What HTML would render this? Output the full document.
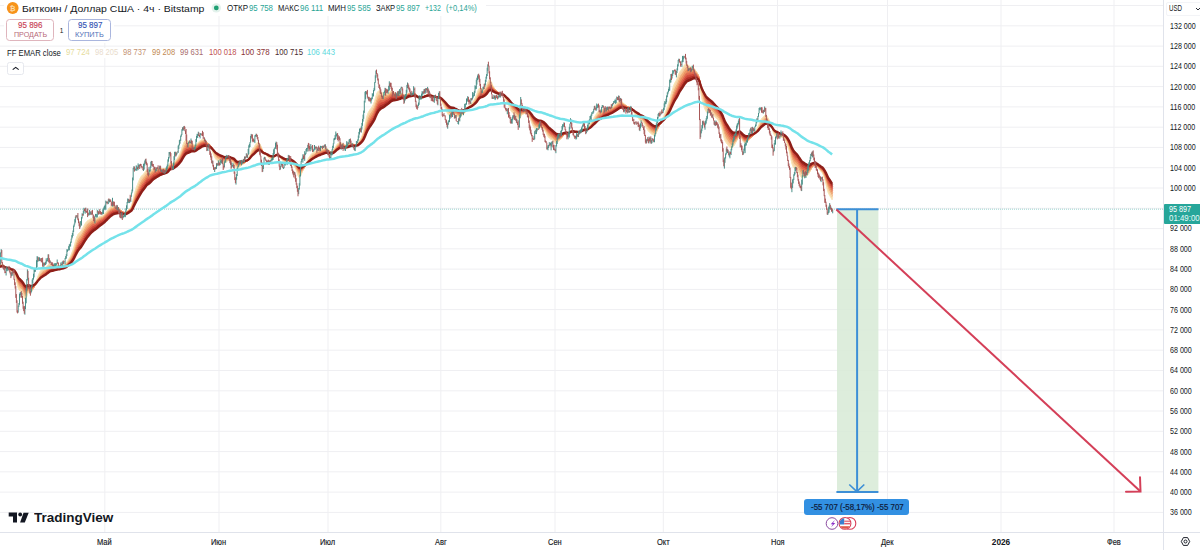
<!DOCTYPE html>
<html><head><meta charset="utf-8"><style>
*{margin:0;padding:0;box-sizing:border-box}
body{width:1200px;height:550px;overflow:hidden;background:#fff;position:relative;font-family:"Liberation Sans",sans-serif;color:#131722}
svg{position:absolute;left:0;top:0;overflow:visible}
.pl{position:absolute;left:1170px;white-space:nowrap;font-size:7.8px;line-height:7.8px;color:#131722;letter-spacing:-0.34px}
.ml{position:absolute;top:538.2px;width:40px;text-align:center;font-size:7.5px;line-height:7.5px;color:#131722}
.b{font-weight:bold}
.abs{position:absolute;white-space:nowrap;line-height:1}
</style></head><body>
<svg width="1200" height="550">
<g stroke="#efeff2" stroke-width="1"><line x1="0" x2="1163" y1="5.5" y2="5.5" />
<line x1="0" x2="1163" y1="25.8" y2="25.8" />
<line x1="0" x2="1163" y1="46.1" y2="46.1" />
<line x1="0" x2="1163" y1="66.3" y2="66.3" />
<line x1="0" x2="1163" y1="86.6" y2="86.6" />
<line x1="0" x2="1163" y1="106.9" y2="106.9" />
<line x1="0" x2="1163" y1="127.2" y2="127.2" />
<line x1="0" x2="1163" y1="147.4" y2="147.4" />
<line x1="0" x2="1163" y1="167.7" y2="167.7" />
<line x1="0" x2="1163" y1="188.0" y2="188.0" />
<line x1="0" x2="1163" y1="208.3" y2="208.3" />
<line x1="0" x2="1163" y1="228.6" y2="228.6" />
<line x1="0" x2="1163" y1="248.8" y2="248.8" />
<line x1="0" x2="1163" y1="269.1" y2="269.1" />
<line x1="0" x2="1163" y1="289.4" y2="289.4" />
<line x1="0" x2="1163" y1="309.6" y2="309.6" />
<line x1="0" x2="1163" y1="329.9" y2="329.9" />
<line x1="0" x2="1163" y1="350.2" y2="350.2" />
<line x1="0" x2="1163" y1="370.5" y2="370.5" />
<line x1="0" x2="1163" y1="390.8" y2="390.8" />
<line x1="0" x2="1163" y1="411.0" y2="411.0" />
<line x1="0" x2="1163" y1="431.3" y2="431.3" />
<line x1="0" x2="1163" y1="451.6" y2="451.6" />
<line x1="0" x2="1163" y1="471.8" y2="471.8" />
<line x1="0" x2="1163" y1="492.1" y2="492.1" />
<line x1="0" x2="1163" y1="512.4" y2="512.4" />
<line y1="0" y2="532" x1="104.8" x2="104.8" />
<line y1="0" y2="532" x1="219" x2="219" />
<line y1="0" y2="532" x1="328" x2="328" />
<line y1="0" y2="532" x1="440.8" x2="440.8" />
<line y1="0" y2="532" x1="555" x2="555" />
<line y1="0" y2="532" x1="663.3" x2="663.3" />
<line y1="0" y2="532" x1="777.5" x2="777.5" />
<line y1="0" y2="532" x1="887.5" x2="887.5" />
<line y1="0" y2="532" x1="1001" x2="1001" />
<line y1="0" y2="532" x1="1114" x2="1114" /></g>
<line x1="0" x2="1163" y1="209.2" y2="209.2" stroke="#26a69a" stroke-width="1" stroke-dasharray="1,1" opacity="0.45"/>
<path d="M0.0,266.9 L1.2,264.3 L2.4,264.5 L3.6,265.4 L4.9,266.5 L6.1,267.6 L7.3,268.2 L8.5,268.6 L9.7,269.3 L10.9,270.8 L12.2,271.5 L13.4,272.0 L14.6,274.0 L15.8,277.6 L17.0,283.1 L18.2,288.1 L19.5,290.4 L20.7,291.3 L21.9,292.4 L23.1,295.0 L24.3,298.2 L25.5,299.2 L26.8,296.6 L28.0,292.7 L29.2,291.7 L30.4,292.0 L31.6,291.2 L32.8,289.4 L34.1,286.6 L35.3,283.6 L36.5,280.6 L37.7,276.9 L38.9,274.1 L40.1,271.6 L41.4,269.9 L42.6,268.9 L43.8,268.3 L45.0,267.8 L46.2,266.9 L47.4,265.7 L48.7,264.3 L49.9,264.1 L51.1,264.0 L52.3,264.4 L53.5,265.0 L54.7,265.4 L56.0,265.5 L57.2,265.2 L58.4,265.5 L59.6,265.9 L60.8,265.9 L62.0,265.8 L63.3,265.3 L64.5,264.9 L65.7,264.0 L66.9,262.2 L68.1,260.4 L69.3,258.3 L70.6,256.1 L71.8,253.1 L73.0,250.0 L74.2,246.0 L75.4,241.6 L76.6,237.6 L77.9,234.6 L79.1,233.1 L80.3,232.2 L81.5,230.6 L82.7,228.4 L83.9,225.9 L85.2,223.6 L86.4,221.9 L87.6,220.8 L88.8,220.1 L90.0,219.3 L91.2,218.7 L92.5,218.2 L93.7,218.6 L94.9,218.9 L96.1,218.7 L97.3,218.0 L98.5,217.3 L99.8,216.6 L101.0,216.3 L102.2,216.0 L103.4,215.2 L104.6,214.0 L105.8,212.3 L107.1,210.7 L108.3,209.2 L109.5,207.8 L110.7,206.8 L111.9,206.5 L113.1,206.0 L114.4,206.1 L115.6,206.7 L116.8,207.1 L118.0,207.5 L119.2,208.6 L120.4,210.1 L121.7,211.5 L122.9,212.8 L124.1,213.6 L125.3,213.7 L126.5,212.8 L127.7,211.0 L128.9,209.5 L130.2,208.1 L131.4,205.9 L132.6,202.2 L133.8,196.4 L135.0,191.9 L136.2,188.0 L137.5,184.7 L138.7,181.5 L139.9,178.8 L141.1,176.6 L142.3,175.2 L143.5,174.3 L144.8,172.4 L146.0,170.5 L147.2,170.1 L148.4,171.0 L149.6,171.0 L150.8,170.3 L152.1,169.1 L153.3,168.5 L154.5,168.5 L155.7,168.8 L156.9,168.5 L158.1,168.4 L159.4,168.1 L160.6,168.2 L161.8,168.4 L163.0,168.7 L164.2,168.9 L165.4,169.1 L166.7,168.7 L167.9,167.4 L169.1,164.9 L170.3,162.6 L171.5,162.8 L172.7,163.6 L174.0,162.9 L175.2,161.1 L176.4,159.6 L177.6,158.1 L178.8,156.1 L180.0,153.5 L181.3,150.2 L182.5,146.4 L183.7,143.0 L184.9,140.8 L186.1,139.7 L187.3,140.8 L188.6,141.5 L189.8,141.8 L191.0,142.0 L192.2,142.9 L193.4,144.3 L194.6,145.3 L195.9,145.1 L197.1,143.7 L198.3,142.3 L199.5,141.4 L200.7,140.4 L201.9,139.7 L203.2,139.4 L204.4,139.7 L205.6,140.4 L206.8,142.1 L208.0,143.4 L209.2,144.3 L210.5,146.6 L211.7,149.6 L212.9,152.6 L214.1,155.9 L215.3,158.4 L216.5,160.0 L217.8,160.9 L219.0,161.5 L220.2,162.0 L221.4,162.0 L222.6,162.3 L223.8,163.2 L225.1,163.0 L226.3,161.9 L227.5,161.0 L228.7,160.1 L229.9,160.2 L231.1,161.0 L232.4,161.8 L233.6,162.5 L234.8,164.8 L236.0,167.7 L237.2,168.4 L238.4,167.8 L239.7,166.7 L240.9,165.7 L242.1,164.8 L243.3,163.9 L244.5,162.7 L245.7,161.6 L247.0,160.4 L248.2,159.0 L249.4,156.4 L250.6,153.2 L251.8,150.0 L253.0,148.2 L254.3,146.8 L255.5,144.7 L256.7,142.9 L257.9,142.2 L259.1,142.7 L260.3,144.7 L261.5,148.0 L262.8,151.9 L264.0,153.4 L265.2,154.3 L266.4,155.6 L267.6,156.7 L268.8,157.9 L270.1,158.7 L271.3,159.1 L272.5,159.2 L273.7,158.0 L274.9,156.4 L276.1,154.3 L277.4,153.9 L278.6,154.7 L279.8,157.2 L281.0,158.9 L282.2,160.1 L283.4,161.6 L284.7,162.4 L285.9,162.6 L287.1,162.3 L288.3,161.5 L289.5,161.1 L290.7,161.6 L292.0,163.0 L293.2,164.8 L294.4,166.6 L295.6,168.7 L296.8,171.7 L298.0,175.5 L299.3,177.4 L300.5,176.2 L301.7,173.3 L302.9,170.4 L304.1,168.0 L305.3,165.3 L306.6,162.4 L307.8,159.5 L309.0,157.3 L310.2,155.7 L311.4,154.0 L312.6,153.0 L313.9,152.3 L315.1,151.4 L316.3,150.6 L317.5,150.3 L318.7,149.8 L319.9,149.7 L321.2,149.3 L322.4,148.9 L323.6,148.5 L324.8,148.1 L326.0,148.3 L327.2,148.8 L328.5,149.7 L329.7,151.1 L330.9,152.0 L332.1,152.0 L333.3,150.8 L334.5,148.7 L335.8,146.5 L337.0,144.3 L338.2,143.2 L339.4,142.3 L340.6,142.8 L341.8,143.4 L343.1,143.9 L344.3,144.7 L345.5,145.3 L346.7,145.3 L347.9,145.0 L349.1,144.3 L350.4,143.6 L351.6,143.7 L352.8,143.9 L354.0,144.5 L355.2,144.9 L356.4,144.5 L357.7,143.8 L358.9,142.0 L360.1,139.7 L361.3,137.8 L362.5,134.8 L363.7,130.9 L365.0,124.9 L366.2,119.1 L367.4,114.8 L368.6,111.9 L369.8,109.9 L371.0,108.4 L372.3,106.5 L373.5,104.2 L374.7,101.0 L375.9,96.4 L377.1,92.8 L378.3,91.1 L379.6,90.7 L380.8,91.4 L382.0,92.6 L383.2,93.7 L384.4,93.8 L385.6,93.4 L386.8,93.4 L388.1,93.3 L389.3,92.3 L390.5,91.3 L391.7,91.1 L392.9,91.9 L394.1,92.7 L395.4,93.3 L396.6,94.0 L397.8,94.5 L399.0,94.5 L400.2,94.4 L401.4,93.4 L402.7,93.7 L403.9,95.2 L405.1,95.9 L406.3,95.6 L407.5,94.0 L408.7,93.1 L410.0,93.1 L411.2,93.4 L412.4,93.6 L413.6,93.3 L414.8,93.3 L416.0,95.2 L417.3,97.4 L418.5,98.8 L419.7,99.0 L420.9,98.8 L422.1,98.2 L423.3,97.3 L424.6,96.2 L425.8,95.0 L427.0,94.4 L428.2,94.0 L429.4,94.0 L430.6,94.7 L431.9,95.7 L433.1,96.8 L434.3,97.5 L435.5,97.6 L436.7,98.0 L437.9,98.8 L439.2,98.1 L440.4,99.1 L441.6,101.2 L442.8,103.8 L444.0,106.1 L445.2,108.4 L446.5,111.2 L447.7,113.9 L448.9,115.3 L450.1,115.7 L451.3,115.5 L452.5,115.0 L453.8,114.5 L455.0,114.9 L456.2,115.5 L457.4,116.4 L458.6,116.9 L459.8,116.9 L461.1,115.8 L462.3,114.8 L463.5,113.9 L464.7,112.5 L465.9,110.6 L467.1,108.3 L468.4,106.4 L469.6,105.3 L470.8,104.1 L472.0,102.9 L473.2,101.4 L474.4,99.6 L475.7,97.1 L476.9,94.1 L478.1,90.6 L479.3,88.3 L480.5,88.0 L481.7,88.8 L483.0,88.7 L484.2,88.4 L485.4,87.3 L486.6,85.4 L487.8,82.2 L489.0,79.9 L490.3,80.2 L491.5,82.3 L492.7,85.5 L493.9,87.9 L495.1,89.8 L496.3,91.4 L497.6,92.8 L498.8,93.8 L500.0,94.4 L501.2,94.5 L502.4,94.7 L503.6,95.9 L504.9,98.2 L506.1,100.7 L507.3,102.9 L508.5,105.0 L509.7,107.4 L510.9,110.5 L512.2,112.5 L513.4,113.5 L514.6,114.7 L515.8,115.6 L517.0,117.1 L518.2,118.9 L519.4,119.5 L520.7,116.6 L521.9,114.6 L523.1,114.0 L524.3,113.5 L525.5,113.1 L526.7,113.4 L528.0,114.1 L529.2,116.2 L530.4,119.1 L531.6,122.1 L532.8,125.3 L534.0,127.7 L535.3,128.5 L536.5,129.0 L537.7,129.1 L538.9,128.7 L540.1,127.6 L541.3,127.4 L542.6,127.8 L543.8,129.1 L545.0,130.9 L546.2,132.8 L547.4,135.5 L548.6,137.2 L549.9,138.5 L551.1,139.4 L552.3,139.9 L553.5,141.0 L554.7,142.4 L555.9,143.4 L557.2,142.7 L558.4,141.3 L559.6,140.0 L560.8,138.9 L562.0,137.1 L563.2,135.0 L564.5,133.2 L565.7,132.6 L566.9,132.9 L568.1,133.5 L569.3,132.9 L570.5,130.8 L571.8,129.8 L573.0,130.1 L574.2,130.9 L575.4,131.8 L576.6,132.2 L577.8,132.5 L579.1,132.3 L580.3,132.0 L581.5,131.1 L582.7,129.8 L583.9,128.4 L585.1,128.1 L586.4,128.4 L587.6,127.8 L588.8,126.3 L590.0,124.7 L591.2,122.7 L592.4,120.5 L593.7,118.3 L594.9,116.2 L596.1,114.5 L597.3,112.6 L598.5,111.2 L599.7,110.9 L601.0,110.8 L602.2,109.8 L603.4,109.0 L604.6,108.7 L605.8,108.7 L607.0,108.5 L608.3,108.2 L609.5,107.9 L610.7,107.6 L611.9,107.3 L613.1,106.5 L614.3,105.4 L615.6,104.4 L616.8,103.2 L618.0,102.2 L619.2,101.3 L620.4,101.0 L621.6,101.4 L622.9,102.5 L624.1,104.0 L625.3,105.0 L626.5,106.1 L627.7,107.0 L628.9,107.6 L630.2,108.1 L631.4,108.6 L632.6,110.5 L633.8,112.5 L635.0,114.4 L636.2,115.9 L637.5,117.2 L638.7,118.7 L639.9,120.4 L641.1,120.9 L642.3,121.3 L643.5,122.4 L644.7,124.2 L646.0,127.1 L647.2,129.2 L648.4,131.1 L649.6,132.3 L650.8,133.5 L652.0,134.3 L653.3,135.0 L654.5,135.1 L655.7,134.0 L656.9,131.5 L658.1,128.2 L659.3,124.9 L660.6,122.4 L661.8,120.0 L663.0,117.9 L664.2,115.3 L665.4,112.4 L666.6,109.2 L667.9,105.5 L669.1,102.0 L670.3,97.6 L671.5,92.9 L672.7,88.9 L673.9,85.0 L675.2,82.2 L676.4,80.2 L677.6,77.5 L678.8,74.0 L680.0,71.6 L681.2,70.2 L682.5,68.3 L683.7,66.3 L684.9,64.5 L686.1,63.8 L687.3,64.3 L688.5,65.4 L689.8,66.3 L691.0,67.1 L692.2,67.6 L693.4,67.9 L694.6,69.1 L695.8,70.9 L697.1,73.3 L698.3,75.9 L699.5,82.3 L700.7,91.9 L701.9,98.7 L703.1,103.3 L704.4,107.6 L705.6,110.7 L706.8,112.3 L708.0,112.3 L709.2,112.2 L710.4,112.5 L711.7,113.1 L712.9,113.9 L714.1,115.6 L715.3,117.1 L716.5,118.3 L717.7,119.6 L719.0,121.7 L720.2,124.2 L721.4,127.3 L722.6,130.9 L723.8,136.7 L725.0,140.8 L726.3,142.8 L727.5,144.4 L728.7,146.0 L729.9,147.4 L731.1,148.2 L732.3,147.7 L733.6,146.3 L734.8,144.3 L736.0,142.1 L737.2,139.3 L738.4,136.4 L739.6,134.9 L740.9,136.8 L742.1,139.2 L743.3,141.7 L744.5,142.8 L745.7,142.8 L746.9,142.2 L748.2,141.1 L749.4,139.4 L750.6,137.4 L751.8,135.9 L753.0,134.3 L754.2,133.2 L755.5,131.5 L756.7,129.3 L757.9,127.0 L759.1,124.0 L760.3,121.1 L761.5,118.8 L762.8,117.5 L764.0,116.2 L765.2,114.9 L766.4,115.5 L767.6,117.4 L768.8,119.6 L770.0,122.4 L771.3,125.3 L772.5,129.5 L773.7,133.7 L774.9,135.7 L776.1,136.4 L777.3,136.6 L778.6,137.0 L779.8,137.3 L781.0,137.3 L782.2,137.2 L783.4,137.7 L784.6,138.9 L785.9,140.7 L787.1,143.7 L788.3,147.7 L789.5,151.7 L790.7,157.7 L791.9,163.5 L793.2,167.0 L794.4,168.4 L795.6,168.6 L796.8,169.2 L798.0,170.9 L799.2,173.5 L800.5,176.0 L801.7,177.8 L802.9,177.1 L804.1,176.7 L805.3,176.4 L806.5,176.0 L807.8,175.0 L809.0,173.2 L810.2,170.8 L811.4,167.9 L812.6,165.4 L813.8,164.0 L815.1,164.2 L816.3,165.1 L817.5,166.3 L818.7,168.1 L819.9,169.9 L821.1,171.6 L822.4,172.9 L823.6,175.6 L824.8,179.6 L826.0,184.1 L827.2,189.1 L828.4,193.1 L829.7,195.4 L830.9,197.6 L832.1,199.8 L832.7,197.6 L831.5,195.6 L830.3,193.4 L829.1,191.0 L827.8,188.1 L826.6,183.8 L825.4,179.7 L824.2,176.0 L823.0,173.1 L821.8,171.4 L820.5,170.2 L819.3,168.7 L818.1,167.3 L816.9,166.1 L815.7,165.3 L814.5,164.9 L813.2,165.6 L812.0,167.5 L810.8,169.7 L809.6,171.9 L808.4,173.5 L807.2,174.5 L805.9,174.7 L804.7,174.7 L803.5,174.7 L802.3,175.1 L801.1,174.4 L799.9,171.9 L798.6,169.4 L797.4,167.2 L796.2,165.8 L795.0,165.2 L793.8,164.1 L792.6,161.7 L791.3,157.3 L790.1,151.7 L788.9,147.5 L787.7,144.0 L786.5,141.0 L785.3,138.9 L784.0,137.5 L782.8,136.6 L781.6,136.4 L780.4,136.4 L779.2,136.1 L778.0,135.5 L776.7,134.9 L775.5,134.4 L774.3,133.1 L773.1,130.3 L771.9,126.6 L770.7,123.6 L769.4,121.2 L768.2,119.4 L767.0,117.9 L765.8,116.9 L764.6,117.6 L763.4,119.0 L762.1,120.3 L760.9,122.1 L759.7,124.5 L758.5,127.3 L757.3,129.6 L756.1,131.6 L754.8,133.3 L753.6,134.6 L752.4,135.7 L751.2,137.2 L750.0,138.6 L748.8,140.2 L747.5,141.3 L746.3,142.0 L745.1,142.2 L743.9,141.6 L742.7,140.2 L741.5,138.0 L740.2,136.4 L739.0,135.7 L737.8,138.3 L736.6,140.6 L735.4,142.6 L734.2,144.0 L732.9,145.2 L731.7,145.7 L730.5,145.2 L729.3,143.8 L728.1,141.9 L726.9,140.2 L725.6,138.4 L724.4,135.4 L723.2,130.5 L722.0,126.2 L720.8,123.3 L719.6,120.9 L718.3,118.5 L717.1,116.9 L715.9,115.6 L714.7,114.2 L713.5,112.5 L712.3,111.2 L711.0,110.2 L709.8,109.5 L708.6,109.0 L707.4,108.7 L706.2,107.5 L705.0,104.9 L703.8,101.1 L702.5,96.9 L701.3,91.8 L700.1,84.9 L698.9,77.1 L697.7,73.9 L696.5,72.0 L695.2,70.2 L694.0,69.0 L692.8,68.4 L691.6,68.5 L690.4,68.0 L689.2,67.6 L687.9,67.1 L686.7,66.7 L685.5,67.1 L684.3,68.6 L683.1,70.7 L681.9,72.7 L680.6,74.5 L679.4,76.5 L678.2,79.5 L677.0,82.7 L675.8,85.1 L674.6,87.4 L673.3,90.8 L672.1,94.6 L670.9,98.5 L669.7,102.8 L668.5,106.5 L667.3,109.7 L666.0,113.0 L664.8,115.7 L663.6,118.3 L662.4,120.4 L661.2,122.3 L660.0,124.5 L658.7,126.9 L657.5,129.7 L656.3,132.1 L655.1,133.5 L653.9,133.7 L652.7,132.8 L651.4,132.1 L650.2,130.9 L649.0,129.6 L647.8,128.2 L646.6,126.3 L645.4,124.0 L644.1,121.8 L642.9,120.5 L641.7,119.7 L640.5,119.3 L639.3,118.2 L638.1,116.6 L636.8,115.3 L635.6,113.9 L634.4,112.4 L633.2,110.6 L632.0,108.8 L630.8,107.8 L629.5,107.5 L628.3,106.8 L627.1,106.4 L625.9,105.4 L624.7,104.6 L623.5,103.6 L622.2,102.5 L621.0,101.9 L619.8,102.2 L618.6,102.7 L617.4,103.7 L616.2,104.8 L614.9,105.8 L613.7,106.8 L612.5,107.6 L611.3,108.3 L610.1,108.5 L608.9,108.8 L607.6,109.2 L606.4,109.6 L605.2,109.8 L604.0,110.2 L602.8,110.7 L601.6,111.7 L600.3,112.4 L599.1,112.7 L597.9,113.7 L596.7,115.4 L595.5,117.0 L594.3,118.8 L593.0,120.9 L591.8,122.7 L590.6,124.6 L589.4,126.3 L588.2,127.6 L587.0,128.5 L585.7,128.7 L584.5,128.6 L583.3,129.4 L582.1,130.8 L580.9,131.6 L579.7,132.2 L578.4,132.4 L577.2,132.3 L576.0,132.2 L574.8,131.6 L573.6,131.0 L572.4,130.6 L571.2,130.9 L569.9,132.6 L568.7,133.9 L567.5,133.8 L566.3,133.5 L565.1,133.7 L563.9,134.7 L562.6,136.5 L561.4,138.1 L560.2,139.2 L559.0,140.1 L557.8,141.1 L556.6,141.9 L555.3,141.6 L554.1,140.2 L552.9,138.8 L551.7,138.1 L550.5,137.3 L549.3,136.1 L548.0,134.8 L546.8,132.8 L545.6,130.6 L544.4,128.9 L543.2,127.6 L542.0,126.8 L540.7,126.6 L539.5,127.2 L538.3,127.7 L537.1,127.5 L535.9,127.0 L534.7,126.3 L533.4,124.7 L532.2,122.1 L531.0,119.3 L529.8,116.8 L528.6,114.6 L527.4,113.6 L526.1,113.2 L524.9,113.2 L523.7,113.6 L522.5,113.9 L521.3,114.8 L520.1,116.9 L518.8,117.8 L517.6,116.0 L516.4,114.5 L515.2,113.1 L514.0,112.0 L512.8,110.9 L511.5,109.4 L510.3,106.9 L509.1,104.4 L507.9,102.3 L506.7,100.4 L505.5,98.3 L504.2,96.1 L503.0,94.5 L501.8,93.9 L500.6,93.7 L499.4,93.3 L498.2,92.6 L496.9,91.5 L495.7,90.1 L494.5,88.7 L493.3,86.9 L492.1,84.7 L490.9,82.5 L489.6,81.8 L488.4,82.8 L487.2,85.7 L486.0,88.0 L484.8,89.4 L483.6,90.0 L482.3,90.4 L481.1,90.4 L479.9,90.3 L478.7,91.7 L477.5,94.5 L476.3,97.6 L475.0,99.9 L473.8,101.9 L472.6,103.4 L471.4,104.7 L470.2,105.9 L469.0,106.8 L467.7,108.2 L466.5,110.1 L465.3,111.8 L464.1,113.3 L462.9,114.1 L461.7,114.9 L460.4,115.7 L459.2,116.1 L458.0,115.7 L456.8,115.0 L455.6,114.1 L454.4,113.7 L453.1,113.5 L451.9,113.9 L450.7,113.8 L449.5,113.6 L448.3,112.6 L447.1,110.7 L445.9,108.0 L444.6,105.7 L443.4,103.7 L442.2,101.6 L441.0,99.6 L439.8,98.0 L438.6,98.2 L437.3,98.3 L436.1,97.4 L434.9,97.2 L433.7,97.0 L432.5,96.0 L431.3,95.2 L430.0,94.5 L428.8,94.3 L427.6,94.4 L426.4,94.9 L425.2,95.8 L424.0,96.6 L422.7,97.4 L421.5,97.9 L420.3,98.1 L419.1,98.1 L417.9,97.4 L416.7,95.8 L415.4,94.0 L414.2,93.1 L413.0,93.6 L411.8,93.6 L410.6,93.3 L409.4,93.3 L408.1,93.6 L406.9,94.8 L405.7,95.6 L404.5,95.3 L403.3,94.3 L402.1,93.4 L400.8,94.0 L399.6,94.4 L398.4,94.5 L397.2,94.2 L396.0,93.9 L394.8,93.3 L393.5,92.7 L392.3,92.2 L391.1,92.1 L389.9,92.8 L388.7,93.9 L387.5,94.4 L386.2,94.4 L385.0,94.8 L383.8,95.2 L382.6,95.1 L381.4,94.3 L380.2,93.9 L378.9,94.2 L377.7,95.5 L376.5,98.2 L375.3,102.4 L374.1,106.1 L372.9,108.7 L371.6,110.9 L370.4,112.6 L369.2,114.6 L368.0,117.0 L366.8,120.4 L365.6,125.0 L364.3,130.5 L363.1,134.7 L361.9,137.6 L360.7,139.8 L359.5,141.4 L358.3,143.3 L357.0,144.3 L355.8,144.8 L354.6,144.7 L353.4,144.1 L352.2,143.9 L351.0,143.8 L349.7,144.1 L348.5,144.9 L347.3,145.2 L346.1,145.4 L344.9,145.2 L343.7,144.6 L342.4,144.0 L341.2,143.8 L340.0,143.4 L338.8,143.8 L337.6,144.8 L336.4,146.4 L335.1,148.3 L333.9,150.0 L332.7,151.5 L331.5,152.0 L330.3,151.5 L329.1,150.4 L327.8,149.6 L326.6,149.1 L325.4,148.8 L324.2,149.1 L323.0,149.6 L321.8,150.0 L320.5,150.5 L319.3,150.8 L318.1,151.2 L316.9,151.8 L315.7,152.5 L314.5,153.4 L313.3,154.3 L312.0,155.0 L310.8,156.5 L309.6,158.2 L308.4,159.8 L307.2,162.3 L306.0,164.8 L304.7,167.1 L303.5,169.1 L302.3,171.4 L301.1,173.5 L299.9,175.2 L298.7,174.5 L297.4,171.7 L296.2,168.6 L295.0,166.4 L293.8,164.8 L292.6,163.3 L291.4,161.8 L290.1,160.9 L288.9,160.8 L287.7,161.5 L286.5,161.9 L285.3,161.7 L284.1,161.2 L282.8,160.2 L281.6,158.9 L280.4,157.8 L279.2,155.9 L278.0,154.4 L276.8,154.2 L275.5,155.5 L274.3,157.0 L273.1,158.1 L271.9,158.3 L270.7,158.0 L269.5,157.3 L268.2,156.2 L267.0,155.2 L265.8,154.1 L264.6,153.0 L263.4,152.2 L262.2,150.0 L260.9,146.8 L259.7,144.8 L258.5,144.0 L257.3,144.4 L256.1,145.8 L254.9,147.7 L253.6,149.4 L252.4,151.0 L251.2,153.2 L250.0,156.3 L248.8,158.7 L247.6,160.4 L246.3,161.3 L245.1,162.4 L243.9,163.5 L242.7,164.3 L241.5,164.9 L240.3,165.6 L239.0,166.5 L237.8,167.0 L236.6,166.9 L235.4,165.3 L234.2,162.7 L233.0,161.6 L231.7,161.0 L230.5,160.2 L229.3,159.9 L228.1,160.2 L226.9,160.9 L225.7,161.6 L224.4,161.9 L223.2,161.5 L222.0,160.7 L220.8,160.6 L219.6,160.1 L218.4,159.3 L217.1,158.5 L215.9,157.3 L214.7,155.2 L213.5,152.6 L212.3,149.6 L211.1,147.1 L209.8,144.9 L208.6,143.5 L207.4,142.9 L206.2,141.3 L205.0,140.5 L203.8,140.2 L202.5,140.3 L201.3,140.9 L200.1,141.7 L198.9,142.5 L197.7,143.7 L196.5,144.8 L195.2,145.6 L194.0,145.3 L192.8,144.3 L191.6,143.2 L190.4,143.2 L189.2,143.1 L188.0,143.1 L186.7,142.5 L185.5,142.8 L184.3,144.6 L183.1,147.4 L181.9,150.6 L180.7,153.7 L179.4,156.4 L178.2,158.5 L177.0,159.9 L175.8,161.3 L174.6,162.8 L173.4,163.9 L172.1,164.0 L170.9,163.3 L169.7,164.4 L168.5,166.8 L167.3,168.3 L166.1,169.0 L164.8,169.0 L163.6,168.9 L162.4,168.7 L161.2,168.6 L160.0,168.5 L158.8,168.9 L157.5,169.0 L156.3,169.4 L155.1,169.7 L153.9,169.6 L152.7,170.0 L151.5,171.0 L150.2,172.2 L149.0,172.7 L147.8,172.6 L146.6,172.5 L145.4,174.0 L144.2,176.2 L142.9,177.7 L141.7,179.0 L140.5,180.9 L139.3,183.5 L138.1,186.4 L136.9,189.5 L135.6,192.9 L134.4,196.7 L133.2,201.1 L132.0,205.6 L130.8,207.9 L129.6,209.2 L128.3,210.4 L127.1,211.8 L125.9,212.9 L124.7,213.1 L123.5,212.6 L122.3,211.7 L121.0,210.6 L119.8,209.2 L118.6,208.3 L117.4,207.8 L116.2,207.4 L115.0,207.1 L113.7,207.0 L112.5,207.3 L111.3,207.9 L110.1,208.6 L108.9,209.8 L107.7,211.2 L106.4,212.5 L105.2,214.1 L104.0,215.4 L102.8,216.4 L101.6,216.9 L100.4,217.3 L99.1,217.8 L97.9,218.4 L96.7,219.4 L95.5,219.8 L94.3,220.1 L93.1,219.8 L91.8,220.2 L90.6,220.9 L89.4,221.9 L88.2,222.9 L87.0,224.0 L85.8,225.5 L84.5,227.7 L83.3,230.1 L82.1,232.3 L80.9,234.4 L79.7,235.9 L78.5,237.1 L77.2,239.4 L76.0,242.8 L74.8,246.7 L73.6,250.4 L72.4,253.7 L71.2,256.3 L69.9,258.6 L68.7,260.5 L67.5,262.1 L66.3,263.7 L65.1,264.8 L63.9,265.3 L62.7,265.7 L61.4,266.0 L60.2,266.1 L59.0,266.0 L57.8,265.6 L56.6,265.8 L55.4,266.0 L54.1,265.9 L52.9,265.6 L51.7,265.3 L50.5,265.4 L49.3,265.7 L48.1,266.5 L46.8,268.0 L45.6,269.1 L44.4,269.9 L43.2,270.7 L42.0,271.4 L40.8,273.0 L39.5,275.1 L38.3,277.5 L37.1,280.4 L35.9,283.4 L34.7,286.0 L33.5,288.4 L32.2,290.3 L31.0,291.3 L29.8,291.3 L28.6,291.4 L27.4,293.1 L26.2,296.1 L24.9,296.4 L23.7,293.8 L22.5,291.1 L21.3,289.3 L20.1,288.2 L18.9,286.8 L17.6,283.4 L16.4,278.3 L15.2,274.5 L14.0,272.2 L12.8,271.1 L11.6,270.6 L10.3,269.6 L9.1,268.6 L7.9,268.2 L6.7,267.8 L5.5,267.1 L4.3,265.9 L3.0,265.2 L1.8,264.8 L0.6,266.0 Z" fill="#f7d8b0" stroke="#f7d8b0" stroke-width="0.6"/>
<path d="M0.0,267.0 L1.2,264.9 L2.4,265.0 L3.6,265.6 L4.9,266.5 L6.1,267.5 L7.3,268.0 L8.5,268.4 L9.7,269.0 L10.9,270.2 L12.2,271.0 L13.4,271.4 L14.6,273.2 L15.8,276.2 L17.0,280.9 L18.2,285.3 L19.5,287.6 L20.7,288.7 L21.9,290.0 L23.1,292.4 L24.3,295.4 L25.5,296.6 L26.8,294.9 L28.0,291.9 L29.2,291.2 L30.4,291.5 L31.6,290.9 L32.8,289.5 L34.1,287.2 L35.3,284.7 L36.5,282.0 L37.7,278.8 L38.9,276.2 L40.1,273.9 L41.4,272.2 L42.6,271.1 L43.8,270.2 L45.0,269.6 L46.2,268.6 L47.4,267.4 L48.7,266.0 L49.9,265.5 L51.1,265.3 L52.3,265.4 L53.5,265.8 L54.7,266.0 L56.0,265.9 L57.2,265.7 L58.4,265.8 L59.6,266.1 L60.8,266.0 L62.0,266.0 L63.3,265.6 L64.5,265.2 L65.7,264.4 L66.9,262.9 L68.1,261.3 L69.3,259.6 L70.6,257.5 L71.8,254.9 L73.0,252.2 L74.2,248.6 L75.4,244.7 L76.6,241.0 L77.9,238.1 L79.1,236.4 L80.3,235.2 L81.5,233.5 L82.7,231.3 L83.9,228.8 L85.2,226.5 L86.4,224.7 L87.6,223.4 L88.8,222.4 L90.0,221.4 L91.2,220.6 L92.5,219.9 L93.7,219.9 L94.9,220.0 L96.1,219.6 L97.3,218.9 L98.5,218.2 L99.8,217.5 L101.0,217.1 L102.2,216.7 L103.4,215.9 L104.6,214.8 L105.8,213.3 L107.1,211.8 L108.3,210.4 L109.5,209.1 L110.7,208.1 L111.9,207.7 L113.1,207.0 L114.4,207.0 L115.6,207.3 L116.8,207.6 L118.0,207.8 L119.2,208.7 L120.4,209.9 L121.7,211.0 L122.9,212.2 L124.1,212.9 L125.3,213.1 L126.5,212.5 L127.7,211.1 L128.9,209.8 L130.2,208.7 L131.4,206.8 L132.6,203.7 L133.8,198.7 L135.0,194.7 L136.2,191.1 L137.5,188.0 L138.7,184.9 L139.9,182.2 L141.1,179.9 L142.3,178.2 L143.5,177.1 L144.8,175.1 L146.0,173.2 L147.2,172.4 L148.4,172.8 L149.6,172.5 L150.8,171.7 L152.1,170.4 L153.3,169.8 L154.5,169.6 L155.7,169.6 L156.9,169.2 L158.1,169.0 L159.4,168.6 L160.6,168.5 L161.8,168.6 L163.0,168.8 L164.2,168.9 L165.4,169.1 L166.7,168.7 L167.9,167.6 L169.1,165.6 L170.3,163.6 L171.5,163.6 L172.7,164.1 L174.0,163.5 L175.2,162.0 L176.4,160.6 L177.6,159.3 L178.8,157.5 L180.0,155.2 L181.3,152.3 L182.5,148.9 L183.7,145.9 L184.9,143.7 L186.1,142.3 L187.3,142.9 L188.6,143.1 L189.8,143.2 L191.0,143.2 L192.2,143.8 L193.4,144.7 L194.6,145.6 L195.9,145.3 L197.1,144.2 L198.3,143.0 L199.5,142.2 L200.7,141.3 L201.9,140.6 L203.2,140.2 L204.4,140.4 L205.6,140.8 L206.8,142.1 L208.0,143.2 L209.2,144.0 L210.5,145.9 L211.7,148.4 L212.9,151.1 L214.1,154.0 L215.3,156.3 L216.5,157.9 L217.8,159.0 L219.0,159.7 L220.2,160.4 L221.4,160.6 L222.6,161.0 L223.8,161.9 L225.1,161.9 L226.3,161.2 L227.5,160.5 L228.7,159.9 L229.9,160.0 L231.1,160.6 L232.4,161.3 L233.6,161.9 L234.8,163.9 L236.0,166.3 L237.2,167.1 L238.4,166.8 L239.7,166.0 L240.9,165.3 L242.1,164.6 L243.3,163.8 L244.5,162.9 L245.7,161.9 L247.0,160.9 L248.2,159.7 L249.4,157.5 L250.6,154.7 L251.8,151.9 L253.0,150.1 L254.3,148.7 L255.5,146.8 L256.7,144.9 L257.9,144.0 L259.1,144.2 L260.3,145.6 L261.5,148.2 L262.8,151.3 L264.0,152.7 L265.2,153.5 L266.4,154.7 L267.6,155.7 L268.8,156.9 L270.1,157.7 L271.3,158.2 L272.5,158.4 L273.7,157.6 L274.9,156.3 L276.1,154.6 L277.4,154.3 L278.6,154.9 L279.8,156.9 L281.0,158.4 L282.2,159.5 L283.4,160.8 L284.7,161.5 L285.9,161.8 L287.1,161.7 L288.3,161.2 L289.5,160.8 L290.7,161.3 L292.0,162.5 L293.2,164.0 L294.4,165.6 L295.6,167.4 L296.8,170.0 L298.0,173.3 L299.3,175.2 L300.5,174.6 L301.7,172.5 L302.9,170.2 L304.1,168.2 L305.3,166.0 L306.6,163.5 L307.8,161.0 L309.0,159.0 L310.2,157.4 L311.4,155.8 L312.6,154.7 L313.9,153.9 L315.1,152.9 L316.3,152.0 L317.5,151.6 L318.7,151.0 L319.9,150.7 L321.2,150.3 L322.4,149.8 L323.6,149.3 L324.8,148.9 L326.0,148.9 L327.2,149.3 L328.5,150.0 L329.7,151.0 L330.9,151.8 L332.1,151.8 L333.3,150.9 L334.5,149.2 L335.8,147.4 L337.0,145.4 L338.2,144.3 L339.4,143.5 L340.6,143.7 L341.8,144.0 L343.1,144.3 L344.3,144.9 L345.5,145.3 L346.7,145.3 L347.9,145.0 L349.1,144.5 L350.4,143.8 L351.6,143.9 L352.8,144.0 L354.0,144.5 L355.2,144.8 L356.4,144.5 L357.7,143.9 L358.9,142.4 L360.1,140.5 L361.3,138.9 L362.5,136.3 L363.7,132.8 L365.0,127.7 L366.2,122.6 L367.4,118.6 L368.6,115.7 L369.8,113.5 L371.0,111.8 L372.3,109.8 L373.5,107.4 L374.7,104.4 L375.9,100.1 L377.1,96.7 L378.3,94.8 L379.6,93.9 L380.8,94.0 L382.0,94.6 L383.2,95.3 L384.4,95.1 L385.6,94.6 L386.8,94.4 L388.1,94.2 L389.3,93.3 L390.5,92.3 L391.7,92.0 L392.9,92.5 L394.1,93.0 L395.4,93.6 L396.6,94.1 L397.8,94.4 L399.0,94.5 L400.2,94.4 L401.4,93.6 L402.7,93.8 L403.9,95.0 L405.1,95.6 L406.3,95.4 L407.5,94.1 L408.7,93.4 L410.0,93.3 L411.2,93.5 L412.4,93.7 L413.6,93.4 L414.8,93.4 L416.0,94.9 L417.3,96.7 L418.5,98.0 L419.7,98.2 L420.9,98.1 L422.1,97.7 L423.3,97.1 L424.6,96.2 L425.8,95.3 L427.0,94.7 L428.2,94.3 L429.4,94.3 L430.6,94.8 L431.9,95.7 L433.1,96.5 L434.3,97.2 L435.5,97.3 L436.7,97.7 L437.9,98.4 L439.2,97.9 L440.4,98.7 L441.6,100.5 L442.8,102.7 L444.0,104.7 L445.2,106.8 L446.5,109.3 L447.7,111.8 L448.9,113.2 L450.1,113.8 L451.3,113.9 L452.5,113.7 L453.8,113.5 L455.0,113.9 L456.2,114.5 L457.4,115.4 L458.6,115.9 L459.8,116.0 L461.1,115.2 L462.3,114.5 L463.5,113.7 L464.7,112.6 L465.9,111.0 L467.1,109.1 L468.4,107.4 L469.6,106.3 L470.8,105.3 L472.0,104.1 L473.2,102.7 L474.4,101.0 L475.7,98.8 L476.9,96.1 L478.1,93.0 L479.3,90.8 L480.5,90.2 L481.7,90.5 L483.0,90.3 L484.2,89.8 L485.4,88.7 L486.6,86.9 L487.8,84.1 L489.0,82.1 L490.3,82.0 L491.5,83.5 L492.7,85.9 L493.9,87.8 L495.1,89.5 L496.3,90.8 L497.6,92.1 L498.8,93.0 L500.0,93.6 L501.2,93.8 L502.4,94.1 L503.6,95.2 L504.9,97.2 L506.1,99.4 L507.3,101.4 L508.5,103.4 L509.7,105.5 L510.9,108.3 L512.2,110.3 L513.4,111.4 L514.6,112.7 L515.8,113.7 L517.0,115.2 L518.2,117.0 L519.4,117.8 L520.7,115.6 L521.9,114.2 L523.1,113.7 L524.3,113.4 L525.5,113.1 L526.7,113.3 L528.0,113.8 L529.2,115.6 L530.4,118.0 L531.6,120.6 L532.8,123.4 L534.0,125.6 L535.3,126.6 L536.5,127.3 L537.7,127.6 L538.9,127.5 L540.1,126.7 L541.3,126.7 L542.6,127.1 L543.8,128.2 L545.0,129.8 L546.2,131.5 L547.4,133.9 L548.6,135.5 L549.9,136.8 L551.1,137.8 L552.3,138.4 L553.5,139.5 L554.7,140.9 L555.9,141.9 L557.2,141.5 L558.4,140.6 L559.6,139.6 L560.8,138.8 L562.0,137.4 L563.2,135.6 L564.5,134.1 L565.7,133.5 L566.9,133.6 L568.1,134.0 L569.3,133.4 L570.5,131.6 L571.8,130.7 L573.0,130.8 L574.2,131.3 L575.4,131.9 L576.6,132.2 L577.8,132.5 L579.1,132.3 L580.3,132.0 L581.5,131.3 L582.7,130.1 L583.9,128.9 L585.1,128.6 L586.4,128.8 L587.6,128.2 L588.8,126.9 L590.0,125.5 L591.2,123.7 L592.4,121.8 L593.7,119.8 L594.9,117.9 L596.1,116.3 L597.3,114.5 L598.5,113.0 L599.7,112.6 L601.0,112.2 L602.2,111.2 L603.4,110.3 L604.6,109.9 L605.8,109.7 L607.0,109.4 L608.3,109.1 L609.5,108.7 L610.7,108.4 L611.9,108.0 L613.1,107.2 L614.3,106.3 L615.6,105.4 L616.8,104.2 L618.0,103.3 L619.2,102.4 L620.4,102.0 L621.6,102.2 L622.9,103.0 L624.1,104.1 L625.3,105.0 L626.5,105.9 L627.7,106.7 L628.9,107.2 L630.2,107.7 L631.4,108.2 L632.6,109.8 L633.8,111.5 L635.0,113.2 L636.2,114.6 L637.5,115.9 L638.7,117.3 L639.9,118.9 L641.1,119.5 L642.3,120.0 L643.5,121.1 L644.7,122.7 L646.0,125.3 L647.2,127.2 L648.4,129.1 L649.6,130.3 L650.8,131.6 L652.0,132.5 L653.3,133.3 L654.5,133.6 L655.7,132.9 L656.9,131.0 L658.1,128.3 L659.3,125.6 L660.6,123.4 L661.8,121.3 L663.0,119.4 L664.2,117.0 L665.4,114.4 L666.6,111.5 L667.9,108.1 L669.1,104.8 L670.3,100.8 L671.5,96.5 L672.7,92.7 L673.9,89.0 L675.2,86.1 L676.4,84.0 L677.6,81.2 L678.8,77.9 L680.0,75.4 L681.2,73.7 L682.5,71.7 L683.7,69.6 L684.9,67.7 L686.1,66.7 L687.3,66.8 L688.5,67.3 L689.8,67.8 L691.0,68.3 L692.2,68.5 L693.4,68.7 L694.6,69.6 L695.8,71.0 L697.1,72.9 L698.3,75.2 L699.5,80.4 L700.7,88.6 L701.9,94.7 L703.1,99.0 L704.4,103.2 L705.6,106.3 L706.8,108.3 L708.0,108.8 L709.2,109.3 L710.4,109.9 L711.7,110.8 L712.9,111.8 L714.1,113.4 L715.3,115.0 L716.5,116.3 L717.7,117.6 L719.0,119.6 L720.2,121.9 L721.4,124.8 L722.6,128.1 L723.8,133.2 L725.0,137.1 L726.3,139.3 L727.5,141.0 L728.7,142.9 L729.9,144.5 L731.1,145.6 L732.3,145.6 L733.6,144.7 L734.8,143.3 L736.0,141.7 L737.2,139.4 L738.4,137.1 L739.6,135.7 L740.9,137.2 L742.1,139.0 L743.3,141.1 L744.5,142.0 L745.7,142.1 L746.9,141.7 L748.2,140.9 L749.4,139.5 L750.6,137.8 L751.8,136.5 L753.0,135.1 L754.2,134.0 L755.5,132.6 L756.7,130.6 L757.9,128.5 L759.1,125.8 L760.3,123.2 L761.5,121.1 L762.8,119.7 L764.0,118.4 L765.2,117.0 L766.4,117.2 L767.6,118.5 L768.8,120.2 L770.0,122.4 L771.3,124.9 L772.5,128.4 L773.7,132.0 L774.9,133.9 L776.1,134.8 L777.3,135.2 L778.6,135.8 L779.8,136.3 L781.0,136.5 L782.2,136.5 L783.4,137.1 L784.6,138.2 L785.9,139.8 L787.1,142.4 L788.3,145.8 L789.5,149.3 L790.7,154.6 L791.9,159.7 L793.2,163.1 L794.4,164.8 L795.6,165.5 L796.8,166.4 L798.0,168.2 L799.2,170.6 L800.5,173.1 L801.7,175.0 L802.9,174.8 L804.1,174.7 L805.3,174.8 L806.5,174.7 L807.8,174.1 L809.0,172.8 L810.2,170.8 L811.4,168.5 L812.6,166.4 L813.8,165.1 L815.1,165.1 L816.3,165.6 L817.5,166.6 L818.7,168.0 L819.9,169.4 L821.1,170.9 L822.4,172.1 L823.6,174.4 L824.8,177.8 L826.0,181.7 L827.2,186.1 L828.4,189.8 L829.7,192.1 L830.9,194.4 L832.1,196.7 L832.7,194.9 L831.5,192.8 L830.3,190.7 L829.1,188.3 L827.8,185.6 L826.6,181.7 L825.4,178.0 L824.2,174.8 L823.0,172.2 L821.8,170.8 L820.5,169.7 L819.3,168.4 L818.1,167.2 L816.9,166.2 L815.7,165.6 L814.5,165.3 L813.2,165.9 L812.0,167.6 L810.8,169.4 L809.6,171.1 L808.4,172.3 L807.2,173.0 L805.9,173.0 L804.7,172.7 L803.5,172.5 L802.3,172.5 L801.1,171.6 L799.9,169.1 L798.6,166.7 L797.4,164.6 L796.2,163.1 L795.0,162.3 L793.8,161.0 L792.6,158.5 L791.3,154.5 L790.1,149.5 L788.9,145.8 L787.7,142.7 L786.5,140.0 L785.3,138.1 L784.0,136.9 L782.8,136.0 L781.6,135.8 L780.4,135.6 L779.2,135.2 L778.0,134.5 L776.7,133.9 L775.5,133.3 L774.3,132.0 L773.1,129.6 L771.9,126.4 L770.7,123.8 L769.4,121.9 L768.2,120.4 L767.0,119.3 L765.8,118.7 L764.6,119.5 L763.4,120.8 L762.1,122.1 L760.9,123.8 L759.7,126.0 L758.5,128.5 L757.3,130.6 L756.1,132.4 L754.8,133.9 L753.6,135.0 L752.4,136.0 L751.2,137.3 L750.0,138.6 L748.8,139.9 L747.5,140.8 L746.3,141.3 L745.1,141.4 L743.9,140.9 L742.7,139.6 L741.5,137.7 L740.2,136.4 L739.0,135.8 L737.8,138.0 L736.6,139.8 L735.4,141.3 L734.2,142.3 L732.9,143.0 L731.7,143.1 L730.5,142.3 L729.3,140.8 L728.1,138.8 L726.9,137.0 L725.6,135.0 L724.4,132.1 L723.2,127.6 L722.0,123.7 L720.8,121.0 L719.6,118.7 L718.3,116.4 L717.1,114.8 L715.9,113.5 L714.7,112.0 L713.5,110.3 L712.3,109.0 L711.0,107.9 L709.8,107.0 L708.6,106.2 L707.4,105.6 L706.2,104.1 L705.0,101.5 L703.8,97.9 L702.5,94.0 L701.3,89.4 L700.1,83.3 L698.9,76.7 L697.7,74.1 L696.5,72.5 L695.2,71.0 L694.0,70.2 L692.8,69.8 L691.6,70.1 L690.4,69.8 L689.2,69.7 L687.9,69.6 L686.7,69.5 L685.5,70.2 L684.3,71.8 L683.1,74.0 L681.9,76.0 L680.6,77.9 L679.4,80.0 L678.2,82.9 L677.0,86.0 L675.8,88.4 L674.6,90.8 L673.3,94.0 L672.1,97.6 L670.9,101.3 L669.7,105.2 L668.5,108.5 L667.3,111.5 L666.0,114.5 L664.8,117.0 L663.6,119.2 L662.4,121.2 L661.2,122.9 L660.0,124.8 L658.7,126.9 L657.5,129.2 L656.3,131.0 L655.1,132.1 L653.9,132.0 L652.7,131.2 L651.4,130.3 L650.2,129.1 L649.0,127.8 L647.8,126.4 L646.6,124.7 L645.4,122.6 L644.1,120.6 L642.9,119.4 L641.7,118.5 L640.5,118.0 L639.3,117.0 L638.1,115.5 L636.8,114.3 L635.6,113.0 L634.4,111.7 L633.2,110.1 L632.0,108.5 L630.8,107.6 L629.5,107.3 L628.3,106.8 L627.1,106.3 L625.9,105.6 L624.7,104.9 L623.5,104.1 L622.2,103.3 L621.0,102.9 L619.8,103.2 L618.6,103.8 L617.4,104.7 L616.2,105.7 L614.9,106.7 L613.7,107.6 L612.5,108.4 L611.3,109.1 L610.1,109.4 L608.9,109.8 L607.6,110.2 L606.4,110.7 L605.2,111.0 L604.0,111.5 L602.8,112.1 L601.6,113.1 L600.3,113.8 L599.1,114.3 L597.9,115.3 L596.7,116.9 L595.5,118.5 L594.3,120.1 L593.0,122.0 L591.8,123.7 L590.6,125.4 L589.4,126.8 L588.2,128.0 L587.0,128.9 L585.7,129.1 L584.5,129.1 L583.3,129.8 L582.1,131.0 L580.9,131.7 L579.7,132.2 L578.4,132.4 L577.2,132.3 L576.0,132.3 L574.8,131.9 L573.6,131.4 L572.4,131.2 L571.2,131.5 L569.9,133.0 L568.7,134.1 L567.5,134.1 L566.3,133.8 L565.1,134.1 L563.9,135.0 L562.6,136.5 L561.4,137.8 L560.2,138.7 L559.0,139.3 L557.8,140.0 L556.6,140.5 L555.3,140.1 L554.1,138.7 L552.9,137.4 L551.7,136.6 L550.5,135.8 L549.3,134.6 L548.0,133.2 L546.8,131.4 L545.6,129.5 L544.4,127.8 L543.2,126.7 L542.0,125.9 L540.7,125.7 L539.5,126.0 L538.3,126.3 L537.1,125.9 L535.9,125.4 L534.7,124.5 L533.4,123.0 L532.2,120.6 L531.0,118.2 L529.8,116.0 L528.6,114.0 L527.4,113.2 L526.1,112.8 L524.9,112.8 L523.7,113.0 L522.5,113.2 L521.3,113.8 L520.1,115.4 L518.8,116.0 L517.6,114.3 L516.4,112.8 L515.2,111.4 L514.0,110.2 L512.8,109.1 L511.5,107.6 L510.3,105.3 L509.1,103.0 L507.9,101.1 L506.7,99.4 L505.5,97.5 L504.2,95.6 L503.0,94.2 L501.8,93.6 L500.6,93.4 L499.4,92.9 L498.2,92.3 L496.9,91.3 L495.7,90.1 L494.5,88.9 L493.3,87.5 L492.1,85.8 L490.9,84.0 L489.6,83.6 L488.4,84.7 L487.2,87.3 L486.0,89.4 L484.8,90.8 L483.6,91.4 L482.3,91.9 L481.1,92.1 L479.9,92.3 L478.7,93.7 L477.5,96.3 L476.3,99.0 L475.0,101.1 L473.8,102.9 L472.6,104.3 L471.4,105.5 L470.2,106.6 L469.0,107.4 L467.7,108.6 L466.5,110.3 L465.3,111.8 L464.1,113.0 L462.9,113.6 L461.7,114.3 L460.4,114.8 L459.2,115.1 L458.0,114.7 L456.8,113.9 L455.6,113.0 L454.4,112.6 L453.1,112.3 L451.9,112.5 L450.7,112.3 L449.5,111.9 L448.3,110.8 L447.1,109.1 L445.9,106.6 L444.6,104.5 L443.4,102.8 L442.2,100.9 L441.0,99.1 L439.8,97.8 L438.6,97.9 L437.3,98.0 L436.1,97.2 L434.9,97.0 L433.7,96.8 L432.5,95.9 L431.3,95.3 L430.0,94.7 L428.8,94.5 L427.6,94.6 L426.4,95.1 L425.2,95.8 L424.0,96.5 L422.7,97.1 L421.5,97.5 L420.3,97.6 L419.1,97.6 L417.9,96.9 L416.7,95.5 L415.4,94.0 L414.2,93.3 L413.0,93.7 L411.8,93.8 L410.6,93.5 L409.4,93.5 L408.1,93.8 L406.9,94.9 L405.7,95.5 L404.5,95.3 L403.3,94.5 L402.1,93.8 L400.8,94.3 L399.6,94.6 L398.4,94.8 L397.2,94.6 L396.0,94.4 L394.8,94.0 L393.5,93.6 L392.3,93.3 L391.1,93.3 L389.9,94.1 L388.7,95.2 L387.5,95.8 L386.2,96.0 L385.0,96.4 L383.8,97.1 L382.6,97.2 L381.4,96.8 L380.2,96.9 L378.9,97.4 L377.7,99.0 L376.5,101.7 L375.3,105.6 L374.1,109.1 L372.9,111.6 L371.6,113.8 L370.4,115.7 L369.2,117.7 L368.0,120.1 L366.8,123.2 L365.6,127.5 L364.3,132.3 L363.1,136.0 L361.9,138.6 L360.7,140.5 L359.5,141.9 L358.3,143.5 L357.0,144.4 L355.8,144.8 L354.6,144.7 L353.4,144.3 L352.2,144.1 L351.0,144.1 L349.7,144.4 L348.5,145.1 L347.3,145.4 L346.1,145.6 L344.9,145.4 L343.7,145.0 L342.4,144.6 L341.2,144.6 L340.0,144.3 L338.8,144.8 L337.6,145.7 L336.4,147.2 L335.1,148.9 L333.9,150.4 L332.7,151.6 L331.5,152.0 L330.3,151.7 L329.1,150.8 L327.8,150.1 L326.6,149.8 L325.4,149.6 L324.2,149.9 L323.0,150.5 L321.8,150.9 L320.5,151.5 L319.3,151.9 L318.1,152.3 L316.9,153.0 L315.7,153.7 L314.5,154.6 L313.3,155.5 L312.0,156.3 L310.8,157.8 L309.6,159.3 L308.4,160.8 L307.2,163.0 L306.0,165.2 L304.7,167.1 L303.5,168.8 L302.3,170.6 L301.1,172.3 L299.9,173.5 L298.7,172.7 L297.4,170.1 L296.2,167.4 L295.0,165.5 L293.8,164.0 L292.6,162.7 L291.4,161.4 L290.1,160.6 L288.9,160.5 L287.7,161.1 L286.5,161.3 L285.3,161.0 L284.1,160.5 L282.8,159.6 L281.6,158.4 L280.4,157.4 L279.2,155.8 L278.0,154.6 L276.8,154.4 L275.5,155.6 L274.3,156.7 L273.1,157.6 L271.9,157.7 L270.7,157.3 L269.5,156.6 L268.2,155.6 L267.0,154.7 L265.8,153.7 L264.6,152.7 L263.4,152.0 L262.2,150.1 L260.9,147.6 L259.7,146.0 L258.5,145.6 L257.3,146.1 L256.1,147.4 L254.9,149.3 L253.6,150.9 L252.4,152.4 L251.2,154.4 L250.0,157.1 L248.8,159.2 L247.6,160.7 L246.3,161.5 L245.1,162.4 L243.9,163.3 L242.7,163.9 L241.5,164.4 L240.3,165.0 L239.0,165.6 L237.8,166.0 L236.6,165.7 L235.4,164.2 L234.2,161.9 L233.0,161.0 L231.7,160.4 L230.5,159.8 L229.3,159.4 L228.1,159.6 L226.9,160.1 L225.7,160.7 L224.4,160.8 L223.2,160.3 L222.0,159.5 L220.8,159.2 L219.6,158.7 L218.4,157.8 L217.1,156.9 L215.9,155.7 L214.7,153.7 L213.5,151.4 L212.3,148.8 L211.1,146.6 L209.8,144.7 L208.6,143.6 L207.4,143.1 L206.2,141.8 L205.0,141.2 L203.8,141.0 L202.5,141.2 L201.3,141.8 L200.1,142.6 L198.9,143.4 L197.7,144.4 L196.5,145.4 L195.2,146.2 L194.0,145.9 L192.8,145.2 L191.6,144.5 L190.4,144.6 L189.2,144.7 L188.0,144.9 L186.7,144.7 L185.5,145.2 L184.3,147.0 L183.1,149.6 L181.9,152.5 L180.7,155.3 L179.4,157.7 L178.2,159.6 L177.0,160.9 L175.8,162.1 L174.6,163.5 L173.4,164.5 L172.1,164.6 L170.9,164.1 L169.7,165.2 L168.5,167.2 L167.3,168.6 L166.1,169.2 L164.8,169.3 L163.6,169.2 L162.4,169.2 L161.2,169.2 L160.0,169.2 L158.8,169.7 L157.5,170.0 L156.3,170.4 L155.1,170.9 L153.9,171.0 L152.7,171.6 L151.5,172.6 L150.2,173.8 L149.0,174.5 L147.8,174.7 L146.6,175.0 L145.4,176.6 L144.2,178.7 L142.9,180.3 L141.7,181.8 L140.5,183.8 L139.3,186.3 L138.1,189.1 L136.9,192.0 L135.6,195.2 L134.4,198.6 L133.2,202.5 L132.0,206.4 L130.8,208.4 L129.6,209.6 L128.3,210.6 L127.1,211.8 L125.9,212.7 L124.7,212.8 L123.5,212.3 L122.3,211.5 L121.0,210.5 L119.8,209.4 L118.6,208.8 L117.4,208.3 L116.2,208.1 L115.0,208.0 L113.7,208.0 L112.5,208.5 L111.3,209.1 L110.1,209.8 L108.9,211.0 L107.7,212.4 L106.4,213.6 L105.2,215.1 L104.0,216.3 L102.8,217.3 L101.6,217.9 L100.4,218.3 L99.1,218.9 L97.9,219.6 L96.7,220.6 L95.5,221.1 L94.3,221.6 L93.1,221.6 L91.8,222.2 L90.6,223.1 L89.4,224.2 L88.2,225.4 L87.0,226.6 L85.8,228.3 L84.5,230.4 L83.3,232.8 L82.1,235.0 L80.9,237.1 L79.7,238.6 L78.5,240.0 L77.2,242.3 L76.0,245.4 L74.8,249.0 L73.6,252.4 L72.4,255.3 L71.2,257.7 L69.9,259.7 L68.7,261.5 L67.5,262.8 L66.3,264.3 L65.1,265.2 L63.9,265.7 L62.7,266.1 L61.4,266.3 L60.2,266.5 L59.0,266.4 L57.8,266.2 L56.6,266.5 L55.4,266.7 L54.1,266.7 L52.9,266.6 L51.7,266.5 L50.5,266.7 L49.3,267.2 L48.1,268.1 L46.8,269.5 L45.6,270.6 L44.4,271.5 L43.2,272.3 L42.0,273.2 L40.8,274.7 L39.5,276.6 L38.3,278.8 L37.1,281.4 L35.9,284.0 L34.7,286.2 L33.5,288.3 L32.2,289.8 L31.0,290.6 L29.8,290.5 L28.6,290.5 L27.4,291.7 L26.2,294.0 L24.9,293.9 L23.7,291.5 L22.5,288.9 L21.3,287.2 L20.1,286.0 L18.9,284.5 L17.6,281.5 L16.4,277.0 L15.2,273.7 L14.0,271.7 L12.8,270.7 L11.6,270.2 L10.3,269.3 L9.1,268.4 L7.9,268.1 L6.7,267.7 L5.5,267.1 L4.3,266.1 L3.0,265.5 L1.8,265.2 L0.6,266.2 Z" fill="#f2b47e" stroke="#f2b47e" stroke-width="0.6"/>
<path d="M0.0,267.0 L1.2,265.3 L2.4,265.3 L3.6,265.8 L4.9,266.6 L6.1,267.4 L7.3,267.9 L8.5,268.3 L9.7,268.8 L10.9,269.9 L12.2,270.5 L13.4,271.0 L14.6,272.5 L15.8,275.2 L17.0,279.3 L18.2,283.2 L19.5,285.4 L20.7,286.6 L21.9,287.9 L23.1,290.2 L24.3,293.0 L25.5,294.3 L26.8,293.1 L28.0,290.8 L29.2,290.4 L30.4,290.7 L31.6,290.3 L32.8,289.2 L34.1,287.2 L35.3,285.1 L36.5,282.8 L37.7,280.0 L38.9,277.7 L40.1,275.6 L41.4,273.9 L42.6,272.7 L43.8,271.8 L45.0,271.1 L46.2,270.1 L47.4,268.9 L48.7,267.5 L49.9,267.0 L51.1,266.6 L52.3,266.5 L53.5,266.7 L54.7,266.7 L56.0,266.6 L57.2,266.3 L58.4,266.3 L59.6,266.5 L60.8,266.4 L62.0,266.3 L63.3,265.9 L64.5,265.5 L65.7,264.9 L66.9,263.6 L68.1,262.2 L69.3,260.6 L70.6,258.8 L71.8,256.4 L73.0,253.9 L74.2,250.8 L75.4,247.2 L76.6,243.8 L77.9,241.0 L79.1,239.2 L80.3,237.9 L81.5,236.1 L82.7,233.9 L83.9,231.5 L85.2,229.3 L86.4,227.4 L87.6,225.9 L88.8,224.8 L90.0,223.7 L91.2,222.6 L92.5,221.8 L93.7,221.6 L94.9,221.4 L96.1,220.9 L97.3,220.1 L98.5,219.3 L99.8,218.6 L101.0,218.1 L102.2,217.6 L103.4,216.8 L104.6,215.7 L105.8,214.3 L107.1,213.0 L108.3,211.6 L109.5,210.4 L110.7,209.4 L111.9,208.8 L113.1,208.1 L114.4,208.0 L115.6,208.1 L116.8,208.3 L118.0,208.4 L119.2,209.0 L120.4,210.0 L121.7,210.9 L122.9,211.9 L124.1,212.6 L125.3,212.8 L126.5,212.3 L127.7,211.2 L128.9,210.1 L130.2,209.1 L131.4,207.5 L132.6,204.7 L133.8,200.4 L135.0,196.8 L136.2,193.6 L137.5,190.6 L138.7,187.7 L139.9,185.0 L141.1,182.7 L142.3,181.0 L143.5,179.6 L144.8,177.7 L146.0,175.7 L147.2,174.7 L148.4,174.7 L149.6,174.3 L150.8,173.3 L152.1,172.0 L153.3,171.2 L154.5,170.9 L155.7,170.7 L156.9,170.2 L158.1,169.8 L159.4,169.4 L160.6,169.2 L161.8,169.2 L163.0,169.2 L164.2,169.2 L165.4,169.3 L166.7,168.9 L167.9,168.0 L169.1,166.2 L170.3,164.4 L171.5,164.4 L172.7,164.7 L174.0,164.1 L175.2,162.8 L176.4,161.6 L177.6,160.3 L178.8,158.7 L180.0,156.6 L181.3,154.0 L182.5,151.0 L183.7,148.2 L184.9,146.1 L186.1,144.7 L187.3,144.9 L188.6,144.9 L189.8,144.7 L191.0,144.5 L192.2,144.9 L193.4,145.6 L194.6,146.2 L195.9,145.9 L197.1,144.9 L198.3,143.8 L199.5,143.0 L200.7,142.2 L201.9,141.5 L203.2,141.1 L204.4,141.1 L205.6,141.4 L206.8,142.5 L208.0,143.3 L209.2,144.0 L210.5,145.6 L211.7,147.8 L212.9,150.1 L214.1,152.7 L215.3,154.8 L216.5,156.3 L217.8,157.4 L219.0,158.2 L220.2,158.9 L221.4,159.3 L222.6,159.8 L223.8,160.7 L225.1,160.9 L226.3,160.4 L227.5,159.9 L228.7,159.4 L229.9,159.5 L231.1,160.1 L232.4,160.7 L233.6,161.3 L234.8,163.0 L236.0,165.2 L237.2,165.9 L238.4,165.8 L239.7,165.2 L240.9,164.7 L242.1,164.2 L243.3,163.6 L244.5,162.8 L245.7,162.0 L247.0,161.2 L248.2,160.1 L249.4,158.2 L250.6,155.8 L251.8,153.2 L253.0,151.6 L254.3,150.2 L255.5,148.4 L256.7,146.6 L257.9,145.7 L259.1,145.6 L260.3,146.6 L261.5,148.7 L262.8,151.3 L264.0,152.4 L265.2,153.2 L266.4,154.2 L267.6,155.2 L268.8,156.2 L270.1,157.0 L271.3,157.5 L272.5,157.8 L273.7,157.2 L274.9,156.2 L276.1,154.8 L277.4,154.5 L278.6,155.0 L279.8,156.7 L281.0,158.0 L282.2,158.9 L283.4,160.1 L284.7,160.8 L285.9,161.2 L287.1,161.2 L288.3,160.8 L289.5,160.5 L290.7,160.9 L292.0,162.0 L293.2,163.3 L294.4,164.7 L295.6,166.4 L296.8,168.7 L298.0,171.6 L299.3,173.4 L300.5,173.1 L301.7,171.5 L302.9,169.7 L304.1,168.1 L305.3,166.2 L306.6,164.1 L307.8,161.8 L309.0,160.0 L310.2,158.5 L311.4,157.0 L312.6,155.9 L313.9,155.1 L315.1,154.1 L316.3,153.2 L317.5,152.7 L318.7,152.1 L319.9,151.7 L321.2,151.2 L322.4,150.7 L323.6,150.2 L324.8,149.8 L326.0,149.7 L327.2,149.9 L328.5,150.4 L329.7,151.3 L330.9,151.9 L332.1,151.9 L333.3,151.1 L334.5,149.7 L335.8,148.1 L337.0,146.3 L338.2,145.3 L339.4,144.4 L340.6,144.5 L341.8,144.6 L343.1,144.8 L344.3,145.2 L345.5,145.6 L346.7,145.5 L347.9,145.2 L349.1,144.7 L350.4,144.2 L351.6,144.1 L352.8,144.2 L354.0,144.6 L355.2,144.8 L356.4,144.6 L357.7,144.1 L358.9,142.8 L360.1,141.1 L361.3,139.7 L362.5,137.4 L363.7,134.4 L365.0,129.8 L366.2,125.3 L367.4,121.6 L368.6,118.8 L369.8,116.6 L371.0,114.7 L372.3,112.7 L373.5,110.4 L374.7,107.5 L375.9,103.5 L377.1,100.2 L378.3,98.2 L379.6,97.0 L380.8,96.8 L382.0,96.9 L383.2,97.2 L384.4,96.8 L385.6,96.2 L386.8,95.9 L388.1,95.5 L389.3,94.6 L390.5,93.6 L391.7,93.2 L392.9,93.5 L394.1,93.8 L395.4,94.1 L396.6,94.5 L397.8,94.7 L399.0,94.8 L400.2,94.6 L401.4,93.9 L402.7,94.0 L403.9,95.0 L405.1,95.5 L406.3,95.3 L407.5,94.3 L408.7,93.6 L410.0,93.5 L411.2,93.7 L412.4,93.8 L413.6,93.5 L414.8,93.5 L416.0,94.7 L417.3,96.3 L418.5,97.4 L419.7,97.6 L420.9,97.7 L422.1,97.4 L423.3,96.9 L424.6,96.2 L425.8,95.4 L427.0,94.9 L428.2,94.5 L429.4,94.5 L430.6,94.9 L431.9,95.6 L433.1,96.4 L434.3,97.0 L435.5,97.1 L436.7,97.4 L437.9,98.1 L439.2,97.7 L440.4,98.4 L441.6,99.9 L442.8,101.9 L444.0,103.7 L445.2,105.6 L446.5,107.8 L447.7,110.1 L448.9,111.5 L450.1,112.2 L451.3,112.5 L452.5,112.4 L453.8,112.4 L455.0,112.9 L456.2,113.5 L457.4,114.3 L458.6,114.9 L459.8,115.1 L461.1,114.5 L462.3,113.9 L463.5,113.3 L464.7,112.4 L465.9,111.1 L467.1,109.4 L468.4,108.0 L469.6,107.0 L470.8,106.0 L472.0,104.9 L473.2,103.6 L474.4,102.1 L475.7,100.1 L476.9,97.7 L478.1,94.9 L479.3,92.8 L480.5,92.1 L481.7,92.1 L483.0,91.7 L484.2,91.1 L485.4,90.1 L486.6,88.5 L487.8,85.9 L489.0,84.0 L490.3,83.7 L491.5,84.8 L492.7,86.7 L493.9,88.2 L495.1,89.6 L496.3,90.7 L497.6,91.8 L498.8,92.7 L500.0,93.3 L501.2,93.5 L502.4,93.8 L503.6,94.8 L504.9,96.5 L506.1,98.5 L507.3,100.2 L508.5,102.1 L509.7,104.1 L510.9,106.6 L512.2,108.5 L513.4,109.6 L514.6,110.9 L515.8,112.0 L517.0,113.5 L518.2,115.2 L519.4,116.1 L520.7,114.5 L521.9,113.4 L523.1,113.1 L524.3,112.9 L525.5,112.7 L526.7,112.9 L528.0,113.4 L529.2,114.9 L530.4,117.1 L531.6,119.4 L532.8,121.9 L534.0,123.9 L535.3,125.0 L536.5,125.7 L537.7,126.1 L538.9,126.2 L540.1,125.7 L541.3,125.8 L542.6,126.2 L543.8,127.2 L545.0,128.7 L546.2,130.2 L547.4,132.4 L548.6,133.9 L549.9,135.2 L551.1,136.2 L552.3,136.9 L553.5,138.0 L554.7,139.4 L555.9,140.4 L557.2,140.3 L558.4,139.7 L559.6,139.0 L560.8,138.3 L562.0,137.2 L563.2,135.7 L564.5,134.4 L565.7,133.9 L566.9,133.9 L568.1,134.2 L569.3,133.7 L570.5,132.1 L571.8,131.3 L573.0,131.3 L574.2,131.6 L575.4,132.1 L576.6,132.3 L577.8,132.5 L579.1,132.3 L580.3,132.0 L581.5,131.4 L582.7,130.4 L583.9,129.3 L585.1,129.0 L586.4,129.1 L587.6,128.6 L588.8,127.4 L590.0,126.2 L591.2,124.6 L592.4,122.9 L593.7,121.1 L594.9,119.3 L596.1,117.7 L597.3,116.1 L598.5,114.6 L599.7,114.0 L601.0,113.6 L602.2,112.6 L603.4,111.7 L604.6,111.2 L605.8,110.9 L607.0,110.5 L608.3,110.0 L609.5,109.6 L610.7,109.2 L611.9,108.8 L613.1,108.1 L614.3,107.2 L615.6,106.3 L616.8,105.2 L618.0,104.3 L619.2,103.5 L620.4,103.0 L621.6,103.0 L622.9,103.6 L624.1,104.5 L625.3,105.2 L626.5,106.0 L627.7,106.6 L628.9,107.1 L630.2,107.5 L631.4,108.0 L632.6,109.3 L633.8,110.9 L635.0,112.4 L636.2,113.7 L637.5,114.8 L638.7,116.1 L639.9,117.6 L641.1,118.3 L642.3,118.9 L643.5,119.9 L644.7,121.4 L646.0,123.7 L647.2,125.6 L648.4,127.3 L649.6,128.5 L650.8,129.8 L652.0,130.7 L653.3,131.6 L654.5,132.1 L655.7,131.6 L656.9,130.2 L658.1,128.0 L659.3,125.8 L660.6,123.9 L661.8,122.0 L663.0,120.3 L664.2,118.1 L665.4,115.8 L666.6,113.1 L667.9,110.0 L669.1,107.0 L670.3,103.3 L671.5,99.4 L672.7,95.8 L673.9,92.3 L675.2,89.5 L676.4,87.3 L677.6,84.6 L678.8,81.4 L680.0,78.8 L681.2,77.0 L682.5,75.0 L683.7,72.8 L684.9,70.9 L686.1,69.7 L687.3,69.4 L688.5,69.6 L689.8,69.7 L691.0,70.0 L692.2,70.0 L693.4,70.0 L694.6,70.6 L695.8,71.7 L697.1,73.3 L698.3,75.1 L699.5,79.6 L700.7,86.6 L701.9,91.9 L703.1,96.0 L704.4,99.9 L705.6,103.0 L706.8,105.0 L708.0,105.9 L709.2,106.6 L710.4,107.5 L711.7,108.5 L712.9,109.6 L714.1,111.3 L715.3,112.9 L716.5,114.2 L717.7,115.6 L719.0,117.5 L720.2,119.7 L721.4,122.4 L722.6,125.4 L723.8,130.1 L725.0,133.7 L726.3,136.0 L727.5,137.9 L728.7,139.8 L729.9,141.6 L731.1,142.8 L732.3,143.2 L733.6,142.8 L734.8,141.9 L736.0,140.6 L737.2,138.9 L738.4,137.0 L739.6,135.8 L740.9,137.0 L742.1,138.6 L743.3,140.4 L744.5,141.2 L745.7,141.4 L746.9,141.1 L748.2,140.4 L749.4,139.3 L750.6,137.9 L751.8,136.7 L753.0,135.5 L754.2,134.5 L755.5,133.2 L756.7,131.5 L757.9,129.6 L759.1,127.2 L760.3,124.9 L761.5,122.9 L762.8,121.5 L764.0,120.2 L765.2,118.9 L766.4,118.8 L767.6,119.8 L768.8,121.1 L770.0,122.9 L771.3,124.9 L772.5,127.9 L773.7,131.0 L774.9,132.8 L776.1,133.7 L777.3,134.2 L778.6,134.9 L779.8,135.4 L781.0,135.7 L782.2,135.9 L783.4,136.4 L784.6,137.5 L785.9,138.9 L787.1,141.2 L788.3,144.2 L789.5,147.4 L790.7,152.1 L791.9,156.7 L793.2,159.9 L794.4,161.8 L795.6,162.6 L796.8,163.7 L798.0,165.6 L799.2,167.9 L800.5,170.3 L801.7,172.2 L802.9,172.4 L804.1,172.6 L805.3,172.9 L806.5,173.1 L807.8,172.8 L809.0,171.8 L810.2,170.3 L811.4,168.4 L812.6,166.6 L813.8,165.5 L815.1,165.4 L816.3,165.9 L817.5,166.6 L818.7,167.8 L819.9,169.0 L821.1,170.3 L822.4,171.4 L823.6,173.4 L824.8,176.4 L826.0,179.9 L827.2,183.8 L828.4,187.2 L829.7,189.4 L830.9,191.7 L832.1,193.9 L832.7,192.5 L831.5,190.4 L830.3,188.3 L829.1,186.1 L827.8,183.5 L826.6,180.0 L825.4,176.6 L824.2,173.8 L823.0,171.5 L821.8,170.1 L820.5,169.2 L819.3,168.0 L818.1,167.0 L816.9,166.1 L815.7,165.5 L814.5,165.3 L813.2,165.8 L812.0,167.2 L810.8,168.6 L809.6,170.1 L808.4,171.0 L807.2,171.4 L805.9,171.1 L804.7,170.7 L803.5,170.3 L802.3,170.0 L801.1,169.0 L799.9,166.6 L798.6,164.3 L797.4,162.2 L796.2,160.7 L795.0,159.7 L793.8,158.3 L792.6,156.0 L791.3,152.3 L790.1,147.7 L788.9,144.4 L787.7,141.6 L786.5,139.2 L785.3,137.5 L784.0,136.3 L782.8,135.5 L781.6,135.2 L780.4,135.0 L779.2,134.5 L778.0,133.9 L776.7,133.2 L775.5,132.6 L774.3,131.4 L773.1,129.2 L771.9,126.4 L770.7,124.2 L769.4,122.6 L768.2,121.4 L767.0,120.5 L765.8,120.2 L764.6,121.0 L763.4,122.3 L762.1,123.5 L760.9,125.1 L759.7,127.2 L758.5,129.4 L757.3,131.3 L756.1,132.9 L754.8,134.2 L753.6,135.2 L752.4,136.1 L751.2,137.2 L750.0,138.3 L748.8,139.4 L747.5,140.1 L746.3,140.5 L745.1,140.5 L743.9,139.9 L742.7,138.8 L741.5,137.1 L740.2,135.9 L739.0,135.4 L737.8,137.2 L736.6,138.6 L735.4,139.8 L734.2,140.4 L732.9,140.8 L731.7,140.6 L730.5,139.6 L729.3,137.9 L728.1,135.9 L726.9,134.0 L725.6,132.0 L724.4,129.2 L723.2,125.0 L722.0,121.4 L720.8,118.8 L719.6,116.6 L718.3,114.4 L717.1,112.9 L715.9,111.5 L714.7,110.1 L713.5,108.4 L712.3,107.0 L711.0,105.9 L709.8,104.8 L708.6,103.9 L707.4,103.1 L706.2,101.6 L705.0,99.0 L703.8,95.7 L702.5,92.1 L701.3,88.0 L700.1,82.6 L698.9,76.9 L697.7,74.7 L696.5,73.4 L695.2,72.3 L694.0,71.6 L692.8,71.5 L691.6,71.9 L690.4,71.9 L689.2,72.0 L687.9,72.1 L686.7,72.3 L685.5,73.1 L684.3,74.8 L683.1,77.0 L681.9,79.1 L680.6,81.0 L679.4,83.1 L678.2,85.9 L677.0,88.9 L675.8,91.2 L674.6,93.6 L673.3,96.7 L672.1,100.0 L670.9,103.4 L669.7,107.0 L668.5,110.1 L667.3,112.8 L666.0,115.5 L664.8,117.8 L663.6,119.8 L662.4,121.5 L661.2,123.0 L660.0,124.7 L658.7,126.5 L657.5,128.4 L656.3,129.9 L655.1,130.7 L653.9,130.5 L652.7,129.6 L651.4,128.8 L650.2,127.6 L649.0,126.3 L647.8,124.9 L646.6,123.3 L645.4,121.4 L644.1,119.5 L642.9,118.4 L641.7,117.6 L640.5,117.1 L639.3,116.1 L638.1,114.7 L636.8,113.6 L635.6,112.4 L634.4,111.2 L633.2,109.8 L632.0,108.4 L630.8,107.6 L629.5,107.4 L628.3,106.9 L627.1,106.5 L625.9,105.9 L624.7,105.3 L623.5,104.7 L622.2,104.1 L621.0,103.8 L619.8,104.3 L618.6,104.8 L617.4,105.7 L616.2,106.7 L614.9,107.7 L613.7,108.5 L612.5,109.3 L611.3,110.0 L610.1,110.3 L608.9,110.8 L607.6,111.2 L606.4,111.8 L605.2,112.1 L604.0,112.7 L602.8,113.3 L601.6,114.4 L600.3,115.1 L599.1,115.7 L597.9,116.6 L596.7,118.2 L595.5,119.7 L594.3,121.2 L593.0,122.9 L591.8,124.5 L590.6,126.0 L589.4,127.3 L588.2,128.4 L587.0,129.1 L585.7,129.4 L584.5,129.4 L583.3,130.0 L582.1,131.1 L580.9,131.8 L579.7,132.2 L578.4,132.4 L577.2,132.4 L576.0,132.4 L574.8,132.0 L573.6,131.7 L572.4,131.5 L571.2,131.9 L569.9,133.2 L568.7,134.2 L567.5,134.2 L566.3,133.9 L565.1,134.1 L563.9,134.9 L562.6,136.2 L561.4,137.3 L560.2,137.9 L559.0,138.4 L557.8,138.9 L556.6,139.2 L555.3,138.6 L554.1,137.3 L552.9,136.0 L551.7,135.2 L550.5,134.3 L549.3,133.1 L548.0,131.8 L546.8,130.1 L545.6,128.3 L544.4,126.8 L543.2,125.7 L542.0,125.0 L540.7,124.7 L539.5,124.9 L538.3,125.0 L537.1,124.5 L535.9,123.9 L534.7,123.0 L533.4,121.5 L532.2,119.4 L531.0,117.2 L529.8,115.2 L528.6,113.4 L527.4,112.6 L526.1,112.3 L524.9,112.2 L523.7,112.3 L522.5,112.4 L521.3,112.8 L520.1,114.1 L518.8,114.4 L517.6,112.7 L516.4,111.3 L515.2,109.9 L514.0,108.7 L512.8,107.6 L511.5,106.2 L510.3,104.1 L509.1,102.0 L507.9,100.2 L506.7,98.7 L505.5,97.0 L504.2,95.3 L503.0,94.0 L501.8,93.5 L500.6,93.3 L499.4,92.9 L498.2,92.3 L496.9,91.4 L495.7,90.4 L494.5,89.4 L493.3,88.2 L492.1,86.8 L490.9,85.5 L489.6,85.3 L488.4,86.4 L487.2,88.8 L486.0,90.7 L484.8,92.0 L483.6,92.7 L482.3,93.3 L481.1,93.6 L479.9,93.9 L478.7,95.2 L477.5,97.6 L476.3,100.1 L475.0,102.0 L473.8,103.7 L472.6,104.9 L471.4,106.0 L470.2,106.9 L469.0,107.7 L467.7,108.8 L466.5,110.2 L465.3,111.5 L464.1,112.5 L462.9,113.0 L461.7,113.5 L460.4,113.9 L459.2,114.0 L458.0,113.6 L456.8,112.8 L455.6,112.0 L454.4,111.6 L453.1,111.2 L451.9,111.3 L450.7,110.9 L449.5,110.5 L448.3,109.4 L447.1,107.7 L445.9,105.5 L444.6,103.6 L443.4,102.1 L442.2,100.4 L441.0,98.8 L439.8,97.6 L438.6,97.7 L437.3,97.7 L436.1,97.0 L434.9,96.8 L433.7,96.6 L432.5,95.9 L431.3,95.3 L430.0,94.8 L428.8,94.7 L427.6,94.8 L426.4,95.2 L425.2,95.8 L424.0,96.4 L422.7,96.9 L421.5,97.2 L420.3,97.3 L419.1,97.2 L417.9,96.6 L416.7,95.4 L415.4,94.1 L414.2,93.5 L413.0,93.9 L411.8,94.0 L410.6,93.8 L409.4,93.8 L408.1,94.2 L406.9,95.1 L405.7,95.7 L404.5,95.5 L403.3,94.8 L402.1,94.3 L400.8,94.8 L399.6,95.2 L398.4,95.3 L397.2,95.3 L396.0,95.2 L394.8,94.9 L393.5,94.7 L392.3,94.6 L391.1,94.8 L389.9,95.6 L388.7,96.7 L387.5,97.4 L386.2,97.7 L385.0,98.3 L383.8,99.1 L382.6,99.4 L381.4,99.4 L380.2,99.7 L378.9,100.5 L377.7,102.2 L376.5,104.8 L375.3,108.5 L374.1,111.8 L372.9,114.2 L371.6,116.4 L370.4,118.3 L369.2,120.3 L368.0,122.6 L366.8,125.6 L365.6,129.4 L364.3,133.7 L363.1,137.0 L361.9,139.4 L360.7,141.1 L359.5,142.4 L358.3,143.8 L357.0,144.5 L355.8,144.9 L354.6,144.9 L353.4,144.5 L352.2,144.4 L351.0,144.5 L349.7,144.7 L348.5,145.4 L347.3,145.7 L346.1,145.9 L344.9,145.8 L343.7,145.5 L342.4,145.2 L341.2,145.3 L340.0,145.2 L338.8,145.7 L337.6,146.6 L336.4,147.9 L335.1,149.4 L333.9,150.8 L332.7,151.9 L331.5,152.2 L330.3,152.0 L329.1,151.2 L327.8,150.7 L326.6,150.5 L325.4,150.4 L324.2,150.8 L323.0,151.3 L321.8,151.8 L320.5,152.4 L319.3,152.8 L318.1,153.3 L316.9,154.0 L315.7,154.7 L314.5,155.6 L313.3,156.5 L312.0,157.3 L310.8,158.6 L309.6,160.0 L308.4,161.4 L307.2,163.4 L306.0,165.2 L304.7,166.9 L303.5,168.3 L302.3,169.8 L301.1,171.2 L299.9,172.1 L298.7,171.2 L297.4,168.9 L296.2,166.5 L295.0,164.7 L293.8,163.4 L292.6,162.1 L291.4,161.0 L290.1,160.3 L288.9,160.2 L287.7,160.6 L286.5,160.7 L285.3,160.5 L284.1,160.0 L282.8,159.1 L281.6,158.1 L280.4,157.2 L279.2,155.8 L278.0,154.7 L276.8,154.6 L275.5,155.5 L274.3,156.5 L273.1,157.2 L271.9,157.2 L270.7,156.8 L269.5,156.2 L268.2,155.3 L267.0,154.4 L265.8,153.5 L264.6,152.7 L263.4,152.1 L262.2,150.5 L260.9,148.3 L259.7,147.1 L258.5,146.9 L257.3,147.4 L256.1,148.8 L254.9,150.5 L253.6,152.0 L252.4,153.4 L251.2,155.2 L250.0,157.6 L248.8,159.4 L247.6,160.8 L246.3,161.5 L245.1,162.2 L243.9,163.0 L242.7,163.5 L241.5,163.9 L240.3,164.3 L239.0,164.7 L237.8,165.0 L236.6,164.7 L235.4,163.3 L234.2,161.2 L233.0,160.4 L231.7,159.8 L230.5,159.2 L229.3,158.9 L228.1,159.0 L226.9,159.4 L225.7,159.7 L224.4,159.8 L223.2,159.2 L222.0,158.4 L220.8,158.1 L219.6,157.5 L218.4,156.6 L217.1,155.7 L215.9,154.5 L214.7,152.8 L213.5,150.7 L212.3,148.4 L211.1,146.5 L209.8,144.8 L208.6,143.8 L207.4,143.4 L206.2,142.4 L205.0,141.9 L203.8,141.9 L202.5,142.1 L201.3,142.8 L200.1,143.5 L198.9,144.3 L197.7,145.3 L196.5,146.2 L195.2,147.0 L194.0,146.8 L192.8,146.3 L191.6,145.8 L190.4,146.1 L189.2,146.3 L188.0,146.7 L186.7,146.7 L185.5,147.3 L184.3,149.1 L183.1,151.5 L181.9,154.2 L180.7,156.7 L179.4,158.9 L178.2,160.6 L177.0,161.8 L175.8,163.0 L174.6,164.2 L173.4,165.1 L172.1,165.3 L170.9,165.0 L169.7,166.0 L168.5,167.8 L167.3,169.1 L166.1,169.6 L164.8,169.8 L163.6,169.9 L162.4,169.9 L161.2,170.0 L160.0,170.2 L158.8,170.7 L157.5,171.1 L156.3,171.7 L155.1,172.2 L153.9,172.6 L152.7,173.3 L151.5,174.3 L150.2,175.6 L149.0,176.4 L147.8,176.8 L146.6,177.3 L145.4,179.0 L144.2,181.1 L142.9,182.7 L141.7,184.3 L140.5,186.2 L139.3,188.7 L138.1,191.3 L136.9,194.1 L135.6,197.0 L134.4,200.1 L133.2,203.7 L132.0,207.1 L130.8,208.8 L129.6,209.9 L128.3,210.8 L127.1,211.8 L125.9,212.6 L124.7,212.7 L123.5,212.3 L122.3,211.6 L121.0,210.8 L119.8,209.9 L118.6,209.4 L117.4,209.1 L116.2,209.0 L115.0,209.0 L113.7,209.2 L112.5,209.7 L111.3,210.3 L110.1,211.1 L108.9,212.3 L107.7,213.6 L106.4,214.8 L105.2,216.2 L104.0,217.4 L102.8,218.3 L101.6,219.0 L100.4,219.6 L99.1,220.2 L97.9,221.0 L96.7,222.0 L95.5,222.7 L94.3,223.3 L93.1,223.5 L91.8,224.2 L90.6,225.3 L89.4,226.5 L88.2,227.8 L87.0,229.2 L85.8,230.9 L84.5,233.0 L83.3,235.3 L82.1,237.5 L80.9,239.5 L79.7,241.1 L78.5,242.5 L77.2,244.7 L76.0,247.7 L74.8,251.0 L73.6,254.1 L72.4,256.7 L71.2,258.9 L69.9,260.7 L68.7,262.3 L67.5,263.6 L66.3,264.8 L65.1,265.7 L63.9,266.2 L62.7,266.5 L61.4,266.8 L60.2,267.0 L59.0,267.0 L57.8,266.9 L56.6,267.2 L55.4,267.5 L54.1,267.6 L52.9,267.6 L51.7,267.6 L50.5,268.0 L49.3,268.5 L48.1,269.4 L46.8,270.8 L45.6,271.8 L44.4,272.7 L43.2,273.6 L42.0,274.5 L40.8,275.9 L39.5,277.7 L38.3,279.7 L37.1,282.0 L35.9,284.2 L34.7,286.1 L33.5,287.9 L32.2,289.1 L31.0,289.7 L29.8,289.5 L28.6,289.4 L27.4,290.3 L26.2,292.1 L24.9,291.8 L23.7,289.5 L22.5,287.1 L21.3,285.5 L20.1,284.2 L18.9,282.8 L17.6,280.0 L16.4,276.0 L15.2,273.0 L14.0,271.3 L12.8,270.4 L11.6,269.9 L10.3,269.1 L9.1,268.3 L7.9,268.0 L6.7,267.6 L5.5,267.1 L4.3,266.3 L3.0,265.8 L1.8,265.5 L0.6,266.4 Z" fill="#eb9462" stroke="#eb9462" stroke-width="0.6"/>
<path d="M0.0,267.1 L1.2,265.6 L2.4,265.6 L3.6,266.0 L4.9,266.7 L6.1,267.4 L7.3,267.9 L8.5,268.2 L9.7,268.7 L10.9,269.6 L12.2,270.2 L13.4,270.7 L14.6,272.0 L15.8,274.4 L17.0,278.0 L18.2,281.5 L19.5,283.6 L20.7,284.8 L21.9,286.1 L23.1,288.3 L24.3,290.9 L25.5,292.3 L26.8,291.4 L28.0,289.6 L29.2,289.4 L30.4,289.7 L31.6,289.5 L32.8,288.6 L34.1,287.0 L35.3,285.2 L36.5,283.2 L37.7,280.7 L38.9,278.6 L40.1,276.7 L41.4,275.1 L42.6,274.0 L43.8,273.1 L45.0,272.3 L46.2,271.3 L47.4,270.2 L48.7,268.9 L49.9,268.2 L51.1,267.8 L52.3,267.6 L53.5,267.6 L54.7,267.6 L56.0,267.4 L57.2,267.0 L58.4,266.9 L59.6,267.0 L60.8,266.9 L62.0,266.7 L63.3,266.4 L64.5,266.0 L65.7,265.4 L66.9,264.2 L68.1,262.9 L69.3,261.5 L70.6,259.9 L71.8,257.7 L73.0,255.5 L74.2,252.6 L75.4,249.3 L76.6,246.2 L77.9,243.5 L79.1,241.7 L80.3,240.3 L81.5,238.6 L82.7,236.4 L83.9,234.1 L85.2,231.8 L86.4,230.0 L87.6,228.4 L88.8,227.2 L90.0,225.9 L91.2,224.8 L92.5,223.8 L93.7,223.4 L94.9,223.0 L96.1,222.4 L97.3,221.5 L98.5,220.7 L99.8,219.8 L101.0,219.2 L102.2,218.7 L103.4,217.9 L104.6,216.8 L105.8,215.5 L107.1,214.2 L108.3,212.9 L109.5,211.6 L110.7,210.6 L111.9,210.0 L113.1,209.3 L114.4,209.0 L115.6,209.0 L116.8,209.1 L118.0,209.1 L119.2,209.5 L120.4,210.3 L121.7,211.1 L122.9,211.9 L124.1,212.5 L125.3,212.7 L126.5,212.3 L127.7,211.3 L128.9,210.4 L130.2,209.5 L131.4,208.0 L132.6,205.6 L133.8,201.8 L135.0,198.5 L136.2,195.5 L137.5,192.7 L138.7,190.0 L139.9,187.4 L141.1,185.2 L142.3,183.4 L143.5,182.0 L144.8,180.0 L146.0,178.1 L147.2,176.9 L148.4,176.7 L149.6,176.1 L150.8,175.0 L152.1,173.7 L153.3,172.8 L154.5,172.3 L155.7,172.0 L156.9,171.4 L158.1,170.9 L159.4,170.4 L160.6,170.1 L161.8,170.0 L163.0,169.9 L164.2,169.8 L165.4,169.8 L166.7,169.4 L167.9,168.5 L169.1,166.9 L170.3,165.3 L171.5,165.1 L172.7,165.3 L174.0,164.8 L175.2,163.5 L176.4,162.4 L177.6,161.3 L178.8,159.8 L180.0,157.9 L181.3,155.6 L182.5,152.8 L183.7,150.2 L184.9,148.2 L186.1,146.8 L187.3,146.7 L188.6,146.5 L189.8,146.2 L191.0,145.9 L192.2,146.1 L193.4,146.6 L194.6,147.0 L195.9,146.7 L197.1,145.8 L198.3,144.7 L199.5,143.9 L200.7,143.1 L201.9,142.4 L203.2,142.0 L204.4,141.9 L205.6,142.1 L206.8,142.9 L208.0,143.7 L209.2,144.2 L210.5,145.6 L211.7,147.5 L212.9,149.5 L214.1,151.8 L215.3,153.7 L216.5,155.1 L217.8,156.2 L219.0,157.0 L220.2,157.8 L221.4,158.2 L222.6,158.8 L223.8,159.6 L225.1,159.9 L226.3,159.5 L227.5,159.2 L228.7,158.8 L229.9,159.0 L231.1,159.5 L232.4,160.1 L233.6,160.7 L234.8,162.2 L236.0,164.1 L237.2,164.9 L238.4,164.9 L239.7,164.5 L240.9,164.1 L242.1,163.7 L243.3,163.2 L244.5,162.6 L245.7,161.9 L247.0,161.2 L248.2,160.2 L249.4,158.6 L250.6,156.4 L251.8,154.2 L253.0,152.7 L254.3,151.3 L255.5,149.6 L256.7,148.0 L257.9,147.0 L259.1,146.8 L260.3,147.6 L261.5,149.3 L262.8,151.4 L264.0,152.4 L265.2,153.1 L266.4,154.0 L267.6,154.8 L268.8,155.8 L270.1,156.5 L271.3,157.0 L272.5,157.4 L273.7,156.9 L274.9,156.1 L276.1,154.9 L277.4,154.6 L278.6,155.1 L279.8,156.5 L281.0,157.7 L282.2,158.5 L283.4,159.6 L284.7,160.3 L285.9,160.7 L287.1,160.7 L288.3,160.4 L289.5,160.2 L290.7,160.6 L292.0,161.5 L293.2,162.7 L294.4,164.0 L295.6,165.5 L296.8,167.6 L298.0,170.2 L299.3,171.9 L300.5,171.8 L301.7,170.5 L302.9,169.0 L304.1,167.7 L305.3,166.1 L306.6,164.3 L307.8,162.3 L309.0,160.7 L310.2,159.3 L311.4,157.9 L312.6,156.9 L313.9,156.1 L315.1,155.1 L316.3,154.2 L317.5,153.7 L318.7,153.0 L319.9,152.6 L321.2,152.1 L322.4,151.6 L323.6,151.1 L324.8,150.6 L326.0,150.4 L327.2,150.6 L328.5,150.9 L329.7,151.6 L330.9,152.2 L332.1,152.1 L333.3,151.4 L334.5,150.2 L335.8,148.7 L337.0,147.1 L338.2,146.2 L339.4,145.3 L340.6,145.3 L341.8,145.3 L343.1,145.4 L344.3,145.7 L345.5,145.9 L346.7,145.8 L347.9,145.5 L349.1,145.1 L350.4,144.5 L351.6,144.4 L352.8,144.4 L354.0,144.7 L355.2,144.9 L356.4,144.7 L357.7,144.3 L358.9,143.1 L360.1,141.6 L361.3,140.3 L362.5,138.3 L363.7,135.6 L365.0,131.6 L366.2,127.4 L367.4,124.0 L368.6,121.3 L369.8,119.2 L371.0,117.3 L372.3,115.3 L373.5,113.0 L374.7,110.2 L375.9,106.6 L377.1,103.4 L378.3,101.3 L379.6,100.0 L380.8,99.4 L382.0,99.3 L383.2,99.3 L384.4,98.8 L385.6,98.0 L386.8,97.5 L388.1,97.1 L389.3,96.1 L390.5,95.1 L391.7,94.6 L392.9,94.7 L394.1,94.8 L395.4,95.0 L396.6,95.2 L397.8,95.4 L399.0,95.3 L400.2,95.1 L401.4,94.5 L402.7,94.5 L403.9,95.3 L405.1,95.7 L406.3,95.5 L407.5,94.6 L408.7,94.0 L410.0,93.8 L411.2,93.9 L412.4,94.0 L413.6,93.7 L414.8,93.7 L416.0,94.7 L417.3,96.0 L418.5,97.0 L419.7,97.3 L420.9,97.3 L422.1,97.1 L423.3,96.7 L424.6,96.1 L425.8,95.4 L427.0,95.0 L428.2,94.7 L429.4,94.6 L430.6,95.0 L431.9,95.6 L433.1,96.2 L434.3,96.8 L435.5,96.9 L436.7,97.2 L437.9,97.8 L439.2,97.5 L440.4,98.1 L441.6,99.5 L442.8,101.3 L444.0,102.9 L445.2,104.6 L446.5,106.6 L447.7,108.7 L448.9,110.0 L450.1,110.8 L451.3,111.2 L452.5,111.2 L453.8,111.3 L455.0,111.8 L456.2,112.4 L457.4,113.2 L458.6,113.8 L459.8,114.1 L461.1,113.7 L462.3,113.3 L463.5,112.8 L464.7,112.1 L465.9,110.9 L467.1,109.5 L468.4,108.2 L469.6,107.3 L470.8,106.4 L472.0,105.5 L473.2,104.3 L474.4,102.9 L475.7,101.1 L476.9,98.9 L478.1,96.3 L479.3,94.4 L480.5,93.6 L481.7,93.5 L483.0,93.0 L484.2,92.4 L485.4,91.4 L486.6,89.9 L487.8,87.5 L489.0,85.7 L490.3,85.3 L491.5,86.0 L492.7,87.6 L493.9,88.8 L495.1,90.0 L496.3,90.9 L497.6,91.9 L498.8,92.6 L500.0,93.2 L501.2,93.4 L502.4,93.7 L503.6,94.5 L504.9,96.1 L506.1,97.8 L507.3,99.4 L508.5,101.1 L509.7,102.9 L510.9,105.2 L512.2,107.0 L513.4,108.2 L514.6,109.4 L515.8,110.5 L517.0,112.0 L518.2,113.6 L519.4,114.5 L520.7,113.3 L521.9,112.5 L523.1,112.4 L524.3,112.2 L525.5,112.1 L526.7,112.4 L528.0,112.9 L529.2,114.2 L530.4,116.1 L531.6,118.2 L532.8,120.5 L534.0,122.4 L535.3,123.5 L536.5,124.3 L537.7,124.8 L538.9,125.0 L540.1,124.7 L541.3,124.8 L542.6,125.3 L543.8,126.2 L545.0,127.6 L546.2,129.0 L547.4,131.0 L548.6,132.5 L549.9,133.7 L551.1,134.8 L552.3,135.5 L553.5,136.6 L554.7,138.0 L555.9,139.0 L557.2,139.1 L558.4,138.7 L559.6,138.1 L560.8,137.7 L562.0,136.8 L563.2,135.6 L564.5,134.5 L565.7,134.0 L566.9,134.0 L568.1,134.2 L569.3,133.8 L570.5,132.4 L571.8,131.6 L573.0,131.6 L574.2,131.9 L575.4,132.2 L576.6,132.4 L577.8,132.5 L579.1,132.3 L580.3,132.1 L581.5,131.5 L582.7,130.6 L583.9,129.7 L585.1,129.3 L586.4,129.3 L587.6,128.9 L588.8,127.8 L590.0,126.7 L591.2,125.3 L592.4,123.7 L593.7,122.1 L594.9,120.4 L596.1,119.0 L597.3,117.4 L598.5,116.0 L599.7,115.4 L601.0,114.8 L602.2,113.9 L603.4,112.9 L604.6,112.4 L605.8,112.0 L607.0,111.5 L608.3,111.0 L609.5,110.6 L610.7,110.1 L611.9,109.7 L613.1,108.9 L614.3,108.1 L615.6,107.2 L616.8,106.2 L618.0,105.3 L619.2,104.5 L620.4,104.0 L621.6,103.9 L622.9,104.4 L624.1,105.0 L625.3,105.6 L626.5,106.2 L627.7,106.8 L628.9,107.2 L630.2,107.6 L631.4,107.9 L632.6,109.1 L633.8,110.5 L635.0,111.8 L636.2,113.0 L637.5,114.1 L638.7,115.3 L639.9,116.7 L641.1,117.3 L642.3,118.0 L643.5,118.9 L644.7,120.3 L646.0,122.4 L647.2,124.1 L648.4,125.7 L649.6,127.0 L650.8,128.2 L652.0,129.2 L653.3,130.1 L654.5,130.7 L655.7,130.4 L656.9,129.3 L658.1,127.5 L659.3,125.6 L660.6,123.9 L661.8,122.3 L663.0,120.7 L664.2,118.8 L665.4,116.7 L666.6,114.2 L667.9,111.5 L669.1,108.7 L670.3,105.3 L671.5,101.7 L672.7,98.4 L673.9,95.1 L675.2,92.3 L676.4,90.1 L677.6,87.5 L678.8,84.4 L680.0,82.0 L681.2,80.1 L682.5,78.0 L683.7,75.9 L684.9,73.9 L686.1,72.6 L687.3,72.1 L688.5,72.0 L689.8,71.9 L691.0,71.9 L692.2,71.7 L693.4,71.5 L694.6,71.9 L695.8,72.8 L697.1,74.0 L698.3,75.5 L699.5,79.4 L700.7,85.5 L701.9,90.2 L703.1,93.9 L704.4,97.5 L705.6,100.4 L706.8,102.5 L708.0,103.5 L709.2,104.4 L710.4,105.4 L711.7,106.5 L712.9,107.7 L714.1,109.3 L715.3,110.9 L716.5,112.2 L717.7,113.6 L719.0,115.5 L720.2,117.6 L721.4,120.1 L722.6,123.0 L723.8,127.3 L725.0,130.7 L726.3,133.0 L727.5,135.0 L728.7,136.9 L729.9,138.8 L731.1,140.2 L732.3,140.8 L733.6,140.7 L734.8,140.1 L736.0,139.3 L737.2,137.9 L738.4,136.3 L739.6,135.4 L740.9,136.5 L742.1,137.9 L743.3,139.5 L744.5,140.3 L745.7,140.5 L746.9,140.3 L748.2,139.8 L749.4,138.9 L750.6,137.6 L751.8,136.7 L753.0,135.6 L754.2,134.8 L755.5,133.6 L756.7,132.0 L757.9,130.4 L759.1,128.2 L760.3,126.1 L761.5,124.2 L762.8,123.0 L764.0,121.7 L765.2,120.4 L766.4,120.2 L767.6,120.9 L768.8,121.9 L770.0,123.4 L771.3,125.2 L772.5,127.7 L773.7,130.5 L774.9,132.1 L776.1,133.0 L777.3,133.6 L778.6,134.2 L779.8,134.8 L781.0,135.1 L782.2,135.3 L783.4,135.9 L784.6,136.9 L785.9,138.2 L787.1,140.3 L788.3,143.0 L789.5,145.9 L790.7,150.1 L791.9,154.3 L793.2,157.3 L794.4,159.2 L795.6,160.2 L796.8,161.4 L798.0,163.2 L799.2,165.5 L800.5,167.8 L801.7,169.7 L802.9,170.1 L804.1,170.5 L805.3,171.0 L806.5,171.3 L807.8,171.3 L809.0,170.6 L810.2,169.4 L811.4,167.8 L812.6,166.4 L813.8,165.4 L815.1,165.4 L816.3,165.8 L817.5,166.4 L818.7,167.5 L819.9,168.6 L821.1,169.7 L822.4,170.7 L823.6,172.5 L824.8,175.1 L826.0,178.3 L827.2,181.8 L828.4,185.0 L829.7,187.2 L830.9,189.4 L832.1,191.5 L832.7,190.3 L831.5,188.3 L830.3,186.3 L829.1,184.1 L827.8,181.7 L826.6,178.4 L825.4,175.4 L824.2,172.8 L823.0,170.7 L821.8,169.4 L820.5,168.6 L819.3,167.5 L818.1,166.5 L816.9,165.7 L815.7,165.2 L814.5,164.9 L813.2,165.3 L812.0,166.5 L810.8,167.7 L809.6,168.8 L808.4,169.5 L807.2,169.7 L805.9,169.3 L804.7,168.8 L803.5,168.1 L802.3,167.8 L801.1,166.6 L799.9,164.3 L798.6,162.1 L797.4,160.1 L796.2,158.6 L795.0,157.5 L793.8,156.1 L792.6,153.8 L791.3,150.4 L790.1,146.3 L788.9,143.3 L787.7,140.7 L786.5,138.5 L785.3,137.0 L784.0,135.9 L782.8,135.1 L781.6,134.8 L780.4,134.6 L779.2,134.0 L778.0,133.4 L776.7,132.8 L775.5,132.2 L774.3,131.0 L773.1,129.1 L771.9,126.6 L770.7,124.7 L769.4,123.3 L768.2,122.3 L767.0,121.6 L765.8,121.4 L764.6,122.2 L763.4,123.4 L762.1,124.6 L760.9,126.1 L759.7,127.9 L758.5,129.9 L757.3,131.6 L756.1,133.0 L754.8,134.2 L753.6,135.1 L752.4,135.9 L751.2,136.8 L750.0,137.7 L748.8,138.7 L747.5,139.3 L746.3,139.5 L745.1,139.4 L743.9,138.9 L742.7,137.8 L741.5,136.3 L740.2,135.1 L739.0,134.6 L737.8,136.1 L736.6,137.2 L735.4,138.1 L734.2,138.4 L732.9,138.5 L731.7,138.1 L730.5,137.0 L729.3,135.3 L728.1,133.2 L726.9,131.3 L725.6,129.3 L724.4,126.6 L723.2,122.7 L722.0,119.3 L720.8,116.8 L719.6,114.7 L718.3,112.7 L717.1,111.1 L715.9,109.8 L714.7,108.3 L713.5,106.7 L712.3,105.3 L711.0,104.2 L709.8,103.1 L708.6,102.1 L707.4,101.2 L706.2,99.7 L705.0,97.3 L703.8,94.2 L702.5,90.9 L701.3,87.2 L700.1,82.5 L698.9,77.5 L697.7,75.6 L696.5,74.5 L695.2,73.7 L694.0,73.3 L692.8,73.3 L691.6,73.8 L690.4,73.9 L689.2,74.2 L687.9,74.5 L686.7,74.9 L685.5,75.9 L684.3,77.6 L683.1,79.7 L681.9,81.8 L680.6,83.7 L679.4,85.9 L678.2,88.5 L677.0,91.3 L675.8,93.6 L674.6,95.9 L673.3,98.8 L672.1,102.0 L670.9,105.1 L669.7,108.4 L668.5,111.2 L667.3,113.8 L666.0,116.2 L664.8,118.2 L663.6,120.1 L662.4,121.6 L661.2,123.0 L660.0,124.4 L658.7,126.0 L657.5,127.6 L656.3,128.8 L655.1,129.4 L653.9,129.2 L652.7,128.2 L651.4,127.4 L650.2,126.2 L649.0,125.0 L647.8,123.7 L646.6,122.2 L645.4,120.4 L644.1,118.7 L642.9,117.6 L641.7,116.8 L640.5,116.3 L639.3,115.4 L638.1,114.1 L636.8,113.1 L635.6,112.0 L634.4,110.9 L633.2,109.7 L632.0,108.5 L630.8,107.8 L629.5,107.6 L628.3,107.2 L627.1,106.9 L625.9,106.4 L624.7,105.9 L623.5,105.4 L622.2,104.9 L621.0,104.8 L619.8,105.3 L618.6,105.8 L617.4,106.7 L616.2,107.7 L614.9,108.6 L613.7,109.4 L612.5,110.2 L611.3,110.9 L610.1,111.3 L608.9,111.7 L607.6,112.2 L606.4,112.8 L605.2,113.2 L604.0,113.8 L602.8,114.5 L601.6,115.5 L600.3,116.3 L599.1,116.8 L597.9,117.8 L596.7,119.3 L595.5,120.7 L594.3,122.1 L593.0,123.7 L591.8,125.1 L590.6,126.5 L589.4,127.7 L588.2,128.6 L587.0,129.3 L585.7,129.6 L584.5,129.6 L583.3,130.2 L582.1,131.2 L580.9,131.8 L579.7,132.2 L578.4,132.4 L577.2,132.4 L576.0,132.4 L574.8,132.1 L573.6,131.8 L572.4,131.7 L571.2,132.0 L569.9,133.2 L568.7,134.0 L567.5,134.0 L566.3,133.8 L565.1,134.0 L563.9,134.6 L562.6,135.7 L561.4,136.6 L560.2,137.1 L559.0,137.4 L557.8,137.7 L556.6,137.8 L555.3,137.2 L554.1,135.9 L552.9,134.6 L551.7,133.8 L550.5,132.9 L549.3,131.7 L548.0,130.5 L546.8,128.8 L545.6,127.2 L544.4,125.8 L543.2,124.7 L542.0,124.0 L540.7,123.7 L539.5,123.7 L538.3,123.7 L537.1,123.2 L535.9,122.5 L534.7,121.7 L533.4,120.2 L532.2,118.2 L531.0,116.2 L529.8,114.4 L528.6,112.8 L527.4,112.0 L526.1,111.7 L524.9,111.5 L523.7,111.6 L522.5,111.5 L521.3,111.9 L520.1,112.8 L518.8,113.0 L517.6,111.4 L516.4,110.0 L515.2,108.7 L514.0,107.5 L512.8,106.5 L511.5,105.1 L510.3,103.1 L509.1,101.2 L507.9,99.6 L506.7,98.2 L505.5,96.6 L504.2,95.1 L503.0,94.0 L501.8,93.6 L500.6,93.3 L499.4,93.0 L498.2,92.5 L496.9,91.7 L495.7,90.9 L494.5,90.0 L493.3,89.1 L492.1,87.9 L490.9,86.8 L489.6,86.8 L488.4,87.9 L487.2,90.1 L486.0,91.9 L484.8,93.1 L483.6,93.8 L482.3,94.4 L481.1,94.8 L479.9,95.2 L478.7,96.5 L477.5,98.7 L476.3,100.9 L475.0,102.7 L473.8,104.1 L472.6,105.3 L471.4,106.2 L470.2,107.1 L469.0,107.8 L467.7,108.8 L466.5,110.0 L465.3,111.1 L464.1,112.0 L462.9,112.4 L461.7,112.7 L460.4,113.0 L459.2,113.1 L458.0,112.6 L456.8,111.9 L455.6,111.1 L454.4,110.6 L453.1,110.2 L451.9,110.2 L450.7,109.8 L449.5,109.3 L448.3,108.2 L447.1,106.7 L445.9,104.6 L444.6,102.9 L443.4,101.5 L442.2,100.0 L441.0,98.5 L439.8,97.5 L438.6,97.6 L437.3,97.5 L436.1,96.9 L434.9,96.7 L433.7,96.5 L432.5,95.9 L431.3,95.3 L430.0,94.9 L428.8,94.8 L427.6,94.9 L426.4,95.3 L425.2,95.8 L424.0,96.3 L422.7,96.8 L421.5,97.1 L420.3,97.1 L419.1,97.0 L417.9,96.5 L416.7,95.4 L415.4,94.3 L414.2,93.8 L413.0,94.2 L411.8,94.3 L410.6,94.2 L409.4,94.3 L408.1,94.6 L406.9,95.5 L405.7,96.1 L404.5,96.0 L403.3,95.4 L402.1,95.0 L400.8,95.5 L399.6,95.9 L398.4,96.1 L397.2,96.2 L396.0,96.2 L394.8,96.1 L393.5,96.0 L392.3,96.0 L391.1,96.3 L389.9,97.2 L388.7,98.3 L387.5,99.1 L386.2,99.6 L385.0,100.3 L383.8,101.1 L382.6,101.6 L381.4,101.8 L380.2,102.3 L378.9,103.3 L377.7,105.1 L376.5,107.7 L375.3,111.1 L374.1,114.2 L372.9,116.6 L371.6,118.7 L370.4,120.5 L369.2,122.5 L368.0,124.7 L366.8,127.5 L365.6,131.1 L364.3,135.0 L363.1,138.0 L361.9,140.1 L360.7,141.6 L359.5,142.8 L358.3,144.1 L357.0,144.7 L355.8,145.1 L354.6,145.1 L353.4,144.8 L352.2,144.7 L351.0,144.8 L349.7,145.1 L348.5,145.7 L347.3,146.1 L346.1,146.3 L344.9,146.2 L343.7,146.0 L342.4,145.8 L341.2,146.0 L340.0,146.0 L338.8,146.5 L337.6,147.4 L336.4,148.6 L335.1,150.0 L333.9,151.2 L332.7,152.2 L331.5,152.5 L330.3,152.3 L329.1,151.7 L327.8,151.3 L326.6,151.2 L325.4,151.2 L324.2,151.5 L323.0,152.1 L321.8,152.6 L320.5,153.1 L319.3,153.6 L318.1,154.1 L316.9,154.8 L315.7,155.5 L314.5,156.3 L313.3,157.2 L312.0,158.0 L310.8,159.2 L309.6,160.5 L308.4,161.8 L307.2,163.5 L306.0,165.1 L304.7,166.6 L303.5,167.8 L302.3,169.0 L301.1,170.1 L299.9,170.9 L298.7,170.0 L297.4,167.8 L296.2,165.6 L295.0,164.0 L293.8,162.8 L292.6,161.7 L291.4,160.6 L290.1,160.0 L288.9,159.9 L287.7,160.2 L286.5,160.3 L285.3,160.0 L284.1,159.6 L282.8,158.7 L281.6,157.8 L280.4,157.0 L279.2,155.7 L278.0,154.8 L276.8,154.7 L275.5,155.5 L274.3,156.4 L273.1,156.9 L271.9,156.9 L270.7,156.5 L269.5,155.9 L268.2,155.1 L267.0,154.3 L265.8,153.5 L264.6,152.8 L263.4,152.3 L262.2,150.9 L260.9,149.0 L259.7,148.0 L258.5,147.9 L257.3,148.5 L256.1,149.8 L254.9,151.4 L253.6,152.8 L252.4,154.1 L251.2,155.8 L250.0,157.9 L248.8,159.5 L247.6,160.7 L246.3,161.3 L245.1,162.0 L243.9,162.6 L242.7,163.0 L241.5,163.3 L240.3,163.6 L239.0,163.9 L237.8,164.0 L236.6,163.7 L235.4,162.4 L234.2,160.6 L233.0,159.8 L231.7,159.3 L230.5,158.7 L229.3,158.3 L228.1,158.4 L226.9,158.7 L225.7,158.9 L224.4,158.9 L223.2,158.3 L222.0,157.6 L220.8,157.1 L219.6,156.6 L218.4,155.7 L217.1,154.8 L215.9,153.7 L214.7,152.1 L213.5,150.2 L212.3,148.2 L211.1,146.5 L209.8,145.1 L208.6,144.3 L207.4,144.0 L206.2,143.1 L205.0,142.8 L203.8,142.8 L202.5,143.1 L201.3,143.8 L200.1,144.5 L198.9,145.3 L197.7,146.2 L196.5,147.2 L195.2,147.9 L194.0,147.9 L192.8,147.5 L191.6,147.2 L190.4,147.5 L189.2,147.9 L188.0,148.3 L186.7,148.5 L185.5,149.2 L184.3,150.9 L183.1,153.2 L181.9,155.7 L180.7,158.0 L179.4,160.0 L178.2,161.6 L177.0,162.8 L175.8,163.8 L174.6,165.0 L173.4,165.9 L172.1,166.1 L170.9,165.9 L169.7,166.8 L168.5,168.5 L167.3,169.7 L166.1,170.3 L164.8,170.5 L163.6,170.6 L162.4,170.8 L161.2,171.0 L160.0,171.3 L158.8,171.9 L157.5,172.4 L156.3,173.1 L155.1,173.7 L153.9,174.1 L152.7,174.9 L151.5,176.1 L150.2,177.4 L149.0,178.2 L147.8,178.8 L146.6,179.5 L145.4,181.1 L144.2,183.2 L142.9,184.9 L141.7,186.4 L140.5,188.4 L139.3,190.8 L138.1,193.3 L136.9,195.9 L135.6,198.6 L134.4,201.5 L133.2,204.7 L132.0,207.8 L130.8,209.3 L129.6,210.3 L128.3,211.1 L127.1,212.1 L125.9,212.8 L124.7,212.8 L123.5,212.5 L122.3,211.9 L121.0,211.3 L119.8,210.5 L118.6,210.1 L117.4,210.0 L116.2,210.0 L115.0,210.1 L113.7,210.3 L112.5,210.9 L111.3,211.6 L110.1,212.4 L108.9,213.6 L107.7,214.9 L106.4,216.1 L105.2,217.4 L104.0,218.6 L102.8,219.6 L101.6,220.3 L100.4,220.9 L99.1,221.6 L97.9,222.5 L96.7,223.6 L95.5,224.3 L94.3,225.1 L93.1,225.5 L91.8,226.3 L90.6,227.4 L89.4,228.7 L88.2,230.1 L87.0,231.5 L85.8,233.2 L84.5,235.3 L83.3,237.6 L82.1,239.7 L80.9,241.7 L79.7,243.3 L78.5,244.8 L77.2,246.9 L76.0,249.7 L74.8,252.7 L73.6,255.5 L72.4,257.9 L71.2,259.9 L69.9,261.6 L68.7,263.1 L67.5,264.2 L66.3,265.4 L65.1,266.2 L63.9,266.7 L62.7,267.0 L61.4,267.3 L60.2,267.5 L59.0,267.6 L57.8,267.6 L56.6,267.9 L55.4,268.2 L54.1,268.4 L52.9,268.5 L51.7,268.6 L50.5,269.0 L49.3,269.6 L48.1,270.5 L46.8,271.8 L45.6,272.8 L44.4,273.7 L43.2,274.5 L42.0,275.4 L40.8,276.7 L39.5,278.3 L38.3,280.1 L37.1,282.2 L35.9,284.2 L34.7,285.8 L33.5,287.3 L32.2,288.3 L31.0,288.8 L29.8,288.5 L28.6,288.3 L27.4,289.0 L26.2,290.4 L24.9,290.0 L23.7,287.8 L22.5,285.6 L21.3,284.0 L20.1,282.8 L18.9,281.4 L17.6,278.8 L16.4,275.2 L15.2,272.5 L14.0,270.9 L12.8,270.2 L11.6,269.7 L10.3,269.0 L9.1,268.3 L7.9,267.9 L6.7,267.6 L5.5,267.1 L4.3,266.4 L3.0,265.9 L1.8,265.7 L0.6,266.5 Z" fill="#e26e52" stroke="#e26e52" stroke-width="0.6"/>
<path d="M0.0,267.1 L1.2,265.8 L2.4,265.8 L3.6,266.2 L4.9,266.8 L6.1,267.4 L7.3,267.8 L8.5,268.1 L9.7,268.6 L10.9,269.4 L12.2,270.0 L13.4,270.4 L14.6,271.6 L15.8,273.8 L17.0,277.0 L18.2,280.2 L19.5,282.1 L20.7,283.3 L21.9,284.6 L23.1,286.7 L24.3,289.1 L25.5,290.5 L26.8,289.9 L28.0,288.4 L29.2,288.3 L30.4,288.7 L31.6,288.6 L32.8,287.9 L34.1,286.5 L35.3,285.0 L36.5,283.3 L37.7,281.1 L38.9,279.2 L40.1,277.5 L41.4,276.0 L42.6,274.9 L43.8,274.1 L45.0,273.3 L46.2,272.3 L47.4,271.2 L48.7,270.0 L49.9,269.3 L51.1,268.8 L52.3,268.5 L53.5,268.5 L54.7,268.3 L56.0,268.1 L57.2,267.7 L58.4,267.6 L59.6,267.6 L60.8,267.4 L62.0,267.2 L63.3,266.9 L64.5,266.5 L65.7,265.9 L66.9,264.8 L68.1,263.7 L69.3,262.3 L70.6,260.8 L71.8,258.9 L73.0,256.8 L74.2,254.2 L75.4,251.1 L76.6,248.2 L77.9,245.7 L79.1,244.0 L80.3,242.5 L81.5,240.8 L82.7,238.7 L83.9,236.4 L85.2,234.2 L86.4,232.4 L87.6,230.7 L88.8,229.4 L90.0,228.1 L91.2,226.9 L92.5,225.8 L93.7,225.2 L94.9,224.7 L96.1,224.0 L97.3,223.0 L98.5,222.1 L99.8,221.2 L101.0,220.6 L102.2,220.0 L103.4,219.1 L104.6,218.0 L105.8,216.7 L107.1,215.5 L108.3,214.2 L109.5,213.0 L110.7,211.9 L111.9,211.3 L113.1,210.5 L114.4,210.2 L115.6,210.1 L116.8,210.0 L118.0,209.9 L119.2,210.2 L120.4,210.9 L121.7,211.5 L122.9,212.2 L124.1,212.7 L125.3,212.9 L126.5,212.5 L127.7,211.6 L128.9,210.7 L130.2,209.9 L131.4,208.6 L132.6,206.4 L133.8,203.0 L135.0,200.0 L136.2,197.2 L137.5,194.6 L138.7,192.0 L139.9,189.5 L141.1,187.4 L142.3,185.6 L143.5,184.1 L144.8,182.2 L146.0,180.2 L147.2,179.0 L148.4,178.6 L149.6,177.9 L150.8,176.8 L152.1,175.5 L153.3,174.5 L154.5,173.9 L155.7,173.4 L156.9,172.7 L158.1,172.2 L159.4,171.6 L160.6,171.2 L161.8,170.9 L163.0,170.7 L164.2,170.5 L165.4,170.4 L166.7,170.0 L167.9,169.2 L169.1,167.7 L170.3,166.2 L171.5,165.9 L172.7,166.1 L174.0,165.5 L175.2,164.4 L176.4,163.3 L177.6,162.3 L178.8,160.9 L180.0,159.1 L181.3,157.0 L182.5,154.4 L183.7,152.0 L184.9,150.1 L186.1,148.7 L187.3,148.5 L188.6,148.1 L189.8,147.7 L191.0,147.3 L192.2,147.4 L193.4,147.7 L194.6,147.9 L195.9,147.6 L197.1,146.7 L198.3,145.7 L199.5,144.9 L200.7,144.1 L201.9,143.4 L203.2,143.0 L204.4,142.8 L205.6,142.9 L206.8,143.6 L208.0,144.2 L209.2,144.6 L210.5,145.8 L211.7,147.4 L212.9,149.2 L214.1,151.2 L215.3,153.0 L216.5,154.3 L217.8,155.3 L219.0,156.1 L220.2,156.9 L221.4,157.3 L222.6,157.9 L223.8,158.7 L225.1,159.0 L226.3,158.8 L227.5,158.5 L228.7,158.3 L229.9,158.5 L231.1,159.0 L232.4,159.5 L233.6,160.1 L234.8,161.4 L236.0,163.2 L237.2,164.0 L238.4,164.0 L239.7,163.7 L240.9,163.4 L242.1,163.1 L243.3,162.8 L244.5,162.2 L245.7,161.7 L247.0,161.0 L248.2,160.2 L249.4,158.8 L250.6,156.9 L251.8,154.8 L253.0,153.4 L254.3,152.2 L255.5,150.6 L256.7,149.1 L257.9,148.1 L259.1,147.8 L260.3,148.4 L261.5,149.8 L262.8,151.7 L264.0,152.5 L265.2,153.1 L266.4,153.9 L267.6,154.7 L268.8,155.6 L270.1,156.2 L271.3,156.7 L272.5,157.0 L273.7,156.7 L274.9,156.0 L276.1,155.0 L277.4,154.7 L278.6,155.1 L279.8,156.4 L281.0,157.4 L282.2,158.2 L283.4,159.2 L284.7,159.8 L285.9,160.2 L287.1,160.3 L288.3,160.1 L289.5,159.9 L290.7,160.3 L292.0,161.1 L293.2,162.2 L294.4,163.4 L295.6,164.7 L296.8,166.6 L298.0,169.1 L299.3,170.6 L300.5,170.6 L301.7,169.6 L302.9,168.4 L304.1,167.3 L305.3,165.9 L306.6,164.3 L307.8,162.6 L309.0,161.1 L310.2,159.9 L311.4,158.6 L312.6,157.6 L313.9,156.8 L315.1,155.9 L316.3,155.0 L317.5,154.5 L318.7,153.8 L319.9,153.4 L321.2,152.9 L322.4,152.3 L323.6,151.8 L324.8,151.4 L326.0,151.2 L327.2,151.2 L328.5,151.5 L329.7,152.0 L330.9,152.5 L332.1,152.4 L333.3,151.8 L334.5,150.6 L335.8,149.3 L337.0,147.9 L338.2,146.9 L339.4,146.1 L340.6,146.0 L341.8,145.9 L343.1,146.0 L344.3,146.1 L345.5,146.3 L346.7,146.2 L347.9,145.9 L349.1,145.4 L350.4,144.9 L351.6,144.8 L352.8,144.8 L354.0,145.0 L355.2,145.1 L356.4,144.9 L357.7,144.5 L358.9,143.5 L360.1,142.1 L361.3,140.9 L362.5,139.1 L363.7,136.6 L365.0,133.0 L366.2,129.2 L367.4,126.1 L368.6,123.5 L369.8,121.4 L371.0,119.6 L372.3,117.6 L373.5,115.4 L374.7,112.7 L375.9,109.3 L377.1,106.2 L378.3,104.1 L379.6,102.7 L380.8,102.0 L382.0,101.7 L383.2,101.4 L384.4,100.8 L385.6,99.9 L386.8,99.3 L388.1,98.7 L389.3,97.7 L390.5,96.7 L391.7,96.1 L392.9,96.0 L394.1,96.0 L395.4,96.1 L396.6,96.2 L397.8,96.2 L399.0,96.1 L400.2,95.8 L401.4,95.2 L402.7,95.1 L403.9,95.8 L405.1,96.1 L406.3,95.9 L407.5,95.0 L408.7,94.4 L410.0,94.3 L411.2,94.3 L412.4,94.3 L413.6,94.0 L414.8,93.9 L416.0,94.8 L417.3,96.0 L418.5,96.8 L419.7,97.1 L420.9,97.1 L422.1,96.9 L423.3,96.6 L424.6,96.1 L425.8,95.5 L427.0,95.1 L428.2,94.8 L429.4,94.8 L430.6,95.1 L431.9,95.6 L433.1,96.2 L434.3,96.7 L435.5,96.8 L436.7,97.1 L437.9,97.6 L439.2,97.4 L440.4,98.0 L441.6,99.2 L442.8,100.7 L444.0,102.2 L445.2,103.8 L446.5,105.6 L447.7,107.5 L448.9,108.8 L450.1,109.6 L451.3,110.0 L452.5,110.2 L453.8,110.3 L455.0,110.9 L456.2,111.5 L457.4,112.2 L458.6,112.8 L459.8,113.1 L461.1,112.8 L462.3,112.5 L463.5,112.2 L464.7,111.6 L465.9,110.6 L467.1,109.4 L468.4,108.3 L469.6,107.4 L470.8,106.6 L472.0,105.8 L473.2,104.7 L474.4,103.5 L475.7,101.8 L476.9,99.9 L478.1,97.5 L479.3,95.7 L480.5,94.9 L481.7,94.7 L483.0,94.2 L484.2,93.5 L485.4,92.6 L486.6,91.1 L487.8,88.9 L489.0,87.2 L490.3,86.7 L491.5,87.3 L492.7,88.5 L493.9,89.6 L495.1,90.5 L496.3,91.3 L497.6,92.2 L498.8,92.8 L500.0,93.3 L501.2,93.5 L502.4,93.7 L503.6,94.5 L504.9,95.9 L506.1,97.4 L507.3,98.9 L508.5,100.4 L509.7,102.1 L510.9,104.2 L512.2,105.9 L513.4,107.0 L514.6,108.2 L515.8,109.3 L517.0,110.7 L518.2,112.2 L519.4,113.2 L520.7,112.2 L521.9,111.6 L523.1,111.6 L524.3,111.5 L525.5,111.5 L526.7,111.8 L528.0,112.3 L529.2,113.5 L530.4,115.3 L531.6,117.2 L532.8,119.3 L534.0,121.1 L535.3,122.1 L536.5,122.9 L537.7,123.5 L538.9,123.8 L540.1,123.6 L541.3,123.8 L542.6,124.3 L543.8,125.2 L545.0,126.5 L546.2,127.9 L547.4,129.7 L548.6,131.1 L549.9,132.3 L551.1,133.4 L552.3,134.2 L553.5,135.2 L554.7,136.6 L555.9,137.6 L557.2,137.8 L558.4,137.6 L559.6,137.2 L560.8,136.9 L562.0,136.2 L563.2,135.2 L564.5,134.2 L565.7,133.8 L566.9,133.9 L568.1,134.1 L569.3,133.7 L570.5,132.5 L571.8,131.8 L573.0,131.7 L574.2,131.9 L575.4,132.2 L576.6,132.4 L577.8,132.4 L579.1,132.3 L580.3,132.0 L581.5,131.5 L582.7,130.7 L583.9,129.9 L585.1,129.5 L586.4,129.5 L587.6,129.1 L588.8,128.2 L590.0,127.1 L591.2,125.8 L592.4,124.4 L593.7,122.9 L594.9,121.4 L596.1,120.0 L597.3,118.5 L598.5,117.2 L599.7,116.5 L601.0,116.0 L602.2,115.0 L603.4,114.1 L604.6,113.5 L605.8,113.0 L607.0,112.5 L608.3,112.0 L609.5,111.5 L610.7,111.0 L611.9,110.6 L613.1,109.8 L614.3,109.0 L615.6,108.2 L616.8,107.2 L618.0,106.3 L619.2,105.5 L620.4,105.0 L621.6,104.8 L622.9,105.1 L624.1,105.7 L625.3,106.1 L626.5,106.6 L627.7,107.1 L628.9,107.4 L630.2,107.7 L631.4,108.1 L632.6,109.1 L633.8,110.3 L635.0,111.5 L636.2,112.6 L637.5,113.6 L638.7,114.7 L639.9,115.9 L641.1,116.6 L642.3,117.2 L643.5,118.1 L644.7,119.4 L646.0,121.3 L647.2,122.9 L648.4,124.4 L649.6,125.6 L650.8,126.8 L652.0,127.8 L653.3,128.7 L654.5,129.3 L655.7,129.2 L656.9,128.3 L658.1,126.8 L659.3,125.2 L660.6,123.7 L661.8,122.3 L663.0,120.9 L664.2,119.2 L665.4,117.2 L666.6,115.0 L667.9,112.5 L669.1,109.9 L670.3,106.9 L671.5,103.5 L672.7,100.4 L673.9,97.3 L675.2,94.7 L676.4,92.5 L677.6,90.0 L678.8,87.1 L680.0,84.7 L681.2,82.8 L682.5,80.8 L683.7,78.7 L684.9,76.7 L686.1,75.3 L687.3,74.6 L688.5,74.3 L689.8,74.1 L691.0,73.9 L692.2,73.6 L693.4,73.2 L694.6,73.5 L695.8,74.1 L697.1,75.0 L698.3,76.3 L699.5,79.6 L700.7,85.0 L701.9,89.2 L703.1,92.5 L704.4,95.8 L705.6,98.6 L706.8,100.6 L708.0,101.7 L709.2,102.6 L710.4,103.7 L711.7,104.8 L712.9,106.0 L714.1,107.6 L715.3,109.1 L716.5,110.5 L717.7,111.8 L719.0,113.7 L720.2,115.7 L721.4,118.1 L722.6,120.8 L723.8,124.8 L725.0,128.0 L726.3,130.3 L727.5,132.3 L728.7,134.3 L729.9,136.1 L731.1,137.6 L732.3,138.4 L733.6,138.5 L734.8,138.3 L736.0,137.7 L737.2,136.6 L738.4,135.4 L739.6,134.6 L740.9,135.6 L742.1,137.0 L743.3,138.4 L744.5,139.2 L745.7,139.5 L746.9,139.4 L748.2,139.0 L749.4,138.3 L750.6,137.2 L751.8,136.4 L753.0,135.5 L754.2,134.7 L755.5,133.7 L756.7,132.3 L757.9,130.8 L759.1,128.9 L760.3,127.0 L761.5,125.3 L762.8,124.1 L764.0,122.8 L765.2,121.6 L766.4,121.4 L767.6,121.9 L768.8,122.7 L770.0,124.0 L771.3,125.5 L772.5,127.8 L773.7,130.2 L774.9,131.7 L776.1,132.5 L777.3,133.1 L778.6,133.7 L779.8,134.3 L781.0,134.7 L782.2,134.9 L783.4,135.5 L784.6,136.4 L785.9,137.6 L787.1,139.5 L788.3,142.0 L789.5,144.6 L790.7,148.4 L791.9,152.3 L793.2,155.1 L794.4,156.9 L795.6,158.0 L796.8,159.3 L798.0,161.0 L799.2,163.2 L800.5,165.4 L801.7,167.3 L802.9,167.9 L804.1,168.5 L805.3,169.1 L806.5,169.6 L807.8,169.7 L809.0,169.2 L810.2,168.3 L811.4,167.0 L812.6,165.8 L813.8,165.1 L815.1,165.0 L816.3,165.4 L817.5,166.0 L818.7,167.0 L819.9,168.0 L821.1,169.1 L822.4,169.9 L823.6,171.6 L824.8,174.0 L826.0,176.9 L827.2,180.1 L828.4,183.0 L829.7,185.1 L830.9,187.3 L832.1,189.4 L832.7,188.3 L831.5,186.4 L830.3,184.4 L829.1,182.3 L827.8,180.0 L826.6,177.0 L825.4,174.2 L824.2,171.8 L823.0,169.8 L821.8,168.7 L820.5,167.8 L819.3,166.8 L818.1,165.9 L816.9,165.1 L815.7,164.7 L814.5,164.4 L813.2,164.7 L812.0,165.6 L810.8,166.6 L809.6,167.5 L808.4,168.0 L807.2,168.0 L805.9,167.5 L804.7,166.9 L803.5,166.2 L802.3,165.7 L801.1,164.5 L799.9,162.3 L798.6,160.1 L797.4,158.2 L796.2,156.7 L795.0,155.6 L793.8,154.2 L792.6,152.0 L791.3,148.9 L790.1,145.1 L788.9,142.3 L787.7,139.9 L786.5,137.9 L785.3,136.5 L784.0,135.5 L782.8,134.8 L781.6,134.4 L780.4,134.2 L779.2,133.7 L778.0,133.1 L776.7,132.4 L775.5,131.8 L774.3,130.8 L773.1,129.0 L771.9,126.8 L770.7,125.1 L769.4,123.9 L768.2,123.0 L767.0,122.5 L765.8,122.3 L764.6,123.1 L763.4,124.3 L762.1,125.4 L760.9,126.7 L759.7,128.4 L758.5,130.2 L757.3,131.7 L756.1,133.0 L754.8,134.0 L753.6,134.8 L752.4,135.4 L751.2,136.3 L750.0,137.0 L748.8,137.8 L747.5,138.3 L746.3,138.4 L745.1,138.3 L743.9,137.7 L742.7,136.6 L741.5,135.2 L740.2,134.1 L739.0,133.6 L737.8,134.8 L736.6,135.7 L735.4,136.3 L734.2,136.5 L732.9,136.4 L731.7,135.8 L730.5,134.6 L729.3,132.8 L728.1,130.8 L726.9,128.9 L725.6,126.9 L724.4,124.2 L723.2,120.6 L722.0,117.4 L720.8,115.1 L719.6,113.1 L718.3,111.1 L717.1,109.6 L715.9,108.2 L714.7,106.8 L713.5,105.3 L712.3,103.9 L711.0,102.8 L709.8,101.7 L708.6,100.7 L707.4,99.8 L706.2,98.3 L705.0,96.1 L703.8,93.2 L702.5,90.2 L701.3,86.9 L700.1,82.7 L698.9,78.3 L697.7,76.7 L696.5,75.8 L695.2,75.2 L694.0,75.0 L692.8,75.1 L691.6,75.7 L690.4,76.0 L689.2,76.4 L687.9,76.8 L686.7,77.4 L685.5,78.4 L684.3,80.2 L683.1,82.2 L681.9,84.2 L680.6,86.1 L679.4,88.2 L678.2,90.8 L677.0,93.5 L675.8,95.7 L674.6,97.8 L673.3,100.6 L672.1,103.5 L670.9,106.5 L669.7,109.5 L668.5,112.1 L667.3,114.4 L666.0,116.7 L664.8,118.5 L663.6,120.2 L662.4,121.5 L661.2,122.8 L660.0,124.0 L658.7,125.4 L657.5,126.8 L656.3,127.8 L655.1,128.3 L653.9,127.9 L652.7,127.0 L651.4,126.2 L650.2,125.0 L649.0,123.9 L647.8,122.6 L646.6,121.2 L645.4,119.5 L644.1,118.0 L642.9,117.0 L641.7,116.3 L640.5,115.8 L639.3,114.9 L638.1,113.7 L636.8,112.8 L635.6,111.8 L634.4,110.9 L633.2,109.7 L632.0,108.7 L630.8,108.1 L629.5,107.9 L628.3,107.6 L627.1,107.3 L625.9,106.9 L624.7,106.5 L623.5,106.2 L622.2,105.8 L621.0,105.7 L619.8,106.2 L618.6,106.8 L617.4,107.7 L616.2,108.6 L614.9,109.5 L613.7,110.3 L612.5,111.0 L611.3,111.7 L610.1,112.2 L608.9,112.6 L607.6,113.2 L606.4,113.7 L605.2,114.2 L604.0,114.8 L602.8,115.5 L601.6,116.5 L600.3,117.3 L599.1,117.9 L597.9,118.8 L596.7,120.2 L595.5,121.5 L594.3,122.8 L593.0,124.3 L591.8,125.6 L590.6,126.9 L589.4,128.0 L588.2,128.8 L587.0,129.5 L585.7,129.7 L584.5,129.8 L583.3,130.3 L582.1,131.2 L580.9,131.7 L579.7,132.1 L578.4,132.3 L577.2,132.3 L576.0,132.3 L574.8,132.0 L573.6,131.8 L572.4,131.7 L571.2,132.0 L569.9,133.0 L568.7,133.8 L567.5,133.7 L566.3,133.5 L565.1,133.6 L563.9,134.2 L562.6,135.1 L561.4,135.8 L560.2,136.2 L559.0,136.3 L557.8,136.5 L556.6,136.5 L555.3,135.8 L554.1,134.6 L552.9,133.3 L551.7,132.5 L550.5,131.5 L549.3,130.4 L548.0,129.2 L546.8,127.6 L545.6,126.1 L544.4,124.7 L543.2,123.7 L542.0,123.0 L540.7,122.7 L539.5,122.6 L538.3,122.5 L537.1,122.0 L535.9,121.3 L534.7,120.4 L533.4,119.1 L532.2,117.2 L531.0,115.3 L529.8,113.6 L528.6,112.1 L527.4,111.4 L526.1,111.0 L524.9,110.8 L523.7,110.9 L522.5,110.7 L521.3,111.0 L520.1,111.7 L518.8,111.8 L517.6,110.3 L516.4,108.9 L515.2,107.7 L514.0,106.6 L512.8,105.5 L511.5,104.2 L510.3,102.4 L509.1,100.6 L507.9,99.1 L506.7,97.9 L505.5,96.5 L504.2,95.1 L503.0,94.1 L501.8,93.7 L500.6,93.6 L499.4,93.3 L498.2,92.8 L496.9,92.2 L495.7,91.4 L494.5,90.7 L493.3,89.9 L492.1,88.9 L490.9,88.0 L489.6,88.1 L488.4,89.2 L487.2,91.3 L486.0,92.9 L484.8,94.1 L483.6,94.8 L482.3,95.4 L481.1,95.8 L479.9,96.2 L478.7,97.4 L477.5,99.5 L476.3,101.5 L475.0,103.1 L473.8,104.5 L472.6,105.5 L471.4,106.3 L470.2,107.1 L469.0,107.8 L467.7,108.6 L466.5,109.7 L465.3,110.6 L464.1,111.4 L462.9,111.7 L461.7,112.0 L460.4,112.2 L459.2,112.1 L458.0,111.7 L456.8,110.9 L455.6,110.2 L454.4,109.7 L453.1,109.3 L451.9,109.2 L450.7,108.8 L449.5,108.2 L448.3,107.2 L447.1,105.8 L445.9,103.9 L444.6,102.3 L443.4,101.0 L442.2,99.6 L441.0,98.3 L439.8,97.4 L438.6,97.5 L437.3,97.4 L436.1,96.8 L434.9,96.7 L433.7,96.5 L432.5,95.9 L431.3,95.4 L430.0,95.1 L428.8,95.0 L427.6,95.1 L426.4,95.4 L425.2,95.9 L424.0,96.4 L422.7,96.8 L421.5,97.0 L420.3,97.1 L419.1,97.0 L417.9,96.5 L416.7,95.6 L415.4,94.6 L414.2,94.2 L413.0,94.6 L411.8,94.8 L410.6,94.7 L409.4,94.9 L408.1,95.2 L406.9,96.1 L405.7,96.6 L404.5,96.6 L403.3,96.1 L402.1,95.9 L400.8,96.4 L399.6,96.8 L398.4,97.1 L397.2,97.2 L396.0,97.3 L394.8,97.3 L393.5,97.4 L392.3,97.6 L391.1,98.0 L389.9,98.9 L388.7,100.0 L387.5,100.9 L386.2,101.5 L385.0,102.2 L383.8,103.2 L382.6,103.8 L381.4,104.1 L380.2,104.8 L378.9,105.9 L377.7,107.7 L376.5,110.2 L375.3,113.4 L374.1,116.4 L372.9,118.7 L371.6,120.7 L370.4,122.5 L369.2,124.4 L368.0,126.5 L366.8,129.2 L365.6,132.5 L364.3,136.0 L363.1,138.8 L361.9,140.7 L360.7,142.1 L359.5,143.2 L358.3,144.4 L357.0,145.0 L355.8,145.3 L354.6,145.3 L353.4,145.1 L352.2,145.1 L351.0,145.2 L349.7,145.5 L348.5,146.1 L347.3,146.4 L346.1,146.7 L344.9,146.7 L343.7,146.6 L342.4,146.5 L341.2,146.6 L340.0,146.7 L338.8,147.2 L337.6,148.1 L336.4,149.2 L335.1,150.5 L333.9,151.6 L332.7,152.5 L331.5,152.9 L330.3,152.7 L329.1,152.2 L327.8,151.9 L326.6,151.8 L325.4,151.8 L324.2,152.2 L323.0,152.8 L321.8,153.2 L320.5,153.8 L319.3,154.2 L318.1,154.8 L316.9,155.4 L315.7,156.1 L314.5,156.9 L313.3,157.7 L312.0,158.4 L310.8,159.6 L309.6,160.8 L308.4,161.9 L307.2,163.5 L306.0,164.9 L304.7,166.2 L303.5,167.2 L302.3,168.3 L301.1,169.2 L299.9,169.8 L298.7,168.9 L297.4,166.9 L296.2,164.9 L295.0,163.4 L293.8,162.3 L292.6,161.3 L291.4,160.3 L290.1,159.8 L288.9,159.6 L287.7,159.9 L286.5,159.9 L285.3,159.7 L284.1,159.2 L282.8,158.5 L281.6,157.6 L280.4,156.9 L279.2,155.7 L278.0,154.9 L276.8,154.8 L275.5,155.5 L274.3,156.2 L273.1,156.7 L271.9,156.7 L270.7,156.3 L269.5,155.7 L268.2,155.0 L267.0,154.3 L265.8,153.6 L264.6,152.9 L263.4,152.5 L262.2,151.2 L260.9,149.7 L259.7,148.8 L258.5,148.8 L257.3,149.4 L256.1,150.6 L254.9,152.1 L253.6,153.4 L252.4,154.6 L251.2,156.1 L250.0,158.1 L248.8,159.5 L247.6,160.5 L246.3,161.1 L245.1,161.6 L243.9,162.1 L242.7,162.5 L241.5,162.7 L240.3,162.9 L239.0,163.2 L237.8,163.2 L236.6,162.9 L235.4,161.7 L234.2,160.0 L233.0,159.2 L231.7,158.7 L230.5,158.2 L229.3,157.9 L228.1,157.9 L226.9,158.1 L225.7,158.3 L224.4,158.2 L223.2,157.6 L222.0,156.9 L220.8,156.5 L219.6,155.9 L218.4,155.1 L217.1,154.3 L215.9,153.2 L214.7,151.8 L213.5,150.1 L212.3,148.3 L211.1,146.8 L209.8,145.5 L208.6,144.8 L207.4,144.6 L206.2,143.9 L205.0,143.7 L203.8,143.8 L202.5,144.2 L201.3,144.8 L200.1,145.6 L198.9,146.3 L197.7,147.3 L196.5,148.2 L195.2,148.9 L194.0,149.0 L192.8,148.7 L191.6,148.6 L190.4,149.0 L189.2,149.4 L188.0,149.9 L186.7,150.2 L185.5,151.0 L184.3,152.6 L183.1,154.8 L181.9,157.1 L180.7,159.3 L179.4,161.1 L178.2,162.6 L177.0,163.7 L175.8,164.7 L174.6,165.8 L173.4,166.6 L172.1,166.9 L170.9,166.8 L169.7,167.8 L168.5,169.3 L167.3,170.4 L166.1,171.1 L164.8,171.4 L163.6,171.6 L162.4,171.8 L161.2,172.1 L160.0,172.5 L158.8,173.2 L157.5,173.8 L156.3,174.5 L155.1,175.2 L153.9,175.7 L152.7,176.6 L151.5,177.8 L150.2,179.1 L149.0,180.0 L147.8,180.7 L146.6,181.5 L145.4,183.2 L144.2,185.2 L142.9,186.9 L141.7,188.4 L140.5,190.3 L139.3,192.6 L138.1,195.0 L136.9,197.5 L135.6,200.0 L134.4,202.7 L133.2,205.6 L132.0,208.4 L130.8,209.9 L129.6,210.8 L128.3,211.6 L127.1,212.4 L125.9,213.1 L124.7,213.2 L123.5,212.9 L122.3,212.4 L121.0,211.9 L119.8,211.3 L118.6,211.0 L117.4,211.0 L116.2,211.0 L115.0,211.3 L113.7,211.6 L112.5,212.2 L111.3,212.9 L110.1,213.8 L108.9,214.9 L107.7,216.2 L106.4,217.4 L105.2,218.8 L104.0,219.9 L102.8,220.9 L101.6,221.7 L100.4,222.4 L99.1,223.2 L97.9,224.1 L96.7,225.2 L95.5,226.0 L94.3,226.8 L93.1,227.4 L91.8,228.3 L90.6,229.5 L89.4,230.9 L88.2,232.2 L87.0,233.7 L85.8,235.5 L84.5,237.5 L83.3,239.7 L82.1,241.7 L80.9,243.7 L79.7,245.2 L78.5,246.7 L77.2,248.8 L76.0,251.4 L74.8,254.2 L73.6,256.8 L72.4,259.0 L71.2,260.9 L69.9,262.5 L68.7,263.8 L67.5,264.9 L66.3,266.0 L65.1,266.7 L63.9,267.2 L62.7,267.5 L61.4,267.8 L60.2,268.1 L59.0,268.2 L57.8,268.2 L56.6,268.6 L55.4,268.9 L54.1,269.2 L52.9,269.3 L51.7,269.5 L50.5,269.9 L49.3,270.5 L48.1,271.4 L46.8,272.6 L45.6,273.6 L44.4,274.4 L43.2,275.2 L42.0,276.0 L40.8,277.2 L39.5,278.7 L38.3,280.4 L37.1,282.2 L35.9,284.0 L34.7,285.4 L33.5,286.6 L32.2,287.5 L31.0,287.8 L29.8,287.5 L28.6,287.2 L27.4,287.8 L26.2,288.9 L24.9,288.4 L23.7,286.4 L22.5,284.2 L21.3,282.7 L20.1,281.5 L18.9,280.2 L17.6,277.8 L16.4,274.5 L15.2,272.1 L14.0,270.7 L12.8,270.0 L11.6,269.5 L10.3,268.9 L9.1,268.2 L7.9,267.9 L6.7,267.6 L5.5,267.2 L4.3,266.5 L3.0,266.1 L1.8,265.9 L0.6,266.6 Z" fill="#d44c3c" stroke="#d44c3c" stroke-width="0.6"/>
<path d="M0.0,267.1 L1.2,265.9 L2.4,266.0 L3.6,266.3 L4.9,266.8 L6.1,267.4 L7.3,267.8 L8.5,268.1 L9.7,268.5 L10.9,269.3 L12.2,269.8 L13.4,270.2 L14.6,271.3 L15.8,273.2 L17.0,276.2 L18.2,279.1 L19.5,280.9 L20.7,282.1 L21.9,283.4 L23.1,285.3 L24.3,287.6 L25.5,288.9 L26.8,288.5 L28.0,287.3 L29.2,287.3 L30.4,287.7 L31.6,287.7 L32.8,287.1 L34.1,286.0 L35.3,284.6 L36.5,283.1 L37.7,281.2 L38.9,279.5 L40.1,278.0 L41.4,276.6 L42.6,275.6 L43.8,274.8 L45.0,274.0 L46.2,273.1 L47.4,272.1 L48.7,270.9 L49.9,270.2 L51.1,269.7 L52.3,269.4 L53.5,269.2 L54.7,269.1 L56.0,268.8 L57.2,268.4 L58.4,268.2 L59.6,268.2 L60.8,267.9 L62.0,267.7 L63.3,267.4 L64.5,267.0 L65.7,266.4 L66.9,265.4 L68.1,264.4 L69.3,263.1 L70.6,261.7 L71.8,259.9 L73.0,258.0 L74.2,255.6 L75.4,252.7 L76.6,250.0 L77.9,247.6 L79.1,245.9 L80.3,244.5 L81.5,242.8 L82.7,240.7 L83.9,238.6 L85.2,236.4 L86.4,234.6 L87.6,232.9 L88.8,231.6 L90.0,230.2 L91.2,228.9 L92.5,227.8 L93.7,227.1 L94.9,226.4 L96.1,225.6 L97.3,224.6 L98.5,223.7 L99.8,222.7 L101.0,222.0 L102.2,221.3 L103.4,220.4 L104.6,219.3 L105.8,218.1 L107.1,216.8 L108.3,215.5 L109.5,214.3 L110.7,213.3 L111.9,212.6 L113.1,211.8 L114.4,211.4 L115.6,211.2 L116.8,211.0 L118.0,210.9 L119.2,211.1 L120.4,211.6 L121.7,212.1 L122.9,212.7 L124.1,213.1 L125.3,213.2 L126.5,212.8 L127.7,212.0 L128.9,211.2 L130.2,210.4 L131.4,209.2 L132.6,207.2 L133.8,204.1 L135.0,201.3 L136.2,198.7 L137.5,196.2 L138.7,193.8 L139.9,191.4 L141.1,189.3 L142.3,187.6 L143.5,186.1 L144.8,184.2 L146.0,182.3 L147.2,181.0 L148.4,180.5 L149.6,179.6 L150.8,178.5 L152.1,177.1 L153.3,176.1 L154.5,175.4 L155.7,174.9 L156.9,174.1 L158.1,173.5 L159.4,172.8 L160.6,172.3 L161.8,172.0 L163.0,171.7 L164.2,171.4 L165.4,171.2 L166.7,170.8 L167.9,170.0 L169.1,168.5 L170.3,167.1 L171.5,166.8 L172.7,166.9 L174.0,166.3 L175.2,165.2 L176.4,164.2 L177.6,163.2 L178.8,161.9 L180.0,160.3 L181.3,158.3 L182.5,155.9 L183.7,153.6 L184.9,151.8 L186.1,150.4 L187.3,150.1 L188.6,149.7 L189.8,149.2 L191.0,148.7 L192.2,148.6 L193.4,148.8 L194.6,149.0 L195.9,148.6 L197.1,147.7 L198.3,146.7 L199.5,146.0 L200.7,145.2 L201.9,144.5 L203.2,144.0 L204.4,143.8 L205.6,143.8 L206.8,144.3 L208.0,144.8 L209.2,145.1 L210.5,146.1 L211.7,147.5 L212.9,149.1 L214.1,151.0 L215.3,152.5 L216.5,153.8 L217.8,154.7 L219.0,155.5 L220.2,156.2 L221.4,156.7 L222.6,157.2 L223.8,158.0 L225.1,158.3 L226.3,158.2 L227.5,158.0 L228.7,157.8 L229.9,158.0 L231.1,158.5 L232.4,159.0 L233.6,159.5 L234.8,160.8 L236.0,162.4 L237.2,163.1 L238.4,163.2 L239.7,163.0 L240.9,162.8 L242.1,162.6 L243.3,162.3 L244.5,161.9 L245.7,161.4 L247.0,160.8 L248.2,160.1 L249.4,158.8 L250.6,157.1 L251.8,155.3 L253.0,154.0 L254.3,152.8 L255.5,151.4 L256.7,149.9 L257.9,149.0 L259.1,148.7 L260.3,149.2 L261.5,150.3 L262.8,152.0 L264.0,152.7 L265.2,153.2 L266.4,153.9 L267.6,154.6 L268.8,155.4 L270.1,156.0 L271.3,156.5 L272.5,156.8 L273.7,156.5 L274.9,155.9 L276.1,155.0 L277.4,154.8 L278.6,155.2 L279.8,156.3 L281.0,157.3 L282.2,158.0 L283.4,158.9 L284.7,159.5 L285.9,159.8 L287.1,159.9 L288.3,159.8 L289.5,159.7 L290.7,160.0 L292.0,160.8 L293.2,161.8 L294.4,162.8 L295.6,164.1 L296.8,165.8 L298.0,168.1 L299.3,169.5 L300.5,169.6 L301.7,168.8 L302.9,167.8 L304.1,166.8 L305.3,165.6 L306.6,164.2 L307.8,162.6 L309.0,161.3 L310.2,160.2 L311.4,159.0 L312.6,158.1 L313.9,157.3 L315.1,156.5 L316.3,155.7 L317.5,155.1 L318.7,154.5 L319.9,154.1 L321.2,153.5 L322.4,153.0 L323.6,152.5 L324.8,152.0 L326.0,151.8 L327.2,151.8 L328.5,152.0 L329.7,152.5 L330.9,152.8 L332.1,152.8 L333.3,152.2 L334.5,151.1 L335.8,149.9 L337.0,148.6 L338.2,147.7 L339.4,146.9 L340.6,146.7 L341.8,146.6 L343.1,146.5 L344.3,146.6 L345.5,146.7 L346.7,146.6 L347.9,146.3 L349.1,145.8 L350.4,145.3 L351.6,145.2 L352.8,145.1 L354.0,145.3 L355.2,145.4 L356.4,145.1 L357.7,144.8 L358.9,143.8 L360.1,142.6 L361.3,141.5 L362.5,139.8 L363.7,137.6 L365.0,134.2 L366.2,130.8 L367.4,127.8 L368.6,125.4 L369.8,123.4 L371.0,121.6 L372.3,119.7 L373.5,117.5 L374.7,115.0 L375.9,111.7 L377.1,108.8 L378.3,106.7 L379.6,105.3 L380.8,104.4 L382.0,103.9 L383.2,103.5 L384.4,102.8 L385.6,101.8 L386.8,101.1 L388.1,100.5 L389.3,99.4 L390.5,98.4 L391.7,97.7 L392.9,97.5 L394.1,97.4 L395.4,97.3 L396.6,97.3 L397.8,97.2 L399.0,97.0 L400.2,96.7 L401.4,96.1 L402.7,95.9 L403.9,96.4 L405.1,96.6 L406.3,96.4 L407.5,95.6 L408.7,95.0 L410.0,94.8 L411.2,94.8 L412.4,94.7 L413.6,94.4 L414.8,94.3 L416.0,95.1 L417.3,96.1 L418.5,96.8 L419.7,97.0 L420.9,97.1 L422.1,96.9 L423.3,96.6 L424.6,96.2 L425.8,95.6 L427.0,95.3 L428.2,95.0 L429.4,94.9 L430.6,95.2 L431.9,95.7 L433.1,96.2 L434.3,96.6 L435.5,96.7 L436.7,97.0 L437.9,97.5 L439.2,97.3 L440.4,97.8 L441.6,98.9 L442.8,100.3 L444.0,101.7 L445.2,103.1 L446.5,104.8 L447.7,106.6 L448.9,107.8 L450.1,108.6 L451.3,109.0 L452.5,109.2 L453.8,109.4 L455.0,110.0 L456.2,110.6 L457.4,111.3 L458.6,111.9 L459.8,112.2 L461.1,112.0 L462.3,111.8 L463.5,111.6 L464.7,111.0 L465.9,110.2 L467.1,109.1 L468.4,108.1 L469.6,107.4 L470.8,106.7 L472.0,105.9 L473.2,105.0 L474.4,103.8 L475.7,102.4 L476.9,100.6 L478.1,98.4 L479.3,96.7 L480.5,95.9 L481.7,95.6 L483.0,95.1 L484.2,94.5 L485.4,93.6 L486.6,92.2 L487.8,90.2 L489.0,88.5 L490.3,88.0 L491.5,88.4 L492.7,89.4 L493.9,90.3 L495.1,91.1 L496.3,91.8 L497.6,92.5 L498.8,93.1 L500.0,93.5 L501.2,93.6 L502.4,93.9 L503.6,94.5 L504.9,95.8 L506.1,97.2 L507.3,98.5 L508.5,99.9 L509.7,101.5 L510.9,103.4 L512.2,104.9 L513.4,106.0 L514.6,107.2 L515.8,108.2 L517.0,109.6 L518.2,111.0 L519.4,112.0 L520.7,111.3 L521.9,110.8 L523.1,110.8 L524.3,110.8 L525.5,110.9 L526.7,111.2 L528.0,111.6 L529.2,112.8 L530.4,114.4 L531.6,116.2 L532.8,118.1 L534.0,119.8 L535.3,120.9 L536.5,121.7 L537.7,122.3 L538.9,122.6 L540.1,122.6 L541.3,122.8 L542.6,123.3 L543.8,124.2 L545.0,125.4 L546.2,126.7 L547.4,128.5 L548.6,129.8 L549.9,131.0 L551.1,132.0 L552.3,132.9 L553.5,133.9 L554.7,135.2 L555.9,136.3 L557.2,136.6 L558.4,136.5 L559.6,136.2 L560.8,136.1 L562.0,135.5 L563.2,134.6 L564.5,133.9 L565.7,133.5 L566.9,133.6 L568.1,133.8 L569.3,133.5 L570.5,132.4 L571.8,131.8 L573.0,131.7 L574.2,131.9 L575.4,132.1 L576.6,132.3 L577.8,132.3 L579.1,132.2 L580.3,132.0 L581.5,131.5 L582.7,130.8 L583.9,130.0 L585.1,129.7 L586.4,129.6 L587.6,129.2 L588.8,128.4 L590.0,127.4 L591.2,126.3 L592.4,124.9 L593.7,123.6 L594.9,122.1 L596.1,120.9 L597.3,119.5 L598.5,118.2 L599.7,117.5 L601.0,116.9 L602.2,116.0 L603.4,115.1 L604.6,114.5 L605.8,114.0 L607.0,113.5 L608.3,112.9 L609.5,112.4 L610.7,111.9 L611.9,111.4 L613.1,110.7 L614.3,109.9 L615.6,109.1 L616.8,108.1 L618.0,107.3 L619.2,106.5 L620.4,106.0 L621.6,105.7 L622.9,105.9 L624.1,106.4 L625.3,106.7 L626.5,107.1 L627.7,107.5 L628.9,107.7 L630.2,108.0 L631.4,108.3 L632.6,109.2 L633.8,110.3 L635.0,111.4 L636.2,112.3 L637.5,113.2 L638.7,114.3 L639.9,115.4 L641.1,116.0 L642.3,116.6 L643.5,117.4 L644.7,118.7 L646.0,120.4 L647.2,121.9 L648.4,123.4 L649.6,124.5 L650.8,125.7 L652.0,126.6 L653.3,127.5 L654.5,128.1 L655.7,128.1 L656.9,127.4 L658.1,126.1 L659.3,124.7 L660.6,123.4 L661.8,122.1 L663.0,120.9 L664.2,119.4 L665.4,117.6 L666.6,115.6 L667.9,113.3 L669.1,110.9 L670.3,108.0 L671.5,105.0 L672.7,102.1 L673.9,99.2 L675.2,96.7 L676.4,94.6 L677.6,92.2 L678.8,89.4 L680.0,87.1 L681.2,85.2 L682.5,83.2 L683.7,81.2 L684.9,79.2 L686.1,77.8 L687.3,77.0 L688.5,76.6 L689.8,76.2 L691.0,75.8 L692.2,75.4 L693.4,75.0 L694.6,75.1 L695.8,75.5 L697.1,76.2 L698.3,77.3 L699.5,80.2 L700.7,84.9 L701.9,88.7 L703.1,91.7 L704.4,94.7 L705.6,97.3 L706.8,99.2 L708.0,100.3 L709.2,101.2 L710.4,102.3 L711.7,103.4 L712.9,104.6 L714.1,106.1 L715.3,107.6 L716.5,108.9 L717.7,110.3 L719.0,112.0 L720.2,114.0 L721.4,116.2 L722.6,118.8 L723.8,122.5 L725.0,125.6 L726.3,127.9 L727.5,129.8 L728.7,131.8 L729.9,133.7 L731.1,135.2 L732.3,136.1 L733.6,136.5 L734.8,136.4 L736.0,136.0 L737.2,135.2 L738.4,134.2 L739.6,133.7 L740.9,134.6 L742.1,135.9 L743.3,137.3 L744.5,138.1 L745.7,138.4 L746.9,138.4 L748.2,138.1 L749.4,137.5 L750.6,136.6 L751.8,135.9 L753.0,135.1 L754.2,134.5 L755.5,133.5 L756.7,132.3 L757.9,131.0 L759.1,129.3 L760.3,127.5 L761.5,126.0 L762.8,124.9 L764.0,123.7 L765.2,122.6 L766.4,122.3 L767.6,122.7 L768.8,123.4 L770.0,124.5 L771.3,125.8 L772.5,127.8 L773.7,130.1 L774.9,131.4 L776.1,132.2 L777.3,132.8 L778.6,133.4 L779.8,133.9 L781.0,134.3 L782.2,134.6 L783.4,135.1 L784.6,136.0 L785.9,137.1 L787.1,138.9 L788.3,141.1 L789.5,143.5 L790.7,147.0 L791.9,150.6 L793.2,153.2 L794.4,155.0 L795.6,156.1 L796.8,157.4 L798.0,159.1 L799.2,161.2 L800.5,163.3 L801.7,165.2 L802.9,165.9 L804.1,166.6 L805.3,167.3 L806.5,167.8 L807.8,168.1 L809.0,167.8 L810.2,167.1 L811.4,166.1 L812.6,165.1 L813.8,164.5 L815.1,164.5 L816.3,164.9 L817.5,165.5 L818.7,166.4 L819.9,167.3 L821.1,168.3 L822.4,169.2 L823.6,170.7 L824.8,172.9 L826.0,175.6 L827.2,178.6 L828.4,181.3 L829.7,183.3 L830.9,185.4 L832.1,187.4 L832.7,186.5 L831.5,184.6 L830.3,182.6 L829.1,180.7 L827.8,178.5 L826.6,175.6 L825.4,173.0 L824.2,170.8 L823.0,169.0 L821.8,167.9 L820.5,167.1 L819.3,166.1 L818.1,165.2 L816.9,164.5 L815.7,164.0 L814.5,163.7 L813.2,163.9 L812.0,164.7 L810.8,165.5 L809.6,166.2 L808.4,166.5 L807.2,166.4 L805.9,165.8 L804.7,165.1 L803.5,164.3 L802.3,163.7 L801.1,162.5 L799.9,160.4 L798.6,158.4 L797.4,156.5 L796.2,155.1 L795.0,154.0 L793.8,152.6 L792.6,150.5 L791.3,147.6 L790.1,144.1 L788.9,141.5 L787.7,139.3 L786.5,137.5 L785.3,136.1 L784.0,135.2 L782.8,134.5 L781.6,134.1 L780.4,133.9 L779.2,133.4 L778.0,132.8 L776.7,132.2 L775.5,131.6 L774.3,130.6 L773.1,129.0 L771.9,127.0 L770.7,125.4 L769.4,124.4 L768.2,123.6 L767.0,123.1 L765.8,123.0 L764.6,123.8 L763.4,124.8 L762.1,125.9 L760.9,127.1 L759.7,128.6 L758.5,130.3 L757.3,131.6 L756.1,132.7 L754.8,133.7 L753.6,134.3 L752.4,134.9 L751.2,135.6 L750.0,136.2 L748.8,136.9 L747.5,137.2 L746.3,137.3 L745.1,137.1 L743.9,136.5 L742.7,135.5 L741.5,134.1 L740.2,133.0 L739.0,132.5 L737.8,133.4 L736.6,134.1 L735.4,134.6 L734.2,134.6 L732.9,134.3 L731.7,133.6 L730.5,132.3 L729.3,130.6 L728.1,128.6 L726.9,126.7 L725.6,124.7 L724.4,122.2 L723.2,118.7 L722.0,115.7 L720.8,113.5 L719.6,111.6 L718.3,109.7 L717.1,108.3 L715.9,107.0 L714.7,105.6 L713.5,104.1 L712.3,102.8 L711.0,101.7 L709.8,100.7 L708.6,99.7 L707.4,98.8 L706.2,97.4 L705.0,95.3 L703.8,92.7 L702.5,89.9 L701.3,86.9 L700.1,83.1 L698.9,79.2 L697.7,77.9 L696.5,77.2 L695.2,76.7 L694.0,76.6 L692.8,76.9 L691.6,77.6 L690.4,77.9 L689.2,78.4 L687.9,79.0 L686.7,79.6 L685.5,80.7 L684.3,82.4 L683.1,84.5 L681.9,86.4 L680.6,88.3 L679.4,90.3 L678.2,92.7 L677.0,95.3 L675.8,97.4 L674.6,99.4 L673.3,102.0 L672.1,104.8 L670.9,107.5 L669.7,110.3 L668.5,112.7 L667.3,114.9 L666.0,116.9 L664.8,118.6 L663.6,120.1 L662.4,121.4 L661.2,122.5 L660.0,123.6 L658.7,124.8 L657.5,126.0 L656.3,126.9 L655.1,127.2 L653.9,126.9 L652.7,126.0 L651.4,125.1 L650.2,124.1 L649.0,122.9 L647.8,121.8 L646.6,120.4 L645.4,118.9 L644.1,117.5 L642.9,116.6 L641.7,115.9 L640.5,115.4 L639.3,114.6 L638.1,113.5 L636.8,112.6 L635.6,111.8 L634.4,110.9 L633.2,109.9 L632.0,108.9 L630.8,108.4 L629.5,108.3 L628.3,108.0 L627.1,107.8 L625.9,107.5 L624.7,107.2 L623.5,106.9 L622.2,106.6 L621.0,106.7 L619.8,107.1 L618.6,107.8 L617.4,108.6 L616.2,109.5 L614.9,110.3 L613.7,111.1 L612.5,111.9 L611.3,112.5 L610.1,113.0 L608.9,113.5 L607.6,114.0 L606.4,114.6 L605.2,115.1 L604.0,115.7 L602.8,116.4 L601.6,117.3 L600.3,118.1 L599.1,118.7 L597.9,119.6 L596.7,120.9 L595.5,122.2 L594.3,123.4 L593.0,124.8 L591.8,126.0 L590.6,127.1 L589.4,128.1 L588.2,128.9 L587.0,129.5 L585.7,129.7 L584.5,129.8 L583.3,130.3 L582.1,131.1 L580.9,131.6 L579.7,131.9 L578.4,132.1 L577.2,132.1 L576.0,132.1 L574.8,131.8 L573.6,131.6 L572.4,131.5 L571.2,131.8 L569.9,132.7 L568.7,133.4 L567.5,133.3 L566.3,133.1 L565.1,133.2 L563.9,133.6 L562.6,134.4 L561.4,135.0 L560.2,135.2 L559.0,135.3 L557.8,135.3 L556.6,135.3 L555.3,134.5 L554.1,133.3 L552.9,132.1 L551.7,131.2 L550.5,130.3 L549.3,129.2 L548.0,128.0 L546.8,126.5 L545.6,125.0 L544.4,123.8 L543.2,122.8 L542.0,122.1 L540.7,121.7 L539.5,121.6 L538.3,121.4 L537.1,120.9 L535.9,120.2 L534.7,119.3 L533.4,118.0 L532.2,116.2 L531.0,114.5 L529.8,112.9 L528.6,111.5 L527.4,110.8 L526.1,110.4 L524.9,110.2 L523.7,110.2 L522.5,110.0 L521.3,110.2 L520.1,110.8 L518.8,110.7 L517.6,109.3 L516.4,108.0 L515.2,106.8 L514.0,105.8 L512.8,104.8 L511.5,103.5 L510.3,101.9 L509.1,100.2 L507.9,98.9 L506.7,97.7 L505.5,96.5 L504.2,95.2 L503.0,94.3 L501.8,94.0 L500.6,93.8 L499.4,93.6 L498.2,93.2 L496.9,92.6 L495.7,92.0 L494.5,91.4 L493.3,90.7 L492.1,89.9 L490.9,89.1 L489.6,89.3 L488.4,90.3 L487.2,92.3 L486.0,93.8 L484.8,94.9 L483.6,95.6 L482.3,96.2 L481.1,96.6 L479.9,97.0 L478.7,98.2 L477.5,100.1 L476.3,101.9 L475.0,103.4 L473.8,104.6 L472.6,105.5 L471.4,106.3 L470.2,107.1 L469.0,107.6 L467.7,108.3 L466.5,109.3 L465.3,110.2 L464.1,110.8 L462.9,111.0 L461.7,111.2 L460.4,111.4 L459.2,111.3 L458.0,110.8 L456.8,110.1 L455.6,109.4 L454.4,108.9 L453.1,108.5 L451.9,108.4 L450.7,107.9 L449.5,107.4 L448.3,106.4 L447.1,105.1 L445.9,103.3 L444.6,101.9 L443.4,100.7 L442.2,99.4 L441.0,98.2 L439.8,97.4 L438.6,97.4 L437.3,97.4 L436.1,96.8 L434.9,96.7 L433.7,96.5 L432.5,96.0 L431.3,95.6 L430.0,95.3 L428.8,95.2 L427.6,95.3 L426.4,95.6 L425.2,96.1 L424.0,96.5 L422.7,96.9 L421.5,97.1 L420.3,97.2 L419.1,97.1 L417.9,96.7 L416.7,95.9 L415.4,95.1 L414.2,94.8 L413.0,95.2 L411.8,95.4 L410.6,95.4 L409.4,95.5 L408.1,95.9 L406.9,96.7 L405.7,97.3 L404.5,97.3 L403.3,97.0 L402.1,96.8 L400.8,97.4 L399.6,97.9 L398.4,98.2 L397.2,98.4 L396.0,98.6 L394.8,98.7 L393.5,98.9 L392.3,99.1 L391.1,99.6 L389.9,100.6 L388.7,101.7 L387.5,102.6 L386.2,103.3 L385.0,104.2 L383.8,105.1 L382.6,105.8 L381.4,106.3 L380.2,107.1 L378.9,108.2 L377.7,110.0 L376.5,112.5 L375.3,115.6 L374.1,118.4 L372.9,120.6 L371.6,122.5 L370.4,124.3 L369.2,126.1 L368.0,128.1 L366.8,130.6 L365.6,133.7 L364.3,137.0 L363.1,139.5 L361.9,141.3 L360.7,142.6 L359.5,143.6 L358.3,144.7 L357.0,145.3 L355.8,145.6 L354.6,145.6 L353.4,145.5 L352.2,145.5 L351.0,145.6 L349.7,145.9 L348.5,146.5 L347.3,146.8 L346.1,147.1 L344.9,147.1 L343.7,147.1 L342.4,147.0 L341.2,147.2 L340.0,147.3 L338.8,147.9 L337.6,148.7 L336.4,149.8 L335.1,151.0 L333.9,152.0 L332.7,152.9 L331.5,153.2 L330.3,153.1 L329.1,152.6 L327.8,152.4 L326.6,152.4 L325.4,152.4 L324.2,152.8 L323.0,153.3 L321.8,153.8 L320.5,154.3 L319.3,154.8 L318.1,155.3 L316.9,155.9 L315.7,156.6 L314.5,157.3 L313.3,158.1 L312.0,158.8 L310.8,159.8 L309.6,160.9 L308.4,162.0 L307.2,163.4 L306.0,164.7 L304.7,165.8 L303.5,166.7 L302.3,167.6 L301.1,168.4 L299.9,168.8 L298.7,168.0 L297.4,166.1 L296.2,164.3 L295.0,162.9 L293.8,161.9 L292.6,160.9 L291.4,160.0 L290.1,159.5 L288.9,159.4 L287.7,159.6 L286.5,159.6 L285.3,159.4 L284.1,158.9 L282.8,158.2 L281.6,157.4 L280.4,156.8 L279.2,155.7 L278.0,155.0 L276.8,154.9 L275.5,155.5 L274.3,156.2 L273.1,156.5 L271.9,156.5 L270.7,156.1 L269.5,155.6 L268.2,154.9 L267.0,154.3 L265.8,153.6 L264.6,153.1 L263.4,152.7 L262.2,151.6 L260.9,150.2 L259.7,149.5 L258.5,149.5 L257.3,150.1 L256.1,151.3 L254.9,152.6 L253.6,153.9 L252.4,155.0 L251.2,156.4 L250.0,158.1 L248.8,159.4 L247.6,160.3 L246.3,160.8 L245.1,161.3 L243.9,161.7 L242.7,162.0 L241.5,162.1 L240.3,162.3 L239.0,162.5 L237.8,162.5 L236.6,162.1 L235.4,161.0 L234.2,159.5 L233.0,158.7 L231.7,158.3 L230.5,157.8 L229.3,157.4 L228.1,157.4 L226.9,157.6 L225.7,157.7 L224.4,157.6 L223.2,157.1 L222.0,156.4 L220.8,156.0 L219.6,155.4 L218.4,154.7 L217.1,153.9 L215.9,153.0 L214.7,151.6 L213.5,150.1 L212.3,148.5 L211.1,147.2 L209.8,146.1 L208.6,145.5 L207.4,145.4 L206.2,144.8 L205.0,144.7 L203.8,144.8 L202.5,145.2 L201.3,145.9 L200.1,146.7 L198.9,147.4 L197.7,148.3 L196.5,149.2 L195.2,149.9 L194.0,150.1 L192.8,150.0 L191.6,149.9 L190.4,150.4 L189.2,150.9 L188.0,151.4 L186.7,151.8 L185.5,152.6 L184.3,154.2 L183.1,156.3 L181.9,158.4 L180.7,160.5 L179.4,162.2 L178.2,163.6 L177.0,164.7 L175.8,165.6 L174.6,166.7 L173.4,167.5 L172.1,167.8 L170.9,167.8 L169.7,168.7 L168.5,170.2 L167.3,171.3 L166.1,171.9 L164.8,172.3 L163.6,172.6 L162.4,172.9 L161.2,173.3 L160.0,173.7 L158.8,174.5 L157.5,175.1 L156.3,175.9 L155.1,176.7 L153.9,177.3 L152.7,178.2 L151.5,179.4 L150.2,180.8 L149.0,181.8 L147.8,182.5 L146.6,183.4 L145.4,185.1 L144.2,187.0 L142.9,188.7 L141.7,190.2 L140.5,192.1 L139.3,194.3 L138.1,196.6 L136.9,198.9 L135.6,201.3 L134.4,203.8 L133.2,206.5 L132.0,209.1 L130.8,210.5 L129.6,211.3 L128.3,212.1 L127.1,212.9 L125.9,213.5 L124.7,213.6 L123.5,213.4 L122.3,213.0 L121.0,212.6 L119.8,212.1 L118.6,212.0 L117.4,212.0 L116.2,212.2 L115.0,212.5 L113.7,212.8 L112.5,213.5 L111.3,214.3 L110.1,215.2 L108.9,216.3 L107.7,217.6 L106.4,218.8 L105.2,220.1 L104.0,221.3 L102.8,222.3 L101.6,223.1 L100.4,223.9 L99.1,224.7 L97.9,225.7 L96.7,226.8 L95.5,227.7 L94.3,228.6 L93.1,229.2 L91.8,230.2 L90.6,231.5 L89.4,232.9 L88.2,234.3 L87.0,235.8 L85.8,237.5 L84.5,239.5 L83.3,241.6 L82.1,243.6 L80.9,245.5 L79.7,247.0 L78.5,248.5 L77.2,250.4 L76.0,252.9 L74.8,255.5 L73.6,258.0 L72.4,260.0 L71.2,261.8 L69.9,263.2 L68.7,264.5 L67.5,265.5 L66.3,266.5 L65.1,267.2 L63.9,267.7 L62.7,268.0 L61.4,268.3 L60.2,268.6 L59.0,268.7 L57.8,268.8 L56.6,269.2 L55.4,269.6 L54.1,269.8 L52.9,270.0 L51.7,270.2 L50.5,270.7 L49.3,271.2 L48.1,272.1 L46.8,273.2 L45.6,274.2 L44.4,274.9 L43.2,275.7 L42.0,276.5 L40.8,277.6 L39.5,278.9 L38.3,280.4 L37.1,282.0 L35.9,283.6 L34.7,284.8 L33.5,286.0 L32.2,286.7 L31.0,286.9 L29.8,286.5 L28.6,286.2 L27.4,286.6 L26.2,287.6 L24.9,287.0 L23.7,285.1 L22.5,283.1 L21.3,281.6 L20.1,280.5 L18.9,279.2 L17.6,277.0 L16.4,274.0 L15.2,271.8 L14.0,270.5 L12.8,269.8 L11.6,269.4 L10.3,268.8 L9.1,268.2 L7.9,267.9 L6.7,267.6 L5.5,267.2 L4.3,266.6 L3.0,266.2 L1.8,266.0 L0.6,266.6 Z" fill="#b8322a" stroke="#b8322a" stroke-width="0.6"/>
<path d="M0.0,267.1 L1.2,266.1 L2.4,266.1 L3.6,266.4 L4.9,266.9 L6.1,267.4 L7.3,267.8 L8.5,268.1 L9.7,268.5 L10.9,269.2 L12.2,269.7 L13.4,270.0 L14.6,271.1 L15.8,272.8 L17.0,275.5 L18.2,278.2 L19.5,279.9 L20.7,281.0 L21.9,282.3 L23.1,284.1 L24.3,286.2 L25.5,287.5 L26.8,287.3 L28.0,286.3 L29.2,286.3 L30.4,286.8 L31.6,286.8 L32.8,286.4 L34.1,285.4 L35.3,284.2 L36.5,282.9 L37.7,281.2 L38.9,279.7 L40.1,278.2 L41.4,277.0 L42.6,276.1 L43.8,275.3 L45.0,274.6 L46.2,273.7 L47.4,272.7 L48.7,271.6 L49.9,270.9 L51.1,270.4 L52.3,270.1 L53.5,269.9 L54.7,269.7 L56.0,269.4 L57.2,269.0 L58.4,268.8 L59.6,268.7 L60.8,268.4 L62.0,268.2 L63.3,267.9 L64.5,267.5 L65.7,266.9 L66.9,266.0 L68.1,265.0 L69.3,263.9 L70.6,262.5 L71.8,260.9 L73.0,259.1 L74.2,256.8 L75.4,254.2 L76.6,251.6 L77.9,249.4 L79.1,247.7 L80.3,246.3 L81.5,244.6 L82.7,242.6 L83.9,240.5 L85.2,238.4 L86.4,236.6 L87.6,235.0 L88.8,233.6 L90.0,232.2 L91.2,230.9 L92.5,229.7 L93.7,228.9 L94.9,228.1 L96.1,227.3 L97.3,226.2 L98.5,225.2 L99.8,224.2 L101.0,223.4 L102.2,222.7 L103.4,221.8 L104.6,220.7 L105.8,219.4 L107.1,218.2 L108.3,216.9 L109.5,215.7 L110.7,214.7 L111.9,213.9 L113.1,213.1 L114.4,212.6 L115.6,212.3 L116.8,212.1 L118.0,211.9 L119.2,212.0 L120.4,212.4 L121.7,212.8 L122.9,213.2 L124.1,213.6 L125.3,213.6 L126.5,213.3 L127.7,212.5 L128.9,211.7 L130.2,211.0 L131.4,209.9 L132.6,208.0 L133.8,205.1 L135.0,202.5 L136.2,200.1 L137.5,197.8 L138.7,195.4 L139.9,193.2 L141.1,191.1 L142.3,189.4 L143.5,187.9 L144.8,186.1 L146.0,184.2 L147.2,182.9 L148.4,182.2 L149.6,181.3 L150.8,180.2 L152.1,178.8 L153.3,177.7 L154.5,177.0 L155.7,176.3 L156.9,175.5 L158.1,174.8 L159.4,174.1 L160.6,173.5 L161.8,173.1 L163.0,172.7 L164.2,172.4 L165.4,172.2 L166.7,171.7 L167.9,170.8 L169.1,169.5 L170.3,168.1 L171.5,167.8 L172.7,167.7 L174.0,167.2 L175.2,166.1 L176.4,165.2 L177.6,164.2 L178.8,163.0 L180.0,161.4 L181.3,159.5 L182.5,157.3 L183.7,155.2 L184.9,153.4 L186.1,152.1 L187.3,151.7 L188.6,151.2 L189.8,150.6 L191.0,150.1 L192.2,149.9 L193.4,150.0 L194.6,150.1 L195.9,149.6 L197.1,148.8 L198.3,147.8 L199.5,147.1 L200.7,146.2 L201.9,145.5 L203.2,145.0 L204.4,144.7 L205.6,144.7 L206.8,145.1 L208.0,145.5 L209.2,145.7 L210.5,146.6 L211.7,147.9 L212.9,149.3 L214.1,150.9 L215.3,152.3 L216.5,153.4 L217.8,154.3 L219.0,155.0 L220.2,155.7 L221.4,156.2 L222.6,156.7 L223.8,157.4 L225.1,157.7 L226.3,157.7 L227.5,157.5 L228.7,157.4 L229.9,157.6 L231.1,158.0 L232.4,158.5 L233.6,159.0 L234.8,160.2 L236.0,161.7 L237.2,162.4 L238.4,162.5 L239.7,162.4 L240.9,162.2 L242.1,162.1 L243.3,161.8 L244.5,161.5 L245.7,161.1 L247.0,160.6 L248.2,160.0 L249.4,158.8 L250.6,157.3 L251.8,155.6 L253.0,154.4 L254.3,153.3 L255.5,152.0 L256.7,150.6 L257.9,149.8 L259.1,149.4 L260.3,149.8 L261.5,150.8 L262.8,152.2 L264.0,152.9 L265.2,153.3 L266.4,154.0 L267.6,154.6 L268.8,155.3 L270.1,155.9 L271.3,156.3 L272.5,156.6 L273.7,156.4 L274.9,155.9 L276.1,155.1 L277.4,154.9 L278.6,155.2 L279.8,156.3 L281.0,157.1 L282.2,157.8 L283.4,158.6 L284.7,159.2 L285.9,159.5 L287.1,159.7 L288.3,159.5 L289.5,159.4 L290.7,159.8 L292.0,160.5 L293.2,161.4 L294.4,162.4 L295.6,163.5 L296.8,165.1 L298.0,167.2 L299.3,168.6 L300.5,168.7 L301.7,168.0 L302.9,167.2 L304.1,166.3 L305.3,165.3 L306.6,164.0 L307.8,162.6 L309.0,161.4 L310.2,160.4 L311.4,159.3 L312.6,158.4 L313.9,157.7 L315.1,156.9 L316.3,156.2 L317.5,155.6 L318.7,155.0 L319.9,154.6 L321.2,154.1 L322.4,153.6 L323.6,153.1 L324.8,152.6 L326.0,152.4 L327.2,152.3 L328.5,152.5 L329.7,152.9 L330.9,153.2 L332.1,153.1 L333.3,152.5 L334.5,151.5 L335.8,150.4 L337.0,149.2 L338.2,148.3 L339.4,147.5 L340.6,147.3 L341.8,147.2 L343.1,147.1 L344.3,147.1 L345.5,147.1 L346.7,147.0 L347.9,146.7 L349.1,146.2 L350.4,145.7 L351.6,145.6 L352.8,145.5 L354.0,145.6 L355.2,145.6 L356.4,145.4 L357.7,145.0 L358.9,144.2 L360.1,143.0 L361.3,142.0 L362.5,140.4 L363.7,138.4 L365.0,135.3 L366.2,132.1 L367.4,129.4 L368.6,127.1 L369.8,125.1 L371.0,123.4 L372.3,121.5 L373.5,119.5 L374.7,117.0 L375.9,113.9 L377.1,111.1 L378.3,109.1 L379.6,107.6 L380.8,106.6 L382.0,106.0 L383.2,105.5 L384.4,104.7 L385.6,103.7 L386.8,103.0 L388.1,102.2 L389.3,101.1 L390.5,100.1 L391.7,99.3 L392.9,99.0 L394.1,98.8 L395.4,98.6 L396.6,98.5 L397.8,98.3 L399.0,98.1 L400.2,97.7 L401.4,97.0 L402.7,96.9 L403.9,97.2 L405.1,97.4 L406.3,97.1 L407.5,96.3 L408.7,95.7 L410.0,95.5 L411.2,95.4 L412.4,95.3 L413.6,95.0 L414.8,94.8 L416.0,95.5 L417.3,96.3 L418.5,97.0 L419.7,97.2 L420.9,97.2 L422.1,97.0 L423.3,96.7 L424.6,96.3 L425.8,95.8 L427.0,95.5 L428.2,95.2 L429.4,95.2 L430.6,95.4 L431.9,95.8 L433.1,96.3 L434.3,96.6 L435.5,96.8 L436.7,97.0 L437.9,97.5 L439.2,97.3 L440.4,97.8 L441.6,98.7 L442.8,100.0 L444.0,101.3 L445.2,102.6 L446.5,104.2 L447.7,105.8 L448.9,107.0 L450.1,107.7 L451.3,108.2 L452.5,108.4 L453.8,108.6 L455.0,109.2 L456.2,109.7 L457.4,110.5 L458.6,111.1 L459.8,111.4 L461.1,111.3 L462.3,111.1 L463.5,110.9 L464.7,110.5 L465.9,109.8 L467.1,108.8 L468.4,108.0 L469.6,107.3 L470.8,106.7 L472.0,106.0 L473.2,105.1 L474.4,104.1 L475.7,102.7 L476.9,101.1 L478.1,99.1 L479.3,97.5 L480.5,96.8 L481.7,96.4 L483.0,95.9 L484.2,95.3 L485.4,94.4 L486.6,93.1 L487.8,91.3 L489.0,89.7 L490.3,89.1 L491.5,89.4 L492.7,90.3 L493.9,91.0 L495.1,91.7 L496.3,92.3 L497.6,92.9 L498.8,93.4 L500.0,93.8 L501.2,93.9 L502.4,94.1 L503.6,94.7 L504.9,95.8 L506.1,97.1 L507.3,98.3 L508.5,99.6 L509.7,101.0 L510.9,102.8 L512.2,104.2 L513.4,105.3 L514.6,106.4 L515.8,107.4 L517.0,108.6 L518.2,110.0 L519.4,111.0 L520.7,110.4 L521.9,110.0 L523.1,110.1 L524.3,110.2 L525.5,110.3 L526.7,110.6 L528.0,111.0 L529.2,112.1 L530.4,113.6 L531.6,115.3 L532.8,117.1 L534.0,118.7 L535.3,119.7 L536.5,120.5 L537.7,121.1 L538.9,121.5 L540.1,121.6 L541.3,121.9 L542.6,122.4 L543.8,123.3 L545.0,124.4 L546.2,125.6 L547.4,127.3 L548.6,128.6 L549.9,129.7 L551.1,130.8 L552.3,131.6 L553.5,132.7 L554.7,133.9 L555.9,135.0 L557.2,135.3 L558.4,135.3 L559.6,135.2 L560.8,135.1 L562.0,134.7 L563.2,134.0 L564.5,133.3 L565.7,133.1 L566.9,133.2 L568.1,133.4 L569.3,133.1 L570.5,132.2 L571.8,131.6 L573.0,131.6 L574.2,131.7 L575.4,132.0 L576.6,132.1 L577.8,132.1 L579.1,132.0 L580.3,131.8 L581.5,131.4 L582.7,130.7 L583.9,130.0 L585.1,129.7 L586.4,129.7 L587.6,129.3 L588.8,128.5 L590.0,127.7 L591.2,126.6 L592.4,125.4 L593.7,124.1 L594.9,122.8 L596.1,121.6 L597.3,120.3 L598.5,119.1 L599.7,118.4 L601.0,117.8 L602.2,116.9 L603.4,116.0 L604.6,115.4 L605.8,114.9 L607.0,114.3 L608.3,113.8 L609.5,113.3 L610.7,112.8 L611.9,112.2 L613.1,111.5 L614.3,110.7 L615.6,110.0 L616.8,109.0 L618.0,108.2 L619.2,107.4 L620.4,106.9 L621.6,106.6 L622.9,106.7 L624.1,107.1 L625.3,107.3 L626.5,107.7 L627.7,108.0 L628.9,108.2 L630.2,108.4 L631.4,108.6 L632.6,109.4 L633.8,110.4 L635.0,111.3 L636.2,112.2 L637.5,113.1 L638.7,114.0 L639.9,115.0 L641.1,115.6 L642.3,116.2 L643.5,117.0 L644.7,118.1 L646.0,119.7 L647.2,121.1 L648.4,122.4 L649.6,123.5 L650.8,124.6 L652.0,125.6 L653.3,126.5 L654.5,127.1 L655.7,127.1 L656.9,126.5 L658.1,125.4 L659.3,124.2 L660.6,123.1 L661.8,121.9 L663.0,120.8 L664.2,119.4 L665.4,117.8 L666.6,115.9 L667.9,113.8 L669.1,111.6 L670.3,109.0 L671.5,106.1 L672.7,103.4 L673.9,100.7 L675.2,98.3 L676.4,96.3 L677.6,94.1 L678.8,91.4 L680.0,89.2 L681.2,87.4 L682.5,85.4 L683.7,83.4 L684.9,81.5 L686.1,80.1 L687.3,79.2 L688.5,78.7 L689.8,78.2 L691.0,77.7 L692.2,77.3 L693.4,76.7 L694.6,76.7 L695.8,76.9 L697.1,77.5 L698.3,78.4 L699.5,80.9 L700.7,85.1 L701.9,88.6 L703.1,91.3 L704.4,94.1 L705.6,96.4 L706.8,98.2 L708.0,99.3 L709.2,100.2 L710.4,101.2 L711.7,102.3 L712.9,103.5 L714.1,104.9 L715.3,106.4 L716.5,107.7 L717.7,109.0 L719.0,110.6 L720.2,112.5 L721.4,114.6 L722.6,117.1 L723.8,120.6 L725.0,123.5 L726.3,125.7 L727.5,127.6 L728.7,129.6 L729.9,131.5 L731.1,133.0 L732.3,134.0 L733.6,134.5 L734.8,134.6 L736.0,134.4 L737.2,133.8 L738.4,133.0 L739.6,132.6 L740.9,133.5 L742.1,134.7 L743.3,136.1 L744.5,136.9 L745.7,137.3 L746.9,137.3 L748.2,137.1 L749.4,136.6 L750.6,135.9 L751.8,135.3 L753.0,134.6 L754.2,134.0 L755.5,133.2 L756.7,132.1 L757.9,131.0 L759.1,129.4 L760.3,127.9 L761.5,126.4 L762.8,125.4 L764.0,124.3 L765.2,123.3 L766.4,123.0 L767.6,123.3 L768.8,123.9 L770.0,124.9 L771.3,126.1 L772.5,127.9 L773.7,129.9 L774.9,131.2 L776.1,131.9 L777.3,132.5 L778.6,133.1 L779.8,133.6 L781.0,134.0 L782.2,134.3 L783.4,134.8 L784.6,135.6 L785.9,136.7 L787.1,138.3 L788.3,140.4 L789.5,142.6 L790.7,145.8 L791.9,149.1 L793.2,151.6 L794.4,153.3 L795.6,154.5 L796.8,155.7 L798.0,157.4 L799.2,159.4 L800.5,161.4 L801.7,163.3 L802.9,164.0 L804.1,164.8 L805.3,165.5 L806.5,166.2 L807.8,166.5 L809.0,166.4 L810.2,165.9 L811.4,165.0 L812.6,164.2 L813.8,163.7 L815.1,163.8 L816.3,164.2 L817.5,164.8 L818.7,165.7 L819.9,166.6 L821.1,167.5 L822.4,168.3 L823.6,169.8 L824.8,171.9 L826.0,174.3 L827.2,177.1 L828.4,179.7 L829.7,181.6 L830.9,183.6 L832.1,185.5 L832.7,184.7 L831.5,182.9 L830.3,181.0 L829.1,179.1 L827.8,177.0 L826.6,174.4 L825.4,171.9 L824.2,169.8 L823.0,168.1 L821.8,167.0 L820.5,166.2 L819.3,165.3 L818.1,164.5 L816.9,163.7 L815.7,163.2 L814.5,162.9 L813.2,163.0 L812.0,163.7 L810.8,164.3 L809.6,164.9 L808.4,165.0 L807.2,164.8 L805.9,164.2 L804.7,163.5 L803.5,162.6 L802.3,162.0 L801.1,160.8 L799.9,158.7 L798.6,156.8 L797.4,155.0 L796.2,153.6 L795.0,152.5 L793.8,151.1 L792.6,149.2 L791.3,146.4 L790.1,143.2 L788.9,140.8 L787.7,138.7 L786.5,137.0 L785.3,135.8 L784.0,134.9 L782.8,134.2 L781.6,133.9 L780.4,133.6 L779.2,133.1 L778.0,132.5 L776.7,131.9 L775.5,131.4 L774.3,130.4 L773.1,128.9 L771.9,127.1 L770.7,125.7 L769.4,124.7 L768.2,124.1 L767.0,123.6 L765.8,123.5 L764.6,124.3 L763.4,125.2 L762.1,126.2 L760.9,127.3 L759.7,128.7 L758.5,130.1 L757.3,131.4 L756.1,132.4 L754.8,133.2 L753.6,133.7 L752.4,134.2 L751.2,134.8 L750.0,135.4 L748.8,135.9 L747.5,136.2 L746.3,136.2 L745.1,135.9 L743.9,135.3 L742.7,134.2 L741.5,132.9 L740.2,131.9 L739.0,131.3 L737.8,132.1 L736.6,132.6 L735.4,132.9 L734.2,132.8 L732.9,132.4 L731.7,131.6 L730.5,130.3 L729.3,128.6 L728.1,126.6 L726.9,124.7 L725.6,122.8 L724.4,120.4 L723.2,117.1 L722.0,114.3 L720.8,112.2 L719.6,110.4 L718.3,108.6 L717.1,107.2 L715.9,105.9 L714.7,104.6 L713.5,103.2 L712.3,102.0 L711.0,100.9 L709.8,99.9 L708.6,99.0 L707.4,98.1 L706.2,96.8 L705.0,94.8 L703.8,92.4 L702.5,89.9 L701.3,87.2 L700.1,83.8 L698.9,80.3 L697.7,79.1 L696.5,78.6 L695.2,78.3 L694.0,78.3 L692.8,78.6 L691.6,79.3 L690.4,79.8 L689.2,80.4 L687.9,81.0 L686.7,81.7 L685.5,82.8 L684.3,84.5 L683.1,86.4 L681.9,88.3 L680.6,90.1 L679.4,92.1 L678.2,94.4 L677.0,96.8 L675.8,98.8 L674.6,100.8 L673.3,103.2 L672.1,105.8 L670.9,108.4 L669.7,111.0 L668.5,113.2 L667.3,115.2 L666.0,117.1 L664.8,118.6 L663.6,120.0 L662.4,121.2 L661.2,122.2 L660.0,123.2 L658.7,124.2 L657.5,125.3 L656.3,126.1 L655.1,126.3 L653.9,125.9 L652.7,125.1 L651.4,124.3 L650.2,123.2 L649.0,122.2 L647.8,121.1 L646.6,119.8 L645.4,118.4 L644.1,117.1 L642.9,116.2 L641.7,115.6 L640.5,115.1 L639.3,114.4 L638.1,113.4 L636.8,112.6 L635.6,111.8 L634.4,111.0 L633.2,110.1 L632.0,109.3 L630.8,108.8 L629.5,108.7 L628.3,108.5 L627.1,108.4 L625.9,108.1 L624.7,107.9 L623.5,107.7 L622.2,107.4 L621.0,107.5 L619.8,108.0 L618.6,108.6 L617.4,109.5 L616.2,110.3 L614.9,111.2 L613.7,111.9 L612.5,112.6 L611.3,113.3 L610.1,113.8 L608.9,114.3 L607.6,114.8 L606.4,115.4 L605.2,115.9 L604.0,116.5 L602.8,117.2 L601.6,118.1 L600.3,118.8 L599.1,119.4 L597.9,120.3 L596.7,121.5 L595.5,122.7 L594.3,123.8 L593.0,125.1 L591.8,126.2 L590.6,127.3 L589.4,128.2 L588.2,129.0 L587.0,129.5 L585.7,129.7 L584.5,129.8 L583.3,130.2 L582.1,130.9 L580.9,131.4 L579.7,131.7 L578.4,131.8 L577.2,131.8 L576.0,131.8 L574.8,131.6 L573.6,131.4 L572.4,131.3 L571.2,131.5 L569.9,132.3 L568.7,132.9 L567.5,132.8 L566.3,132.6 L565.1,132.6 L563.9,133.0 L562.6,133.6 L561.4,134.1 L560.2,134.2 L559.0,134.2 L557.8,134.2 L556.6,134.0 L555.3,133.3 L554.1,132.1 L552.9,130.9 L551.7,130.0 L550.5,129.1 L549.3,128.0 L548.0,126.8 L546.8,125.4 L545.6,124.0 L544.4,122.8 L543.2,121.9 L542.0,121.2 L540.7,120.7 L539.5,120.6 L538.3,120.4 L537.1,119.8 L535.9,119.1 L534.7,118.2 L533.4,117.0 L532.2,115.3 L531.0,113.7 L529.8,112.2 L528.6,110.9 L527.4,110.2 L526.1,109.9 L524.9,109.6 L523.7,109.5 L522.5,109.4 L521.3,109.4 L520.1,110.0 L518.8,109.8 L517.6,108.5 L516.4,107.3 L515.2,106.2 L514.0,105.1 L512.8,104.2 L511.5,103.0 L510.3,101.5 L509.1,100.0 L507.9,98.7 L506.7,97.6 L505.5,96.5 L504.2,95.4 L503.0,94.6 L501.8,94.3 L500.6,94.1 L499.4,93.9 L498.2,93.6 L496.9,93.1 L495.7,92.6 L494.5,92.0 L493.3,91.4 L492.1,90.7 L490.9,90.1 L489.6,90.3 L488.4,91.3 L487.2,93.1 L486.0,94.6 L484.8,95.6 L483.6,96.3 L482.3,96.9 L481.1,97.3 L479.9,97.7 L478.7,98.8 L477.5,100.5 L476.3,102.3 L475.0,103.6 L473.8,104.7 L472.6,105.5 L471.4,106.3 L470.2,106.9 L469.0,107.4 L467.7,108.1 L466.5,108.9 L465.3,109.7 L464.1,110.2 L462.9,110.4 L461.7,110.5 L460.4,110.6 L459.2,110.5 L458.0,110.0 L456.8,109.4 L455.6,108.7 L454.4,108.2 L453.1,107.8 L451.9,107.6 L450.7,107.2 L449.5,106.7 L448.3,105.8 L447.1,104.5 L445.9,102.9 L444.6,101.5 L443.4,100.4 L442.2,99.2 L441.0,98.2 L439.8,97.4 L438.6,97.4 L437.3,97.4 L436.1,96.9 L434.9,96.8 L433.7,96.6 L432.5,96.2 L431.3,95.8 L430.0,95.5 L428.8,95.5 L427.6,95.6 L426.4,95.9 L425.2,96.3 L424.0,96.8 L422.7,97.1 L421.5,97.3 L420.3,97.4 L419.1,97.4 L417.9,97.0 L416.7,96.3 L415.4,95.6 L414.2,95.4 L413.0,95.8 L411.8,96.0 L410.6,96.1 L409.4,96.3 L408.1,96.7 L406.9,97.5 L405.7,98.1 L404.5,98.2 L403.3,98.0 L402.1,97.9 L400.8,98.5 L399.6,99.0 L398.4,99.4 L397.2,99.6 L396.0,99.9 L394.8,100.1 L393.5,100.4 L392.3,100.7 L391.1,101.3 L389.9,102.3 L388.7,103.4 L387.5,104.4 L386.2,105.1 L385.0,106.0 L383.8,107.0 L382.6,107.8 L381.4,108.4 L380.2,109.2 L378.9,110.4 L377.7,112.2 L376.5,114.5 L375.3,117.5 L374.1,120.1 L372.9,122.3 L371.6,124.2 L370.4,125.8 L369.2,127.6 L368.0,129.6 L366.8,131.9 L365.6,134.8 L364.3,137.8 L363.1,140.2 L361.9,141.8 L360.7,143.0 L359.5,144.0 L358.3,145.0 L357.0,145.6 L355.8,145.9 L354.6,145.9 L353.4,145.8 L352.2,145.9 L351.0,146.0 L349.7,146.3 L348.5,146.9 L347.3,147.2 L346.1,147.5 L344.9,147.6 L343.7,147.6 L342.4,147.6 L341.2,147.8 L340.0,148.0 L338.8,148.5 L337.6,149.3 L336.4,150.3 L335.1,151.4 L333.9,152.4 L332.7,153.2 L331.5,153.5 L330.3,153.4 L329.1,153.0 L327.8,152.8 L326.6,152.8 L325.4,152.9 L324.2,153.3 L323.0,153.8 L321.8,154.3 L320.5,154.8 L319.3,155.2 L318.1,155.7 L316.9,156.3 L315.7,156.9 L314.5,157.6 L313.3,158.4 L312.0,159.0 L310.8,160.0 L309.6,161.0 L308.4,162.0 L307.2,163.2 L306.0,164.4 L304.7,165.4 L303.5,166.2 L302.3,167.0 L301.1,167.7 L299.9,168.0 L298.7,167.2 L297.4,165.5 L296.2,163.7 L295.0,162.4 L293.8,161.5 L292.6,160.6 L291.4,159.8 L290.1,159.3 L288.9,159.2 L287.7,159.4 L286.5,159.4 L285.3,159.1 L284.1,158.7 L282.8,158.0 L281.6,157.3 L280.4,156.7 L279.2,155.7 L278.0,155.0 L276.8,154.9 L275.5,155.5 L274.3,156.1 L273.1,156.4 L271.9,156.4 L270.7,156.0 L269.5,155.5 L268.2,154.9 L267.0,154.3 L265.8,153.7 L264.6,153.2 L263.4,152.9 L262.2,151.9 L260.9,150.7 L259.7,150.1 L258.5,150.1 L257.3,150.7 L256.1,151.8 L254.9,153.1 L253.6,154.2 L252.4,155.2 L251.2,156.5 L250.0,158.1 L248.8,159.3 L247.6,160.1 L246.3,160.5 L245.1,160.9 L243.9,161.3 L242.7,161.5 L241.5,161.6 L240.3,161.8 L239.0,161.9 L237.8,161.9 L236.6,161.5 L235.4,160.5 L234.2,159.0 L233.0,158.3 L231.7,157.9 L230.5,157.4 L229.3,157.1 L228.1,157.1 L226.9,157.2 L225.7,157.3 L224.4,157.2 L223.2,156.7 L222.0,156.1 L220.8,155.7 L219.6,155.1 L218.4,154.4 L217.1,153.7 L215.9,152.9 L214.7,151.7 L213.5,150.3 L212.3,148.8 L211.1,147.7 L209.8,146.7 L208.6,146.3 L207.4,146.2 L206.2,145.7 L205.0,145.7 L203.8,145.9 L202.5,146.3 L201.3,147.0 L200.1,147.8 L198.9,148.5 L197.7,149.4 L196.5,150.3 L195.2,151.0 L194.0,151.2 L192.8,151.2 L191.6,151.2 L190.4,151.8 L189.2,152.3 L188.0,152.9 L186.7,153.3 L185.5,154.2 L184.3,155.7 L183.1,157.7 L181.9,159.8 L180.7,161.7 L179.4,163.3 L178.2,164.7 L177.0,165.7 L175.8,166.6 L174.6,167.6 L173.4,168.4 L172.1,168.7 L170.9,168.8 L169.7,169.7 L168.5,171.2 L167.3,172.3 L166.1,172.9 L164.8,173.3 L163.6,173.7 L162.4,174.1 L161.2,174.5 L160.0,175.0 L158.8,175.8 L157.5,176.5 L156.3,177.3 L155.1,178.2 L153.9,178.9 L152.7,179.9 L151.5,181.1 L150.2,182.4 L149.0,183.5 L147.8,184.3 L146.6,185.2 L145.4,186.8 L144.2,188.8 L142.9,190.4 L141.7,191.9 L140.5,193.8 L139.3,195.9 L138.1,198.1 L136.9,200.3 L135.6,202.6 L134.4,204.9 L133.2,207.5 L132.0,209.9 L130.8,211.2 L129.6,212.0 L128.3,212.7 L127.1,213.5 L125.9,214.1 L124.7,214.2 L123.5,214.1 L122.3,213.8 L121.0,213.5 L119.8,213.1 L118.6,213.0 L117.4,213.1 L116.2,213.4 L115.0,213.7 L113.7,214.2 L112.5,214.9 L111.3,215.7 L110.1,216.6 L108.9,217.7 L107.7,219.0 L106.4,220.1 L105.2,221.5 L104.0,222.6 L102.8,223.7 L101.6,224.5 L100.4,225.3 L99.1,226.2 L97.9,227.2 L96.7,228.4 L95.5,229.3 L94.3,230.3 L93.1,231.0 L91.8,232.1 L90.6,233.3 L89.4,234.7 L88.2,236.2 L87.0,237.7 L85.8,239.4 L84.5,241.3 L83.3,243.4 L82.1,245.3 L80.9,247.1 L79.7,248.6 L78.5,250.0 L77.2,251.9 L76.0,254.2 L74.8,256.7 L73.6,259.0 L72.4,260.9 L71.2,262.6 L69.9,263.9 L68.7,265.1 L67.5,266.1 L66.3,267.0 L65.1,267.7 L63.9,268.1 L62.7,268.5 L61.4,268.8 L60.2,269.1 L59.0,269.2 L57.8,269.3 L56.6,269.7 L55.4,270.1 L54.1,270.4 L52.9,270.6 L51.7,270.8 L50.5,271.3 L49.3,271.8 L48.1,272.6 L46.8,273.7 L45.6,274.6 L44.4,275.3 L43.2,276.0 L42.0,276.7 L40.8,277.8 L39.5,279.0 L38.3,280.3 L37.1,281.8 L35.9,283.2 L34.7,284.3 L33.5,285.3 L32.2,285.9 L31.0,286.0 L29.8,285.6 L28.6,285.3 L27.4,285.6 L26.2,286.4 L24.9,285.8 L23.7,284.0 L22.5,282.1 L21.3,280.7 L20.1,279.6 L18.9,278.4 L17.6,276.3 L16.4,273.5 L15.2,271.5 L14.0,270.3 L12.8,269.7 L11.6,269.3 L10.3,268.7 L9.1,268.2 L7.9,267.9 L6.7,267.6 L5.5,267.2 L4.3,266.7 L3.0,266.3 L1.8,266.1 L0.6,266.7 Z" fill="#8e1e18" stroke="#8e1e18" stroke-width="0.6"/>
<path d="M0.0,266.9 L1.2,264.3 L2.4,264.5 L3.6,265.4 L4.9,266.5 L6.1,267.6 L7.3,268.2 L8.5,268.6 L9.7,269.3 L10.9,270.8 L12.2,271.5 L13.4,272.0 L14.6,274.0 L15.8,277.6 L17.0,283.1 L18.2,288.1 L19.5,290.4 L20.7,291.3 L21.9,292.4 L23.1,295.0 L24.3,298.2 L25.5,299.2 L26.8,296.6 L28.0,292.7 L29.2,291.7 L30.4,292.0 L31.6,291.2 L32.8,289.4 L34.1,286.6 L35.3,283.6 L36.5,280.6 L37.7,276.9 L38.9,274.1 L40.1,271.6 L41.4,269.9 L42.6,268.9 L43.8,268.3 L45.0,267.8 L46.2,266.9 L47.4,265.7 L48.7,264.3 L49.9,264.1 L51.1,264.0 L52.3,264.4 L53.5,265.0 L54.7,265.4 L56.0,265.5 L57.2,265.2 L58.4,265.5 L59.6,265.9 L60.8,265.9 L62.0,265.8 L63.3,265.3 L64.5,264.9 L65.7,264.0 L66.9,262.2 L68.1,260.4 L69.3,258.3 L70.6,256.1 L71.8,253.1 L73.0,250.0 L74.2,246.0 L75.4,241.6 L76.6,237.6 L77.9,234.6 L79.1,233.1 L80.3,232.2 L81.5,230.6 L82.7,228.4 L83.9,225.9 L85.2,223.6 L86.4,221.9 L87.6,220.8 L88.8,220.1 L90.0,219.3 L91.2,218.7 L92.5,218.2 L93.7,218.6 L94.9,218.9 L96.1,218.7 L97.3,218.0 L98.5,217.3 L99.8,216.6 L101.0,216.3 L102.2,216.0 L103.4,215.2 L104.6,214.0 L105.8,212.3 L107.1,210.7 L108.3,209.2 L109.5,207.8 L110.7,206.8 L111.9,206.5 L113.1,206.0 L114.4,206.1 L115.6,206.7 L116.8,207.1 L118.0,207.5 L119.2,208.6 L120.4,210.1 L121.7,211.5 L122.9,212.8 L124.1,213.6 L125.3,213.7 L126.5,212.8 L127.7,211.0 L128.9,209.5 L130.2,208.1 L131.4,205.9 L132.6,202.2 L133.8,196.4 L135.0,191.9 L136.2,188.0 L137.5,184.7 L138.7,181.5 L139.9,178.8 L141.1,176.6 L142.3,175.2 L143.5,174.3 L144.8,172.4 L146.0,170.5 L147.2,170.1 L148.4,171.0 L149.6,171.0 L150.8,170.3 L152.1,169.1 L153.3,168.5 L154.5,168.5 L155.7,168.8 L156.9,168.5 L158.1,168.4 L159.4,168.1 L160.6,168.2 L161.8,168.4 L163.0,168.7 L164.2,168.9 L165.4,169.1 L166.7,168.7 L167.9,167.4 L169.1,164.9 L170.3,162.6 L171.5,162.8 L172.7,163.6 L174.0,162.9 L175.2,161.1 L176.4,159.6 L177.6,158.1 L178.8,156.1 L180.0,153.5 L181.3,150.2 L182.5,146.4 L183.7,143.0 L184.9,140.8 L186.1,139.7 L187.3,140.8 L188.6,141.5 L189.8,141.8 L191.0,142.0 L192.2,142.9 L193.4,144.3 L194.6,145.3 L195.9,145.1 L197.1,143.7 L198.3,142.3 L199.5,141.4 L200.7,140.4 L201.9,139.7 L203.2,139.4 L204.4,139.7 L205.6,140.4 L206.8,142.1 L208.0,143.4 L209.2,144.3 L210.5,146.6 L211.7,149.6 L212.9,152.6 L214.1,155.9 L215.3,158.4 L216.5,160.0 L217.8,160.9 L219.0,161.5 L220.2,162.0 L221.4,162.0 L222.6,162.3 L223.8,163.2 L225.1,163.0 L226.3,161.9 L227.5,161.0 L228.7,160.1 L229.9,160.2 L231.1,161.0 L232.4,161.8 L233.6,162.5 L234.8,164.8 L236.0,167.7 L237.2,168.4 L238.4,167.8 L239.7,166.7 L240.9,165.7 L242.1,164.8 L243.3,163.9 L244.5,162.7 L245.7,161.6 L247.0,160.4 L248.2,159.0 L249.4,156.4 L250.6,153.2 L251.8,150.0 L253.0,148.2 L254.3,146.8 L255.5,144.7 L256.7,142.9 L257.9,142.2 L259.1,142.7 L260.3,144.7 L261.5,148.0 L262.8,151.9 L264.0,153.4 L265.2,154.3 L266.4,155.6 L267.6,156.7 L268.8,157.9 L270.1,158.7 L271.3,159.1 L272.5,159.2 L273.7,158.0 L274.9,156.4 L276.1,154.3 L277.4,153.9 L278.6,154.7 L279.8,157.2 L281.0,158.9 L282.2,160.1 L283.4,161.6 L284.7,162.4 L285.9,162.6 L287.1,162.3 L288.3,161.5 L289.5,161.1 L290.7,161.6 L292.0,163.0 L293.2,164.8 L294.4,166.6 L295.6,168.7 L296.8,171.7 L298.0,175.5 L299.3,177.4 L300.5,176.2 L301.7,173.3 L302.9,170.4 L304.1,168.0 L305.3,165.3 L306.6,162.4 L307.8,159.5 L309.0,157.3 L310.2,155.7 L311.4,154.0 L312.6,153.0 L313.9,152.3 L315.1,151.4 L316.3,150.6 L317.5,150.3 L318.7,149.8 L319.9,149.7 L321.2,149.3 L322.4,148.9 L323.6,148.5 L324.8,148.1 L326.0,148.3 L327.2,148.8 L328.5,149.7 L329.7,151.1 L330.9,152.0 L332.1,152.0 L333.3,150.8 L334.5,148.7 L335.8,146.5 L337.0,144.3 L338.2,143.2 L339.4,142.3 L340.6,142.8 L341.8,143.4 L343.1,143.9 L344.3,144.7 L345.5,145.3 L346.7,145.3 L347.9,145.0 L349.1,144.3 L350.4,143.6 L351.6,143.7 L352.8,143.9 L354.0,144.5 L355.2,144.9 L356.4,144.5 L357.7,143.8 L358.9,142.0 L360.1,139.7 L361.3,137.8 L362.5,134.8 L363.7,130.9 L365.0,124.9 L366.2,119.1 L367.4,114.8 L368.6,111.9 L369.8,109.9 L371.0,108.4 L372.3,106.5 L373.5,104.2 L374.7,101.0 L375.9,96.4 L377.1,92.8 L378.3,91.1 L379.6,90.7 L380.8,91.4 L382.0,92.6 L383.2,93.7 L384.4,93.8 L385.6,93.4 L386.8,93.4 L388.1,93.3 L389.3,92.3 L390.5,91.3 L391.7,91.1 L392.9,91.9 L394.1,92.7 L395.4,93.3 L396.6,94.0 L397.8,94.5 L399.0,94.5 L400.2,94.4 L401.4,93.4 L402.7,93.7 L403.9,95.2 L405.1,95.9 L406.3,95.6 L407.5,94.0 L408.7,93.1 L410.0,93.1 L411.2,93.4 L412.4,93.6 L413.6,93.3 L414.8,93.3 L416.0,95.2 L417.3,97.4 L418.5,98.8 L419.7,99.0 L420.9,98.8 L422.1,98.2 L423.3,97.3 L424.6,96.2 L425.8,95.0 L427.0,94.4 L428.2,94.0 L429.4,94.0 L430.6,94.7 L431.9,95.7 L433.1,96.8 L434.3,97.5 L435.5,97.6 L436.7,98.0 L437.9,98.8 L439.2,98.1 L440.4,99.1 L441.6,101.2 L442.8,103.8 L444.0,106.1 L445.2,108.4 L446.5,111.2 L447.7,113.9 L448.9,115.3 L450.1,115.7 L451.3,115.5 L452.5,115.0 L453.8,114.5 L455.0,114.9 L456.2,115.5 L457.4,116.4 L458.6,116.9 L459.8,116.9 L461.1,115.8 L462.3,114.8 L463.5,113.9 L464.7,112.5 L465.9,110.6 L467.1,108.3 L468.4,106.4 L469.6,105.3 L470.8,104.1 L472.0,102.9 L473.2,101.4 L474.4,99.6 L475.7,97.1 L476.9,94.1 L478.1,90.6 L479.3,88.3 L480.5,88.0 L481.7,88.8 L483.0,88.7 L484.2,88.4 L485.4,87.3 L486.6,85.4 L487.8,82.2 L489.0,79.9 L490.3,80.2 L491.5,82.3 L492.7,85.5 L493.9,87.9 L495.1,89.8 L496.3,91.4 L497.6,92.8 L498.8,93.8 L500.0,94.4 L501.2,94.5 L502.4,94.7 L503.6,95.9 L504.9,98.2 L506.1,100.7 L507.3,102.9 L508.5,105.0 L509.7,107.4 L510.9,110.5 L512.2,112.5 L513.4,113.5 L514.6,114.7 L515.8,115.6 L517.0,117.1 L518.2,118.9 L519.4,119.5 L520.7,116.6 L521.9,114.6 L523.1,114.0 L524.3,113.5 L525.5,113.1 L526.7,113.4 L528.0,114.1 L529.2,116.2 L530.4,119.1 L531.6,122.1 L532.8,125.3 L534.0,127.7 L535.3,128.5 L536.5,129.0 L537.7,129.1 L538.9,128.7 L540.1,127.6 L541.3,127.4 L542.6,127.8 L543.8,129.1 L545.0,130.9 L546.2,132.8 L547.4,135.5 L548.6,137.2 L549.9,138.5 L551.1,139.4 L552.3,139.9 L553.5,141.0 L554.7,142.4 L555.9,143.4 L557.2,142.7 L558.4,141.3 L559.6,140.0 L560.8,138.9 L562.0,137.1 L563.2,135.0 L564.5,133.2 L565.7,132.6 L566.9,132.9 L568.1,133.5 L569.3,132.9 L570.5,130.8 L571.8,129.8 L573.0,130.1 L574.2,130.9 L575.4,131.8 L576.6,132.2 L577.8,132.5 L579.1,132.3 L580.3,132.0 L581.5,131.1 L582.7,129.8 L583.9,128.4 L585.1,128.1 L586.4,128.4 L587.6,127.8 L588.8,126.3 L590.0,124.7 L591.2,122.7 L592.4,120.5 L593.7,118.3 L594.9,116.2 L596.1,114.5 L597.3,112.6 L598.5,111.2 L599.7,110.9 L601.0,110.8 L602.2,109.8 L603.4,109.0 L604.6,108.7 L605.8,108.7 L607.0,108.5 L608.3,108.2 L609.5,107.9 L610.7,107.6 L611.9,107.3 L613.1,106.5 L614.3,105.4 L615.6,104.4 L616.8,103.2 L618.0,102.2 L619.2,101.3 L620.4,101.0 L621.6,101.4 L622.9,102.5 L624.1,104.0 L625.3,105.0 L626.5,106.1 L627.7,107.0 L628.9,107.6 L630.2,108.1 L631.4,108.6 L632.6,110.5 L633.8,112.5 L635.0,114.4 L636.2,115.9 L637.5,117.2 L638.7,118.7 L639.9,120.4 L641.1,120.9 L642.3,121.3 L643.5,122.4 L644.7,124.2 L646.0,127.1 L647.2,129.2 L648.4,131.1 L649.6,132.3 L650.8,133.5 L652.0,134.3 L653.3,135.0 L654.5,135.1 L655.7,134.0 L656.9,131.5 L658.1,128.2 L659.3,124.9 L660.6,122.4 L661.8,120.0 L663.0,117.9 L664.2,115.3 L665.4,112.4 L666.6,109.2 L667.9,105.5 L669.1,102.0 L670.3,97.6 L671.5,92.9 L672.7,88.9 L673.9,85.0 L675.2,82.2 L676.4,80.2 L677.6,77.5 L678.8,74.0 L680.0,71.6 L681.2,70.2 L682.5,68.3 L683.7,66.3 L684.9,64.5 L686.1,63.8 L687.3,64.3 L688.5,65.4 L689.8,66.3 L691.0,67.1 L692.2,67.6 L693.4,67.9 L694.6,69.1 L695.8,70.9 L697.1,73.3 L698.3,75.9 L699.5,82.3 L700.7,91.9 L701.9,98.7 L703.1,103.3 L704.4,107.6 L705.6,110.7 L706.8,112.3 L708.0,112.3 L709.2,112.2 L710.4,112.5 L711.7,113.1 L712.9,113.9 L714.1,115.6 L715.3,117.1 L716.5,118.3 L717.7,119.6 L719.0,121.7 L720.2,124.2 L721.4,127.3 L722.6,130.9 L723.8,136.7 L725.0,140.8 L726.3,142.8 L727.5,144.4 L728.7,146.0 L729.9,147.4 L731.1,148.2 L732.3,147.7 L733.6,146.3 L734.8,144.3 L736.0,142.1 L737.2,139.3 L738.4,136.4 L739.6,134.9 L740.9,136.8 L742.1,139.2 L743.3,141.7 L744.5,142.8 L745.7,142.8 L746.9,142.2 L748.2,141.1 L749.4,139.4 L750.6,137.4 L751.8,135.9 L753.0,134.3 L754.2,133.2 L755.5,131.5 L756.7,129.3 L757.9,127.0 L759.1,124.0 L760.3,121.1 L761.5,118.8 L762.8,117.5 L764.0,116.2 L765.2,114.9 L766.4,115.5 L767.6,117.4 L768.8,119.6 L770.0,122.4 L771.3,125.3 L772.5,129.5 L773.7,133.7 L774.9,135.7 L776.1,136.4 L777.3,136.6 L778.6,137.0 L779.8,137.3 L781.0,137.3 L782.2,137.2 L783.4,137.7 L784.6,138.9 L785.9,140.7 L787.1,143.7 L788.3,147.7 L789.5,151.7 L790.7,157.7 L791.9,163.5 L793.2,167.0 L794.4,168.4 L795.6,168.6 L796.8,169.2 L798.0,170.9 L799.2,173.5 L800.5,176.0 L801.7,177.8 L802.9,177.1 L804.1,176.7 L805.3,176.4 L806.5,176.0 L807.8,175.0 L809.0,173.2 L810.2,170.8 L811.4,167.9 L812.6,165.4 L813.8,164.0 L815.1,164.2 L816.3,165.1 L817.5,166.3 L818.7,168.1 L819.9,169.9 L821.1,171.6 L822.4,172.9 L823.6,175.6 L824.8,179.6 L826.0,184.1 L827.2,189.1 L828.4,193.1 L829.7,195.4 L830.9,197.6 L832.1,199.8" stroke="#f7eab0" stroke-width="0.8" fill="none"/>
<path d="M0.0,267.0 L1.2,264.9 L2.4,265.0 L3.6,265.6 L4.9,266.5 L6.1,267.5 L7.3,268.0 L8.5,268.4 L9.7,269.0 L10.9,270.2 L12.2,271.0 L13.4,271.4 L14.6,273.2 L15.8,276.2 L17.0,280.9 L18.2,285.3 L19.5,287.6 L20.7,288.7 L21.9,290.0 L23.1,292.4 L24.3,295.4 L25.5,296.6 L26.8,294.9 L28.0,291.9 L29.2,291.2 L30.4,291.5 L31.6,290.9 L32.8,289.5 L34.1,287.2 L35.3,284.7 L36.5,282.0 L37.7,278.8 L38.9,276.2 L40.1,273.9 L41.4,272.2 L42.6,271.1 L43.8,270.2 L45.0,269.6 L46.2,268.6 L47.4,267.4 L48.7,266.0 L49.9,265.5 L51.1,265.3 L52.3,265.4 L53.5,265.8 L54.7,266.0 L56.0,265.9 L57.2,265.7 L58.4,265.8 L59.6,266.1 L60.8,266.0 L62.0,266.0 L63.3,265.6 L64.5,265.2 L65.7,264.4 L66.9,262.9 L68.1,261.3 L69.3,259.6 L70.6,257.5 L71.8,254.9 L73.0,252.2 L74.2,248.6 L75.4,244.7 L76.6,241.0 L77.9,238.1 L79.1,236.4 L80.3,235.2 L81.5,233.5 L82.7,231.3 L83.9,228.8 L85.2,226.5 L86.4,224.7 L87.6,223.4 L88.8,222.4 L90.0,221.4 L91.2,220.6 L92.5,219.9 L93.7,219.9 L94.9,220.0 L96.1,219.6 L97.3,218.9 L98.5,218.2 L99.8,217.5 L101.0,217.1 L102.2,216.7 L103.4,215.9 L104.6,214.8 L105.8,213.3 L107.1,211.8 L108.3,210.4 L109.5,209.1 L110.7,208.1 L111.9,207.7 L113.1,207.0 L114.4,207.0 L115.6,207.3 L116.8,207.6 L118.0,207.8 L119.2,208.7 L120.4,209.9 L121.7,211.0 L122.9,212.2 L124.1,212.9 L125.3,213.1 L126.5,212.5 L127.7,211.1 L128.9,209.8 L130.2,208.7 L131.4,206.8 L132.6,203.7 L133.8,198.7 L135.0,194.7 L136.2,191.1 L137.5,188.0 L138.7,184.9 L139.9,182.2 L141.1,179.9 L142.3,178.2 L143.5,177.1 L144.8,175.1 L146.0,173.2 L147.2,172.4 L148.4,172.8 L149.6,172.5 L150.8,171.7 L152.1,170.4 L153.3,169.8 L154.5,169.6 L155.7,169.6 L156.9,169.2 L158.1,169.0 L159.4,168.6 L160.6,168.5 L161.8,168.6 L163.0,168.8 L164.2,168.9 L165.4,169.1 L166.7,168.7 L167.9,167.6 L169.1,165.6 L170.3,163.6 L171.5,163.6 L172.7,164.1 L174.0,163.5 L175.2,162.0 L176.4,160.6 L177.6,159.3 L178.8,157.5 L180.0,155.2 L181.3,152.3 L182.5,148.9 L183.7,145.9 L184.9,143.7 L186.1,142.3 L187.3,142.9 L188.6,143.1 L189.8,143.2 L191.0,143.2 L192.2,143.8 L193.4,144.7 L194.6,145.6 L195.9,145.3 L197.1,144.2 L198.3,143.0 L199.5,142.2 L200.7,141.3 L201.9,140.6 L203.2,140.2 L204.4,140.4 L205.6,140.8 L206.8,142.1 L208.0,143.2 L209.2,144.0 L210.5,145.9 L211.7,148.4 L212.9,151.1 L214.1,154.0 L215.3,156.3 L216.5,157.9 L217.8,159.0 L219.0,159.7 L220.2,160.4 L221.4,160.6 L222.6,161.0 L223.8,161.9 L225.1,161.9 L226.3,161.2 L227.5,160.5 L228.7,159.9 L229.9,160.0 L231.1,160.6 L232.4,161.3 L233.6,161.9 L234.8,163.9 L236.0,166.3 L237.2,167.1 L238.4,166.8 L239.7,166.0 L240.9,165.3 L242.1,164.6 L243.3,163.8 L244.5,162.9 L245.7,161.9 L247.0,160.9 L248.2,159.7 L249.4,157.5 L250.6,154.7 L251.8,151.9 L253.0,150.1 L254.3,148.7 L255.5,146.8 L256.7,144.9 L257.9,144.0 L259.1,144.2 L260.3,145.6 L261.5,148.2 L262.8,151.3 L264.0,152.7 L265.2,153.5 L266.4,154.7 L267.6,155.7 L268.8,156.9 L270.1,157.7 L271.3,158.2 L272.5,158.4 L273.7,157.6 L274.9,156.3 L276.1,154.6 L277.4,154.3 L278.6,154.9 L279.8,156.9 L281.0,158.4 L282.2,159.5 L283.4,160.8 L284.7,161.5 L285.9,161.8 L287.1,161.7 L288.3,161.2 L289.5,160.8 L290.7,161.3 L292.0,162.5 L293.2,164.0 L294.4,165.6 L295.6,167.4 L296.8,170.0 L298.0,173.3 L299.3,175.2 L300.5,174.6 L301.7,172.5 L302.9,170.2 L304.1,168.2 L305.3,166.0 L306.6,163.5 L307.8,161.0 L309.0,159.0 L310.2,157.4 L311.4,155.8 L312.6,154.7 L313.9,153.9 L315.1,152.9 L316.3,152.0 L317.5,151.6 L318.7,151.0 L319.9,150.7 L321.2,150.3 L322.4,149.8 L323.6,149.3 L324.8,148.9 L326.0,148.9 L327.2,149.3 L328.5,150.0 L329.7,151.0 L330.9,151.8 L332.1,151.8 L333.3,150.9 L334.5,149.2 L335.8,147.4 L337.0,145.4 L338.2,144.3 L339.4,143.5 L340.6,143.7 L341.8,144.0 L343.1,144.3 L344.3,144.9 L345.5,145.3 L346.7,145.3 L347.9,145.0 L349.1,144.5 L350.4,143.8 L351.6,143.9 L352.8,144.0 L354.0,144.5 L355.2,144.8 L356.4,144.5 L357.7,143.9 L358.9,142.4 L360.1,140.5 L361.3,138.9 L362.5,136.3 L363.7,132.8 L365.0,127.7 L366.2,122.6 L367.4,118.6 L368.6,115.7 L369.8,113.5 L371.0,111.8 L372.3,109.8 L373.5,107.4 L374.7,104.4 L375.9,100.1 L377.1,96.7 L378.3,94.8 L379.6,93.9 L380.8,94.0 L382.0,94.6 L383.2,95.3 L384.4,95.1 L385.6,94.6 L386.8,94.4 L388.1,94.2 L389.3,93.3 L390.5,92.3 L391.7,92.0 L392.9,92.5 L394.1,93.0 L395.4,93.6 L396.6,94.1 L397.8,94.4 L399.0,94.5 L400.2,94.4 L401.4,93.6 L402.7,93.8 L403.9,95.0 L405.1,95.6 L406.3,95.4 L407.5,94.1 L408.7,93.4 L410.0,93.3 L411.2,93.5 L412.4,93.7 L413.6,93.4 L414.8,93.4 L416.0,94.9 L417.3,96.7 L418.5,98.0 L419.7,98.2 L420.9,98.1 L422.1,97.7 L423.3,97.1 L424.6,96.2 L425.8,95.3 L427.0,94.7 L428.2,94.3 L429.4,94.3 L430.6,94.8 L431.9,95.7 L433.1,96.5 L434.3,97.2 L435.5,97.3 L436.7,97.7 L437.9,98.4 L439.2,97.9 L440.4,98.7 L441.6,100.5 L442.8,102.7 L444.0,104.7 L445.2,106.8 L446.5,109.3 L447.7,111.8 L448.9,113.2 L450.1,113.8 L451.3,113.9 L452.5,113.7 L453.8,113.5 L455.0,113.9 L456.2,114.5 L457.4,115.4 L458.6,115.9 L459.8,116.0 L461.1,115.2 L462.3,114.5 L463.5,113.7 L464.7,112.6 L465.9,111.0 L467.1,109.1 L468.4,107.4 L469.6,106.3 L470.8,105.3 L472.0,104.1 L473.2,102.7 L474.4,101.0 L475.7,98.8 L476.9,96.1 L478.1,93.0 L479.3,90.8 L480.5,90.2 L481.7,90.5 L483.0,90.3 L484.2,89.8 L485.4,88.7 L486.6,86.9 L487.8,84.1 L489.0,82.1 L490.3,82.0 L491.5,83.5 L492.7,85.9 L493.9,87.8 L495.1,89.5 L496.3,90.8 L497.6,92.1 L498.8,93.0 L500.0,93.6 L501.2,93.8 L502.4,94.1 L503.6,95.2 L504.9,97.2 L506.1,99.4 L507.3,101.4 L508.5,103.4 L509.7,105.5 L510.9,108.3 L512.2,110.3 L513.4,111.4 L514.6,112.7 L515.8,113.7 L517.0,115.2 L518.2,117.0 L519.4,117.8 L520.7,115.6 L521.9,114.2 L523.1,113.7 L524.3,113.4 L525.5,113.1 L526.7,113.3 L528.0,113.8 L529.2,115.6 L530.4,118.0 L531.6,120.6 L532.8,123.4 L534.0,125.6 L535.3,126.6 L536.5,127.3 L537.7,127.6 L538.9,127.5 L540.1,126.7 L541.3,126.7 L542.6,127.1 L543.8,128.2 L545.0,129.8 L546.2,131.5 L547.4,133.9 L548.6,135.5 L549.9,136.8 L551.1,137.8 L552.3,138.4 L553.5,139.5 L554.7,140.9 L555.9,141.9 L557.2,141.5 L558.4,140.6 L559.6,139.6 L560.8,138.8 L562.0,137.4 L563.2,135.6 L564.5,134.1 L565.7,133.5 L566.9,133.6 L568.1,134.0 L569.3,133.4 L570.5,131.6 L571.8,130.7 L573.0,130.8 L574.2,131.3 L575.4,131.9 L576.6,132.2 L577.8,132.5 L579.1,132.3 L580.3,132.0 L581.5,131.3 L582.7,130.1 L583.9,128.9 L585.1,128.6 L586.4,128.8 L587.6,128.2 L588.8,126.9 L590.0,125.5 L591.2,123.7 L592.4,121.8 L593.7,119.8 L594.9,117.9 L596.1,116.3 L597.3,114.5 L598.5,113.0 L599.7,112.6 L601.0,112.2 L602.2,111.2 L603.4,110.3 L604.6,109.9 L605.8,109.7 L607.0,109.4 L608.3,109.1 L609.5,108.7 L610.7,108.4 L611.9,108.0 L613.1,107.2 L614.3,106.3 L615.6,105.4 L616.8,104.2 L618.0,103.3 L619.2,102.4 L620.4,102.0 L621.6,102.2 L622.9,103.0 L624.1,104.1 L625.3,105.0 L626.5,105.9 L627.7,106.7 L628.9,107.2 L630.2,107.7 L631.4,108.2 L632.6,109.8 L633.8,111.5 L635.0,113.2 L636.2,114.6 L637.5,115.9 L638.7,117.3 L639.9,118.9 L641.1,119.5 L642.3,120.0 L643.5,121.1 L644.7,122.7 L646.0,125.3 L647.2,127.2 L648.4,129.1 L649.6,130.3 L650.8,131.6 L652.0,132.5 L653.3,133.3 L654.5,133.6 L655.7,132.9 L656.9,131.0 L658.1,128.3 L659.3,125.6 L660.6,123.4 L661.8,121.3 L663.0,119.4 L664.2,117.0 L665.4,114.4 L666.6,111.5 L667.9,108.1 L669.1,104.8 L670.3,100.8 L671.5,96.5 L672.7,92.7 L673.9,89.0 L675.2,86.1 L676.4,84.0 L677.6,81.2 L678.8,77.9 L680.0,75.4 L681.2,73.7 L682.5,71.7 L683.7,69.6 L684.9,67.7 L686.1,66.7 L687.3,66.8 L688.5,67.3 L689.8,67.8 L691.0,68.3 L692.2,68.5 L693.4,68.7 L694.6,69.6 L695.8,71.0 L697.1,72.9 L698.3,75.2 L699.5,80.4 L700.7,88.6 L701.9,94.7 L703.1,99.0 L704.4,103.2 L705.6,106.3 L706.8,108.3 L708.0,108.8 L709.2,109.3 L710.4,109.9 L711.7,110.8 L712.9,111.8 L714.1,113.4 L715.3,115.0 L716.5,116.3 L717.7,117.6 L719.0,119.6 L720.2,121.9 L721.4,124.8 L722.6,128.1 L723.8,133.2 L725.0,137.1 L726.3,139.3 L727.5,141.0 L728.7,142.9 L729.9,144.5 L731.1,145.6 L732.3,145.6 L733.6,144.7 L734.8,143.3 L736.0,141.7 L737.2,139.4 L738.4,137.1 L739.6,135.7 L740.9,137.2 L742.1,139.0 L743.3,141.1 L744.5,142.0 L745.7,142.1 L746.9,141.7 L748.2,140.9 L749.4,139.5 L750.6,137.8 L751.8,136.5 L753.0,135.1 L754.2,134.0 L755.5,132.6 L756.7,130.6 L757.9,128.5 L759.1,125.8 L760.3,123.2 L761.5,121.1 L762.8,119.7 L764.0,118.4 L765.2,117.0 L766.4,117.2 L767.6,118.5 L768.8,120.2 L770.0,122.4 L771.3,124.9 L772.5,128.4 L773.7,132.0 L774.9,133.9 L776.1,134.8 L777.3,135.2 L778.6,135.8 L779.8,136.3 L781.0,136.5 L782.2,136.5 L783.4,137.1 L784.6,138.2 L785.9,139.8 L787.1,142.4 L788.3,145.8 L789.5,149.3 L790.7,154.6 L791.9,159.7 L793.2,163.1 L794.4,164.8 L795.6,165.5 L796.8,166.4 L798.0,168.2 L799.2,170.6 L800.5,173.1 L801.7,175.0 L802.9,174.8 L804.1,174.7 L805.3,174.8 L806.5,174.7 L807.8,174.1 L809.0,172.8 L810.2,170.8 L811.4,168.5 L812.6,166.4 L813.8,165.1 L815.1,165.1 L816.3,165.6 L817.5,166.6 L818.7,168.0 L819.9,169.4 L821.1,170.9 L822.4,172.1 L823.6,174.4 L824.8,177.8 L826.0,181.7 L827.2,186.1 L828.4,189.8 L829.7,192.1 L830.9,194.4 L832.1,196.7" stroke="#f7d8b0" stroke-width="0.8" fill="none"/>
<path d="M0.0,267.0 L1.2,265.3 L2.4,265.3 L3.6,265.8 L4.9,266.6 L6.1,267.4 L7.3,267.9 L8.5,268.3 L9.7,268.8 L10.9,269.9 L12.2,270.5 L13.4,271.0 L14.6,272.5 L15.8,275.2 L17.0,279.3 L18.2,283.2 L19.5,285.4 L20.7,286.6 L21.9,287.9 L23.1,290.2 L24.3,293.0 L25.5,294.3 L26.8,293.1 L28.0,290.8 L29.2,290.4 L30.4,290.7 L31.6,290.3 L32.8,289.2 L34.1,287.2 L35.3,285.1 L36.5,282.8 L37.7,280.0 L38.9,277.7 L40.1,275.6 L41.4,273.9 L42.6,272.7 L43.8,271.8 L45.0,271.1 L46.2,270.1 L47.4,268.9 L48.7,267.5 L49.9,267.0 L51.1,266.6 L52.3,266.5 L53.5,266.7 L54.7,266.7 L56.0,266.6 L57.2,266.3 L58.4,266.3 L59.6,266.5 L60.8,266.4 L62.0,266.3 L63.3,265.9 L64.5,265.5 L65.7,264.9 L66.9,263.6 L68.1,262.2 L69.3,260.6 L70.6,258.8 L71.8,256.4 L73.0,253.9 L74.2,250.8 L75.4,247.2 L76.6,243.8 L77.9,241.0 L79.1,239.2 L80.3,237.9 L81.5,236.1 L82.7,233.9 L83.9,231.5 L85.2,229.3 L86.4,227.4 L87.6,225.9 L88.8,224.8 L90.0,223.7 L91.2,222.6 L92.5,221.8 L93.7,221.6 L94.9,221.4 L96.1,220.9 L97.3,220.1 L98.5,219.3 L99.8,218.6 L101.0,218.1 L102.2,217.6 L103.4,216.8 L104.6,215.7 L105.8,214.3 L107.1,213.0 L108.3,211.6 L109.5,210.4 L110.7,209.4 L111.9,208.8 L113.1,208.1 L114.4,208.0 L115.6,208.1 L116.8,208.3 L118.0,208.4 L119.2,209.0 L120.4,210.0 L121.7,210.9 L122.9,211.9 L124.1,212.6 L125.3,212.8 L126.5,212.3 L127.7,211.2 L128.9,210.1 L130.2,209.1 L131.4,207.5 L132.6,204.7 L133.8,200.4 L135.0,196.8 L136.2,193.6 L137.5,190.6 L138.7,187.7 L139.9,185.0 L141.1,182.7 L142.3,181.0 L143.5,179.6 L144.8,177.7 L146.0,175.7 L147.2,174.7 L148.4,174.7 L149.6,174.3 L150.8,173.3 L152.1,172.0 L153.3,171.2 L154.5,170.9 L155.7,170.7 L156.9,170.2 L158.1,169.8 L159.4,169.4 L160.6,169.2 L161.8,169.2 L163.0,169.2 L164.2,169.2 L165.4,169.3 L166.7,168.9 L167.9,168.0 L169.1,166.2 L170.3,164.4 L171.5,164.4 L172.7,164.7 L174.0,164.1 L175.2,162.8 L176.4,161.6 L177.6,160.3 L178.8,158.7 L180.0,156.6 L181.3,154.0 L182.5,151.0 L183.7,148.2 L184.9,146.1 L186.1,144.7 L187.3,144.9 L188.6,144.9 L189.8,144.7 L191.0,144.5 L192.2,144.9 L193.4,145.6 L194.6,146.2 L195.9,145.9 L197.1,144.9 L198.3,143.8 L199.5,143.0 L200.7,142.2 L201.9,141.5 L203.2,141.1 L204.4,141.1 L205.6,141.4 L206.8,142.5 L208.0,143.3 L209.2,144.0 L210.5,145.6 L211.7,147.8 L212.9,150.1 L214.1,152.7 L215.3,154.8 L216.5,156.3 L217.8,157.4 L219.0,158.2 L220.2,158.9 L221.4,159.3 L222.6,159.8 L223.8,160.7 L225.1,160.9 L226.3,160.4 L227.5,159.9 L228.7,159.4 L229.9,159.5 L231.1,160.1 L232.4,160.7 L233.6,161.3 L234.8,163.0 L236.0,165.2 L237.2,165.9 L238.4,165.8 L239.7,165.2 L240.9,164.7 L242.1,164.2 L243.3,163.6 L244.5,162.8 L245.7,162.0 L247.0,161.2 L248.2,160.1 L249.4,158.2 L250.6,155.8 L251.8,153.2 L253.0,151.6 L254.3,150.2 L255.5,148.4 L256.7,146.6 L257.9,145.7 L259.1,145.6 L260.3,146.6 L261.5,148.7 L262.8,151.3 L264.0,152.4 L265.2,153.2 L266.4,154.2 L267.6,155.2 L268.8,156.2 L270.1,157.0 L271.3,157.5 L272.5,157.8 L273.7,157.2 L274.9,156.2 L276.1,154.8 L277.4,154.5 L278.6,155.0 L279.8,156.7 L281.0,158.0 L282.2,158.9 L283.4,160.1 L284.7,160.8 L285.9,161.2 L287.1,161.2 L288.3,160.8 L289.5,160.5 L290.7,160.9 L292.0,162.0 L293.2,163.3 L294.4,164.7 L295.6,166.4 L296.8,168.7 L298.0,171.6 L299.3,173.4 L300.5,173.1 L301.7,171.5 L302.9,169.7 L304.1,168.1 L305.3,166.2 L306.6,164.1 L307.8,161.8 L309.0,160.0 L310.2,158.5 L311.4,157.0 L312.6,155.9 L313.9,155.1 L315.1,154.1 L316.3,153.2 L317.5,152.7 L318.7,152.1 L319.9,151.7 L321.2,151.2 L322.4,150.7 L323.6,150.2 L324.8,149.8 L326.0,149.7 L327.2,149.9 L328.5,150.4 L329.7,151.3 L330.9,151.9 L332.1,151.9 L333.3,151.1 L334.5,149.7 L335.8,148.1 L337.0,146.3 L338.2,145.3 L339.4,144.4 L340.6,144.5 L341.8,144.6 L343.1,144.8 L344.3,145.2 L345.5,145.6 L346.7,145.5 L347.9,145.2 L349.1,144.7 L350.4,144.2 L351.6,144.1 L352.8,144.2 L354.0,144.6 L355.2,144.8 L356.4,144.6 L357.7,144.1 L358.9,142.8 L360.1,141.1 L361.3,139.7 L362.5,137.4 L363.7,134.4 L365.0,129.8 L366.2,125.3 L367.4,121.6 L368.6,118.8 L369.8,116.6 L371.0,114.7 L372.3,112.7 L373.5,110.4 L374.7,107.5 L375.9,103.5 L377.1,100.2 L378.3,98.2 L379.6,97.0 L380.8,96.8 L382.0,96.9 L383.2,97.2 L384.4,96.8 L385.6,96.2 L386.8,95.9 L388.1,95.5 L389.3,94.6 L390.5,93.6 L391.7,93.2 L392.9,93.5 L394.1,93.8 L395.4,94.1 L396.6,94.5 L397.8,94.7 L399.0,94.8 L400.2,94.6 L401.4,93.9 L402.7,94.0 L403.9,95.0 L405.1,95.5 L406.3,95.3 L407.5,94.3 L408.7,93.6 L410.0,93.5 L411.2,93.7 L412.4,93.8 L413.6,93.5 L414.8,93.5 L416.0,94.7 L417.3,96.3 L418.5,97.4 L419.7,97.6 L420.9,97.7 L422.1,97.4 L423.3,96.9 L424.6,96.2 L425.8,95.4 L427.0,94.9 L428.2,94.5 L429.4,94.5 L430.6,94.9 L431.9,95.6 L433.1,96.4 L434.3,97.0 L435.5,97.1 L436.7,97.4 L437.9,98.1 L439.2,97.7 L440.4,98.4 L441.6,99.9 L442.8,101.9 L444.0,103.7 L445.2,105.6 L446.5,107.8 L447.7,110.1 L448.9,111.5 L450.1,112.2 L451.3,112.5 L452.5,112.4 L453.8,112.4 L455.0,112.9 L456.2,113.5 L457.4,114.3 L458.6,114.9 L459.8,115.1 L461.1,114.5 L462.3,113.9 L463.5,113.3 L464.7,112.4 L465.9,111.1 L467.1,109.4 L468.4,108.0 L469.6,107.0 L470.8,106.0 L472.0,104.9 L473.2,103.6 L474.4,102.1 L475.7,100.1 L476.9,97.7 L478.1,94.9 L479.3,92.8 L480.5,92.1 L481.7,92.1 L483.0,91.7 L484.2,91.1 L485.4,90.1 L486.6,88.5 L487.8,85.9 L489.0,84.0 L490.3,83.7 L491.5,84.8 L492.7,86.7 L493.9,88.2 L495.1,89.6 L496.3,90.7 L497.6,91.8 L498.8,92.7 L500.0,93.3 L501.2,93.5 L502.4,93.8 L503.6,94.8 L504.9,96.5 L506.1,98.5 L507.3,100.2 L508.5,102.1 L509.7,104.1 L510.9,106.6 L512.2,108.5 L513.4,109.6 L514.6,110.9 L515.8,112.0 L517.0,113.5 L518.2,115.2 L519.4,116.1 L520.7,114.5 L521.9,113.4 L523.1,113.1 L524.3,112.9 L525.5,112.7 L526.7,112.9 L528.0,113.4 L529.2,114.9 L530.4,117.1 L531.6,119.4 L532.8,121.9 L534.0,123.9 L535.3,125.0 L536.5,125.7 L537.7,126.1 L538.9,126.2 L540.1,125.7 L541.3,125.8 L542.6,126.2 L543.8,127.2 L545.0,128.7 L546.2,130.2 L547.4,132.4 L548.6,133.9 L549.9,135.2 L551.1,136.2 L552.3,136.9 L553.5,138.0 L554.7,139.4 L555.9,140.4 L557.2,140.3 L558.4,139.7 L559.6,139.0 L560.8,138.3 L562.0,137.2 L563.2,135.7 L564.5,134.4 L565.7,133.9 L566.9,133.9 L568.1,134.2 L569.3,133.7 L570.5,132.1 L571.8,131.3 L573.0,131.3 L574.2,131.6 L575.4,132.1 L576.6,132.3 L577.8,132.5 L579.1,132.3 L580.3,132.0 L581.5,131.4 L582.7,130.4 L583.9,129.3 L585.1,129.0 L586.4,129.1 L587.6,128.6 L588.8,127.4 L590.0,126.2 L591.2,124.6 L592.4,122.9 L593.7,121.1 L594.9,119.3 L596.1,117.7 L597.3,116.1 L598.5,114.6 L599.7,114.0 L601.0,113.6 L602.2,112.6 L603.4,111.7 L604.6,111.2 L605.8,110.9 L607.0,110.5 L608.3,110.0 L609.5,109.6 L610.7,109.2 L611.9,108.8 L613.1,108.1 L614.3,107.2 L615.6,106.3 L616.8,105.2 L618.0,104.3 L619.2,103.5 L620.4,103.0 L621.6,103.0 L622.9,103.6 L624.1,104.5 L625.3,105.2 L626.5,106.0 L627.7,106.6 L628.9,107.1 L630.2,107.5 L631.4,108.0 L632.6,109.3 L633.8,110.9 L635.0,112.4 L636.2,113.7 L637.5,114.8 L638.7,116.1 L639.9,117.6 L641.1,118.3 L642.3,118.9 L643.5,119.9 L644.7,121.4 L646.0,123.7 L647.2,125.6 L648.4,127.3 L649.6,128.5 L650.8,129.8 L652.0,130.7 L653.3,131.6 L654.5,132.1 L655.7,131.6 L656.9,130.2 L658.1,128.0 L659.3,125.8 L660.6,123.9 L661.8,122.0 L663.0,120.3 L664.2,118.1 L665.4,115.8 L666.6,113.1 L667.9,110.0 L669.1,107.0 L670.3,103.3 L671.5,99.4 L672.7,95.8 L673.9,92.3 L675.2,89.5 L676.4,87.3 L677.6,84.6 L678.8,81.4 L680.0,78.8 L681.2,77.0 L682.5,75.0 L683.7,72.8 L684.9,70.9 L686.1,69.7 L687.3,69.4 L688.5,69.6 L689.8,69.7 L691.0,70.0 L692.2,70.0 L693.4,70.0 L694.6,70.6 L695.8,71.7 L697.1,73.3 L698.3,75.1 L699.5,79.6 L700.7,86.6 L701.9,91.9 L703.1,96.0 L704.4,99.9 L705.6,103.0 L706.8,105.0 L708.0,105.9 L709.2,106.6 L710.4,107.5 L711.7,108.5 L712.9,109.6 L714.1,111.3 L715.3,112.9 L716.5,114.2 L717.7,115.6 L719.0,117.5 L720.2,119.7 L721.4,122.4 L722.6,125.4 L723.8,130.1 L725.0,133.7 L726.3,136.0 L727.5,137.9 L728.7,139.8 L729.9,141.6 L731.1,142.8 L732.3,143.2 L733.6,142.8 L734.8,141.9 L736.0,140.6 L737.2,138.9 L738.4,137.0 L739.6,135.8 L740.9,137.0 L742.1,138.6 L743.3,140.4 L744.5,141.2 L745.7,141.4 L746.9,141.1 L748.2,140.4 L749.4,139.3 L750.6,137.9 L751.8,136.7 L753.0,135.5 L754.2,134.5 L755.5,133.2 L756.7,131.5 L757.9,129.6 L759.1,127.2 L760.3,124.9 L761.5,122.9 L762.8,121.5 L764.0,120.2 L765.2,118.9 L766.4,118.8 L767.6,119.8 L768.8,121.1 L770.0,122.9 L771.3,124.9 L772.5,127.9 L773.7,131.0 L774.9,132.8 L776.1,133.7 L777.3,134.2 L778.6,134.9 L779.8,135.4 L781.0,135.7 L782.2,135.9 L783.4,136.4 L784.6,137.5 L785.9,138.9 L787.1,141.2 L788.3,144.2 L789.5,147.4 L790.7,152.1 L791.9,156.7 L793.2,159.9 L794.4,161.8 L795.6,162.6 L796.8,163.7 L798.0,165.6 L799.2,167.9 L800.5,170.3 L801.7,172.2 L802.9,172.4 L804.1,172.6 L805.3,172.9 L806.5,173.1 L807.8,172.8 L809.0,171.8 L810.2,170.3 L811.4,168.4 L812.6,166.6 L813.8,165.5 L815.1,165.4 L816.3,165.9 L817.5,166.6 L818.7,167.8 L819.9,169.0 L821.1,170.3 L822.4,171.4 L823.6,173.4 L824.8,176.4 L826.0,179.9 L827.2,183.8 L828.4,187.2 L829.7,189.4 L830.9,191.7 L832.1,193.9" stroke="#f2b47e" stroke-width="0.8" fill="none"/>
<path d="M0.0,267.1 L1.2,265.6 L2.4,265.6 L3.6,266.0 L4.9,266.7 L6.1,267.4 L7.3,267.9 L8.5,268.2 L9.7,268.7 L10.9,269.6 L12.2,270.2 L13.4,270.7 L14.6,272.0 L15.8,274.4 L17.0,278.0 L18.2,281.5 L19.5,283.6 L20.7,284.8 L21.9,286.1 L23.1,288.3 L24.3,290.9 L25.5,292.3 L26.8,291.4 L28.0,289.6 L29.2,289.4 L30.4,289.7 L31.6,289.5 L32.8,288.6 L34.1,287.0 L35.3,285.2 L36.5,283.2 L37.7,280.7 L38.9,278.6 L40.1,276.7 L41.4,275.1 L42.6,274.0 L43.8,273.1 L45.0,272.3 L46.2,271.3 L47.4,270.2 L48.7,268.9 L49.9,268.2 L51.1,267.8 L52.3,267.6 L53.5,267.6 L54.7,267.6 L56.0,267.4 L57.2,267.0 L58.4,266.9 L59.6,267.0 L60.8,266.9 L62.0,266.7 L63.3,266.4 L64.5,266.0 L65.7,265.4 L66.9,264.2 L68.1,262.9 L69.3,261.5 L70.6,259.9 L71.8,257.7 L73.0,255.5 L74.2,252.6 L75.4,249.3 L76.6,246.2 L77.9,243.5 L79.1,241.7 L80.3,240.3 L81.5,238.6 L82.7,236.4 L83.9,234.1 L85.2,231.8 L86.4,230.0 L87.6,228.4 L88.8,227.2 L90.0,225.9 L91.2,224.8 L92.5,223.8 L93.7,223.4 L94.9,223.0 L96.1,222.4 L97.3,221.5 L98.5,220.7 L99.8,219.8 L101.0,219.2 L102.2,218.7 L103.4,217.9 L104.6,216.8 L105.8,215.5 L107.1,214.2 L108.3,212.9 L109.5,211.6 L110.7,210.6 L111.9,210.0 L113.1,209.3 L114.4,209.0 L115.6,209.0 L116.8,209.1 L118.0,209.1 L119.2,209.5 L120.4,210.3 L121.7,211.1 L122.9,211.9 L124.1,212.5 L125.3,212.7 L126.5,212.3 L127.7,211.3 L128.9,210.4 L130.2,209.5 L131.4,208.0 L132.6,205.6 L133.8,201.8 L135.0,198.5 L136.2,195.5 L137.5,192.7 L138.7,190.0 L139.9,187.4 L141.1,185.2 L142.3,183.4 L143.5,182.0 L144.8,180.0 L146.0,178.1 L147.2,176.9 L148.4,176.7 L149.6,176.1 L150.8,175.0 L152.1,173.7 L153.3,172.8 L154.5,172.3 L155.7,172.0 L156.9,171.4 L158.1,170.9 L159.4,170.4 L160.6,170.1 L161.8,170.0 L163.0,169.9 L164.2,169.8 L165.4,169.8 L166.7,169.4 L167.9,168.5 L169.1,166.9 L170.3,165.3 L171.5,165.1 L172.7,165.3 L174.0,164.8 L175.2,163.5 L176.4,162.4 L177.6,161.3 L178.8,159.8 L180.0,157.9 L181.3,155.6 L182.5,152.8 L183.7,150.2 L184.9,148.2 L186.1,146.8 L187.3,146.7 L188.6,146.5 L189.8,146.2 L191.0,145.9 L192.2,146.1 L193.4,146.6 L194.6,147.0 L195.9,146.7 L197.1,145.8 L198.3,144.7 L199.5,143.9 L200.7,143.1 L201.9,142.4 L203.2,142.0 L204.4,141.9 L205.6,142.1 L206.8,142.9 L208.0,143.7 L209.2,144.2 L210.5,145.6 L211.7,147.5 L212.9,149.5 L214.1,151.8 L215.3,153.7 L216.5,155.1 L217.8,156.2 L219.0,157.0 L220.2,157.8 L221.4,158.2 L222.6,158.8 L223.8,159.6 L225.1,159.9 L226.3,159.5 L227.5,159.2 L228.7,158.8 L229.9,159.0 L231.1,159.5 L232.4,160.1 L233.6,160.7 L234.8,162.2 L236.0,164.1 L237.2,164.9 L238.4,164.9 L239.7,164.5 L240.9,164.1 L242.1,163.7 L243.3,163.2 L244.5,162.6 L245.7,161.9 L247.0,161.2 L248.2,160.2 L249.4,158.6 L250.6,156.4 L251.8,154.2 L253.0,152.7 L254.3,151.3 L255.5,149.6 L256.7,148.0 L257.9,147.0 L259.1,146.8 L260.3,147.6 L261.5,149.3 L262.8,151.4 L264.0,152.4 L265.2,153.1 L266.4,154.0 L267.6,154.8 L268.8,155.8 L270.1,156.5 L271.3,157.0 L272.5,157.4 L273.7,156.9 L274.9,156.1 L276.1,154.9 L277.4,154.6 L278.6,155.1 L279.8,156.5 L281.0,157.7 L282.2,158.5 L283.4,159.6 L284.7,160.3 L285.9,160.7 L287.1,160.7 L288.3,160.4 L289.5,160.2 L290.7,160.6 L292.0,161.5 L293.2,162.7 L294.4,164.0 L295.6,165.5 L296.8,167.6 L298.0,170.2 L299.3,171.9 L300.5,171.8 L301.7,170.5 L302.9,169.0 L304.1,167.7 L305.3,166.1 L306.6,164.3 L307.8,162.3 L309.0,160.7 L310.2,159.3 L311.4,157.9 L312.6,156.9 L313.9,156.1 L315.1,155.1 L316.3,154.2 L317.5,153.7 L318.7,153.0 L319.9,152.6 L321.2,152.1 L322.4,151.6 L323.6,151.1 L324.8,150.6 L326.0,150.4 L327.2,150.6 L328.5,150.9 L329.7,151.6 L330.9,152.2 L332.1,152.1 L333.3,151.4 L334.5,150.2 L335.8,148.7 L337.0,147.1 L338.2,146.2 L339.4,145.3 L340.6,145.3 L341.8,145.3 L343.1,145.4 L344.3,145.7 L345.5,145.9 L346.7,145.8 L347.9,145.5 L349.1,145.1 L350.4,144.5 L351.6,144.4 L352.8,144.4 L354.0,144.7 L355.2,144.9 L356.4,144.7 L357.7,144.3 L358.9,143.1 L360.1,141.6 L361.3,140.3 L362.5,138.3 L363.7,135.6 L365.0,131.6 L366.2,127.4 L367.4,124.0 L368.6,121.3 L369.8,119.2 L371.0,117.3 L372.3,115.3 L373.5,113.0 L374.7,110.2 L375.9,106.6 L377.1,103.4 L378.3,101.3 L379.6,100.0 L380.8,99.4 L382.0,99.3 L383.2,99.3 L384.4,98.8 L385.6,98.0 L386.8,97.5 L388.1,97.1 L389.3,96.1 L390.5,95.1 L391.7,94.6 L392.9,94.7 L394.1,94.8 L395.4,95.0 L396.6,95.2 L397.8,95.4 L399.0,95.3 L400.2,95.1 L401.4,94.5 L402.7,94.5 L403.9,95.3 L405.1,95.7 L406.3,95.5 L407.5,94.6 L408.7,94.0 L410.0,93.8 L411.2,93.9 L412.4,94.0 L413.6,93.7 L414.8,93.7 L416.0,94.7 L417.3,96.0 L418.5,97.0 L419.7,97.3 L420.9,97.3 L422.1,97.1 L423.3,96.7 L424.6,96.1 L425.8,95.4 L427.0,95.0 L428.2,94.7 L429.4,94.6 L430.6,95.0 L431.9,95.6 L433.1,96.2 L434.3,96.8 L435.5,96.9 L436.7,97.2 L437.9,97.8 L439.2,97.5 L440.4,98.1 L441.6,99.5 L442.8,101.3 L444.0,102.9 L445.2,104.6 L446.5,106.6 L447.7,108.7 L448.9,110.0 L450.1,110.8 L451.3,111.2 L452.5,111.2 L453.8,111.3 L455.0,111.8 L456.2,112.4 L457.4,113.2 L458.6,113.8 L459.8,114.1 L461.1,113.7 L462.3,113.3 L463.5,112.8 L464.7,112.1 L465.9,110.9 L467.1,109.5 L468.4,108.2 L469.6,107.3 L470.8,106.4 L472.0,105.5 L473.2,104.3 L474.4,102.9 L475.7,101.1 L476.9,98.9 L478.1,96.3 L479.3,94.4 L480.5,93.6 L481.7,93.5 L483.0,93.0 L484.2,92.4 L485.4,91.4 L486.6,89.9 L487.8,87.5 L489.0,85.7 L490.3,85.3 L491.5,86.0 L492.7,87.6 L493.9,88.8 L495.1,90.0 L496.3,90.9 L497.6,91.9 L498.8,92.6 L500.0,93.2 L501.2,93.4 L502.4,93.7 L503.6,94.5 L504.9,96.1 L506.1,97.8 L507.3,99.4 L508.5,101.1 L509.7,102.9 L510.9,105.2 L512.2,107.0 L513.4,108.2 L514.6,109.4 L515.8,110.5 L517.0,112.0 L518.2,113.6 L519.4,114.5 L520.7,113.3 L521.9,112.5 L523.1,112.4 L524.3,112.2 L525.5,112.1 L526.7,112.4 L528.0,112.9 L529.2,114.2 L530.4,116.1 L531.6,118.2 L532.8,120.5 L534.0,122.4 L535.3,123.5 L536.5,124.3 L537.7,124.8 L538.9,125.0 L540.1,124.7 L541.3,124.8 L542.6,125.3 L543.8,126.2 L545.0,127.6 L546.2,129.0 L547.4,131.0 L548.6,132.5 L549.9,133.7 L551.1,134.8 L552.3,135.5 L553.5,136.6 L554.7,138.0 L555.9,139.0 L557.2,139.1 L558.4,138.7 L559.6,138.1 L560.8,137.7 L562.0,136.8 L563.2,135.6 L564.5,134.5 L565.7,134.0 L566.9,134.0 L568.1,134.2 L569.3,133.8 L570.5,132.4 L571.8,131.6 L573.0,131.6 L574.2,131.9 L575.4,132.2 L576.6,132.4 L577.8,132.5 L579.1,132.3 L580.3,132.1 L581.5,131.5 L582.7,130.6 L583.9,129.7 L585.1,129.3 L586.4,129.3 L587.6,128.9 L588.8,127.8 L590.0,126.7 L591.2,125.3 L592.4,123.7 L593.7,122.1 L594.9,120.4 L596.1,119.0 L597.3,117.4 L598.5,116.0 L599.7,115.4 L601.0,114.8 L602.2,113.9 L603.4,112.9 L604.6,112.4 L605.8,112.0 L607.0,111.5 L608.3,111.0 L609.5,110.6 L610.7,110.1 L611.9,109.7 L613.1,108.9 L614.3,108.1 L615.6,107.2 L616.8,106.2 L618.0,105.3 L619.2,104.5 L620.4,104.0 L621.6,103.9 L622.9,104.4 L624.1,105.0 L625.3,105.6 L626.5,106.2 L627.7,106.8 L628.9,107.2 L630.2,107.6 L631.4,107.9 L632.6,109.1 L633.8,110.5 L635.0,111.8 L636.2,113.0 L637.5,114.1 L638.7,115.3 L639.9,116.7 L641.1,117.3 L642.3,118.0 L643.5,118.9 L644.7,120.3 L646.0,122.4 L647.2,124.1 L648.4,125.7 L649.6,127.0 L650.8,128.2 L652.0,129.2 L653.3,130.1 L654.5,130.7 L655.7,130.4 L656.9,129.3 L658.1,127.5 L659.3,125.6 L660.6,123.9 L661.8,122.3 L663.0,120.7 L664.2,118.8 L665.4,116.7 L666.6,114.2 L667.9,111.5 L669.1,108.7 L670.3,105.3 L671.5,101.7 L672.7,98.4 L673.9,95.1 L675.2,92.3 L676.4,90.1 L677.6,87.5 L678.8,84.4 L680.0,82.0 L681.2,80.1 L682.5,78.0 L683.7,75.9 L684.9,73.9 L686.1,72.6 L687.3,72.1 L688.5,72.0 L689.8,71.9 L691.0,71.9 L692.2,71.7 L693.4,71.5 L694.6,71.9 L695.8,72.8 L697.1,74.0 L698.3,75.5 L699.5,79.4 L700.7,85.5 L701.9,90.2 L703.1,93.9 L704.4,97.5 L705.6,100.4 L706.8,102.5 L708.0,103.5 L709.2,104.4 L710.4,105.4 L711.7,106.5 L712.9,107.7 L714.1,109.3 L715.3,110.9 L716.5,112.2 L717.7,113.6 L719.0,115.5 L720.2,117.6 L721.4,120.1 L722.6,123.0 L723.8,127.3 L725.0,130.7 L726.3,133.0 L727.5,135.0 L728.7,136.9 L729.9,138.8 L731.1,140.2 L732.3,140.8 L733.6,140.7 L734.8,140.1 L736.0,139.3 L737.2,137.9 L738.4,136.3 L739.6,135.4 L740.9,136.5 L742.1,137.9 L743.3,139.5 L744.5,140.3 L745.7,140.5 L746.9,140.3 L748.2,139.8 L749.4,138.9 L750.6,137.6 L751.8,136.7 L753.0,135.6 L754.2,134.8 L755.5,133.6 L756.7,132.0 L757.9,130.4 L759.1,128.2 L760.3,126.1 L761.5,124.2 L762.8,123.0 L764.0,121.7 L765.2,120.4 L766.4,120.2 L767.6,120.9 L768.8,121.9 L770.0,123.4 L771.3,125.2 L772.5,127.7 L773.7,130.5 L774.9,132.1 L776.1,133.0 L777.3,133.6 L778.6,134.2 L779.8,134.8 L781.0,135.1 L782.2,135.3 L783.4,135.9 L784.6,136.9 L785.9,138.2 L787.1,140.3 L788.3,143.0 L789.5,145.9 L790.7,150.1 L791.9,154.3 L793.2,157.3 L794.4,159.2 L795.6,160.2 L796.8,161.4 L798.0,163.2 L799.2,165.5 L800.5,167.8 L801.7,169.7 L802.9,170.1 L804.1,170.5 L805.3,171.0 L806.5,171.3 L807.8,171.3 L809.0,170.6 L810.2,169.4 L811.4,167.8 L812.6,166.4 L813.8,165.4 L815.1,165.4 L816.3,165.8 L817.5,166.4 L818.7,167.5 L819.9,168.6 L821.1,169.7 L822.4,170.7 L823.6,172.5 L824.8,175.1 L826.0,178.3 L827.2,181.8 L828.4,185.0 L829.7,187.2 L830.9,189.4 L832.1,191.5" stroke="#eb9462" stroke-width="0.8" fill="none"/>
<path d="M0.0,267.1 L1.2,265.8 L2.4,265.8 L3.6,266.2 L4.9,266.8 L6.1,267.4 L7.3,267.8 L8.5,268.1 L9.7,268.6 L10.9,269.4 L12.2,270.0 L13.4,270.4 L14.6,271.6 L15.8,273.8 L17.0,277.0 L18.2,280.2 L19.5,282.1 L20.7,283.3 L21.9,284.6 L23.1,286.7 L24.3,289.1 L25.5,290.5 L26.8,289.9 L28.0,288.4 L29.2,288.3 L30.4,288.7 L31.6,288.6 L32.8,287.9 L34.1,286.5 L35.3,285.0 L36.5,283.3 L37.7,281.1 L38.9,279.2 L40.1,277.5 L41.4,276.0 L42.6,274.9 L43.8,274.1 L45.0,273.3 L46.2,272.3 L47.4,271.2 L48.7,270.0 L49.9,269.3 L51.1,268.8 L52.3,268.5 L53.5,268.5 L54.7,268.3 L56.0,268.1 L57.2,267.7 L58.4,267.6 L59.6,267.6 L60.8,267.4 L62.0,267.2 L63.3,266.9 L64.5,266.5 L65.7,265.9 L66.9,264.8 L68.1,263.7 L69.3,262.3 L70.6,260.8 L71.8,258.9 L73.0,256.8 L74.2,254.2 L75.4,251.1 L76.6,248.2 L77.9,245.7 L79.1,244.0 L80.3,242.5 L81.5,240.8 L82.7,238.7 L83.9,236.4 L85.2,234.2 L86.4,232.4 L87.6,230.7 L88.8,229.4 L90.0,228.1 L91.2,226.9 L92.5,225.8 L93.7,225.2 L94.9,224.7 L96.1,224.0 L97.3,223.0 L98.5,222.1 L99.8,221.2 L101.0,220.6 L102.2,220.0 L103.4,219.1 L104.6,218.0 L105.8,216.7 L107.1,215.5 L108.3,214.2 L109.5,213.0 L110.7,211.9 L111.9,211.3 L113.1,210.5 L114.4,210.2 L115.6,210.1 L116.8,210.0 L118.0,209.9 L119.2,210.2 L120.4,210.9 L121.7,211.5 L122.9,212.2 L124.1,212.7 L125.3,212.9 L126.5,212.5 L127.7,211.6 L128.9,210.7 L130.2,209.9 L131.4,208.6 L132.6,206.4 L133.8,203.0 L135.0,200.0 L136.2,197.2 L137.5,194.6 L138.7,192.0 L139.9,189.5 L141.1,187.4 L142.3,185.6 L143.5,184.1 L144.8,182.2 L146.0,180.2 L147.2,179.0 L148.4,178.6 L149.6,177.9 L150.8,176.8 L152.1,175.5 L153.3,174.5 L154.5,173.9 L155.7,173.4 L156.9,172.7 L158.1,172.2 L159.4,171.6 L160.6,171.2 L161.8,170.9 L163.0,170.7 L164.2,170.5 L165.4,170.4 L166.7,170.0 L167.9,169.2 L169.1,167.7 L170.3,166.2 L171.5,165.9 L172.7,166.1 L174.0,165.5 L175.2,164.4 L176.4,163.3 L177.6,162.3 L178.8,160.9 L180.0,159.1 L181.3,157.0 L182.5,154.4 L183.7,152.0 L184.9,150.1 L186.1,148.7 L187.3,148.5 L188.6,148.1 L189.8,147.7 L191.0,147.3 L192.2,147.4 L193.4,147.7 L194.6,147.9 L195.9,147.6 L197.1,146.7 L198.3,145.7 L199.5,144.9 L200.7,144.1 L201.9,143.4 L203.2,143.0 L204.4,142.8 L205.6,142.9 L206.8,143.6 L208.0,144.2 L209.2,144.6 L210.5,145.8 L211.7,147.4 L212.9,149.2 L214.1,151.2 L215.3,153.0 L216.5,154.3 L217.8,155.3 L219.0,156.1 L220.2,156.9 L221.4,157.3 L222.6,157.9 L223.8,158.7 L225.1,159.0 L226.3,158.8 L227.5,158.5 L228.7,158.3 L229.9,158.5 L231.1,159.0 L232.4,159.5 L233.6,160.1 L234.8,161.4 L236.0,163.2 L237.2,164.0 L238.4,164.0 L239.7,163.7 L240.9,163.4 L242.1,163.1 L243.3,162.8 L244.5,162.2 L245.7,161.7 L247.0,161.0 L248.2,160.2 L249.4,158.8 L250.6,156.9 L251.8,154.8 L253.0,153.4 L254.3,152.2 L255.5,150.6 L256.7,149.1 L257.9,148.1 L259.1,147.8 L260.3,148.4 L261.5,149.8 L262.8,151.7 L264.0,152.5 L265.2,153.1 L266.4,153.9 L267.6,154.7 L268.8,155.6 L270.1,156.2 L271.3,156.7 L272.5,157.0 L273.7,156.7 L274.9,156.0 L276.1,155.0 L277.4,154.7 L278.6,155.1 L279.8,156.4 L281.0,157.4 L282.2,158.2 L283.4,159.2 L284.7,159.8 L285.9,160.2 L287.1,160.3 L288.3,160.1 L289.5,159.9 L290.7,160.3 L292.0,161.1 L293.2,162.2 L294.4,163.4 L295.6,164.7 L296.8,166.6 L298.0,169.1 L299.3,170.6 L300.5,170.6 L301.7,169.6 L302.9,168.4 L304.1,167.3 L305.3,165.9 L306.6,164.3 L307.8,162.6 L309.0,161.1 L310.2,159.9 L311.4,158.6 L312.6,157.6 L313.9,156.8 L315.1,155.9 L316.3,155.0 L317.5,154.5 L318.7,153.8 L319.9,153.4 L321.2,152.9 L322.4,152.3 L323.6,151.8 L324.8,151.4 L326.0,151.2 L327.2,151.2 L328.5,151.5 L329.7,152.0 L330.9,152.5 L332.1,152.4 L333.3,151.8 L334.5,150.6 L335.8,149.3 L337.0,147.9 L338.2,146.9 L339.4,146.1 L340.6,146.0 L341.8,145.9 L343.1,146.0 L344.3,146.1 L345.5,146.3 L346.7,146.2 L347.9,145.9 L349.1,145.4 L350.4,144.9 L351.6,144.8 L352.8,144.8 L354.0,145.0 L355.2,145.1 L356.4,144.9 L357.7,144.5 L358.9,143.5 L360.1,142.1 L361.3,140.9 L362.5,139.1 L363.7,136.6 L365.0,133.0 L366.2,129.2 L367.4,126.1 L368.6,123.5 L369.8,121.4 L371.0,119.6 L372.3,117.6 L373.5,115.4 L374.7,112.7 L375.9,109.3 L377.1,106.2 L378.3,104.1 L379.6,102.7 L380.8,102.0 L382.0,101.7 L383.2,101.4 L384.4,100.8 L385.6,99.9 L386.8,99.3 L388.1,98.7 L389.3,97.7 L390.5,96.7 L391.7,96.1 L392.9,96.0 L394.1,96.0 L395.4,96.1 L396.6,96.2 L397.8,96.2 L399.0,96.1 L400.2,95.8 L401.4,95.2 L402.7,95.1 L403.9,95.8 L405.1,96.1 L406.3,95.9 L407.5,95.0 L408.7,94.4 L410.0,94.3 L411.2,94.3 L412.4,94.3 L413.6,94.0 L414.8,93.9 L416.0,94.8 L417.3,96.0 L418.5,96.8 L419.7,97.1 L420.9,97.1 L422.1,96.9 L423.3,96.6 L424.6,96.1 L425.8,95.5 L427.0,95.1 L428.2,94.8 L429.4,94.8 L430.6,95.1 L431.9,95.6 L433.1,96.2 L434.3,96.7 L435.5,96.8 L436.7,97.1 L437.9,97.6 L439.2,97.4 L440.4,98.0 L441.6,99.2 L442.8,100.7 L444.0,102.2 L445.2,103.8 L446.5,105.6 L447.7,107.5 L448.9,108.8 L450.1,109.6 L451.3,110.0 L452.5,110.2 L453.8,110.3 L455.0,110.9 L456.2,111.5 L457.4,112.2 L458.6,112.8 L459.8,113.1 L461.1,112.8 L462.3,112.5 L463.5,112.2 L464.7,111.6 L465.9,110.6 L467.1,109.4 L468.4,108.3 L469.6,107.4 L470.8,106.6 L472.0,105.8 L473.2,104.7 L474.4,103.5 L475.7,101.8 L476.9,99.9 L478.1,97.5 L479.3,95.7 L480.5,94.9 L481.7,94.7 L483.0,94.2 L484.2,93.5 L485.4,92.6 L486.6,91.1 L487.8,88.9 L489.0,87.2 L490.3,86.7 L491.5,87.3 L492.7,88.5 L493.9,89.6 L495.1,90.5 L496.3,91.3 L497.6,92.2 L498.8,92.8 L500.0,93.3 L501.2,93.5 L502.4,93.7 L503.6,94.5 L504.9,95.9 L506.1,97.4 L507.3,98.9 L508.5,100.4 L509.7,102.1 L510.9,104.2 L512.2,105.9 L513.4,107.0 L514.6,108.2 L515.8,109.3 L517.0,110.7 L518.2,112.2 L519.4,113.2 L520.7,112.2 L521.9,111.6 L523.1,111.6 L524.3,111.5 L525.5,111.5 L526.7,111.8 L528.0,112.3 L529.2,113.5 L530.4,115.3 L531.6,117.2 L532.8,119.3 L534.0,121.1 L535.3,122.1 L536.5,122.9 L537.7,123.5 L538.9,123.8 L540.1,123.6 L541.3,123.8 L542.6,124.3 L543.8,125.2 L545.0,126.5 L546.2,127.9 L547.4,129.7 L548.6,131.1 L549.9,132.3 L551.1,133.4 L552.3,134.2 L553.5,135.2 L554.7,136.6 L555.9,137.6 L557.2,137.8 L558.4,137.6 L559.6,137.2 L560.8,136.9 L562.0,136.2 L563.2,135.2 L564.5,134.2 L565.7,133.8 L566.9,133.9 L568.1,134.1 L569.3,133.7 L570.5,132.5 L571.8,131.8 L573.0,131.7 L574.2,131.9 L575.4,132.2 L576.6,132.4 L577.8,132.4 L579.1,132.3 L580.3,132.0 L581.5,131.5 L582.7,130.7 L583.9,129.9 L585.1,129.5 L586.4,129.5 L587.6,129.1 L588.8,128.2 L590.0,127.1 L591.2,125.8 L592.4,124.4 L593.7,122.9 L594.9,121.4 L596.1,120.0 L597.3,118.5 L598.5,117.2 L599.7,116.5 L601.0,116.0 L602.2,115.0 L603.4,114.1 L604.6,113.5 L605.8,113.0 L607.0,112.5 L608.3,112.0 L609.5,111.5 L610.7,111.0 L611.9,110.6 L613.1,109.8 L614.3,109.0 L615.6,108.2 L616.8,107.2 L618.0,106.3 L619.2,105.5 L620.4,105.0 L621.6,104.8 L622.9,105.1 L624.1,105.7 L625.3,106.1 L626.5,106.6 L627.7,107.1 L628.9,107.4 L630.2,107.7 L631.4,108.1 L632.6,109.1 L633.8,110.3 L635.0,111.5 L636.2,112.6 L637.5,113.6 L638.7,114.7 L639.9,115.9 L641.1,116.6 L642.3,117.2 L643.5,118.1 L644.7,119.4 L646.0,121.3 L647.2,122.9 L648.4,124.4 L649.6,125.6 L650.8,126.8 L652.0,127.8 L653.3,128.7 L654.5,129.3 L655.7,129.2 L656.9,128.3 L658.1,126.8 L659.3,125.2 L660.6,123.7 L661.8,122.3 L663.0,120.9 L664.2,119.2 L665.4,117.2 L666.6,115.0 L667.9,112.5 L669.1,109.9 L670.3,106.9 L671.5,103.5 L672.7,100.4 L673.9,97.3 L675.2,94.7 L676.4,92.5 L677.6,90.0 L678.8,87.1 L680.0,84.7 L681.2,82.8 L682.5,80.8 L683.7,78.7 L684.9,76.7 L686.1,75.3 L687.3,74.6 L688.5,74.3 L689.8,74.1 L691.0,73.9 L692.2,73.6 L693.4,73.2 L694.6,73.5 L695.8,74.1 L697.1,75.0 L698.3,76.3 L699.5,79.6 L700.7,85.0 L701.9,89.2 L703.1,92.5 L704.4,95.8 L705.6,98.6 L706.8,100.6 L708.0,101.7 L709.2,102.6 L710.4,103.7 L711.7,104.8 L712.9,106.0 L714.1,107.6 L715.3,109.1 L716.5,110.5 L717.7,111.8 L719.0,113.7 L720.2,115.7 L721.4,118.1 L722.6,120.8 L723.8,124.8 L725.0,128.0 L726.3,130.3 L727.5,132.3 L728.7,134.3 L729.9,136.1 L731.1,137.6 L732.3,138.4 L733.6,138.5 L734.8,138.3 L736.0,137.7 L737.2,136.6 L738.4,135.4 L739.6,134.6 L740.9,135.6 L742.1,137.0 L743.3,138.4 L744.5,139.2 L745.7,139.5 L746.9,139.4 L748.2,139.0 L749.4,138.3 L750.6,137.2 L751.8,136.4 L753.0,135.5 L754.2,134.7 L755.5,133.7 L756.7,132.3 L757.9,130.8 L759.1,128.9 L760.3,127.0 L761.5,125.3 L762.8,124.1 L764.0,122.8 L765.2,121.6 L766.4,121.4 L767.6,121.9 L768.8,122.7 L770.0,124.0 L771.3,125.5 L772.5,127.8 L773.7,130.2 L774.9,131.7 L776.1,132.5 L777.3,133.1 L778.6,133.7 L779.8,134.3 L781.0,134.7 L782.2,134.9 L783.4,135.5 L784.6,136.4 L785.9,137.6 L787.1,139.5 L788.3,142.0 L789.5,144.6 L790.7,148.4 L791.9,152.3 L793.2,155.1 L794.4,156.9 L795.6,158.0 L796.8,159.3 L798.0,161.0 L799.2,163.2 L800.5,165.4 L801.7,167.3 L802.9,167.9 L804.1,168.5 L805.3,169.1 L806.5,169.6 L807.8,169.7 L809.0,169.2 L810.2,168.3 L811.4,167.0 L812.6,165.8 L813.8,165.1 L815.1,165.0 L816.3,165.4 L817.5,166.0 L818.7,167.0 L819.9,168.0 L821.1,169.1 L822.4,169.9 L823.6,171.6 L824.8,174.0 L826.0,176.9 L827.2,180.1 L828.4,183.0 L829.7,185.1 L830.9,187.3 L832.1,189.4" stroke="#e26e52" stroke-width="0.8" fill="none"/>
<path d="M0.0,267.1 L1.2,265.9 L2.4,266.0 L3.6,266.3 L4.9,266.8 L6.1,267.4 L7.3,267.8 L8.5,268.1 L9.7,268.5 L10.9,269.3 L12.2,269.8 L13.4,270.2 L14.6,271.3 L15.8,273.2 L17.0,276.2 L18.2,279.1 L19.5,280.9 L20.7,282.1 L21.9,283.4 L23.1,285.3 L24.3,287.6 L25.5,288.9 L26.8,288.5 L28.0,287.3 L29.2,287.3 L30.4,287.7 L31.6,287.7 L32.8,287.1 L34.1,286.0 L35.3,284.6 L36.5,283.1 L37.7,281.2 L38.9,279.5 L40.1,278.0 L41.4,276.6 L42.6,275.6 L43.8,274.8 L45.0,274.0 L46.2,273.1 L47.4,272.1 L48.7,270.9 L49.9,270.2 L51.1,269.7 L52.3,269.4 L53.5,269.2 L54.7,269.1 L56.0,268.8 L57.2,268.4 L58.4,268.2 L59.6,268.2 L60.8,267.9 L62.0,267.7 L63.3,267.4 L64.5,267.0 L65.7,266.4 L66.9,265.4 L68.1,264.4 L69.3,263.1 L70.6,261.7 L71.8,259.9 L73.0,258.0 L74.2,255.6 L75.4,252.7 L76.6,250.0 L77.9,247.6 L79.1,245.9 L80.3,244.5 L81.5,242.8 L82.7,240.7 L83.9,238.6 L85.2,236.4 L86.4,234.6 L87.6,232.9 L88.8,231.6 L90.0,230.2 L91.2,228.9 L92.5,227.8 L93.7,227.1 L94.9,226.4 L96.1,225.6 L97.3,224.6 L98.5,223.7 L99.8,222.7 L101.0,222.0 L102.2,221.3 L103.4,220.4 L104.6,219.3 L105.8,218.1 L107.1,216.8 L108.3,215.5 L109.5,214.3 L110.7,213.3 L111.9,212.6 L113.1,211.8 L114.4,211.4 L115.6,211.2 L116.8,211.0 L118.0,210.9 L119.2,211.1 L120.4,211.6 L121.7,212.1 L122.9,212.7 L124.1,213.1 L125.3,213.2 L126.5,212.8 L127.7,212.0 L128.9,211.2 L130.2,210.4 L131.4,209.2 L132.6,207.2 L133.8,204.1 L135.0,201.3 L136.2,198.7 L137.5,196.2 L138.7,193.8 L139.9,191.4 L141.1,189.3 L142.3,187.6 L143.5,186.1 L144.8,184.2 L146.0,182.3 L147.2,181.0 L148.4,180.5 L149.6,179.6 L150.8,178.5 L152.1,177.1 L153.3,176.1 L154.5,175.4 L155.7,174.9 L156.9,174.1 L158.1,173.5 L159.4,172.8 L160.6,172.3 L161.8,172.0 L163.0,171.7 L164.2,171.4 L165.4,171.2 L166.7,170.8 L167.9,170.0 L169.1,168.5 L170.3,167.1 L171.5,166.8 L172.7,166.9 L174.0,166.3 L175.2,165.2 L176.4,164.2 L177.6,163.2 L178.8,161.9 L180.0,160.3 L181.3,158.3 L182.5,155.9 L183.7,153.6 L184.9,151.8 L186.1,150.4 L187.3,150.1 L188.6,149.7 L189.8,149.2 L191.0,148.7 L192.2,148.6 L193.4,148.8 L194.6,149.0 L195.9,148.6 L197.1,147.7 L198.3,146.7 L199.5,146.0 L200.7,145.2 L201.9,144.5 L203.2,144.0 L204.4,143.8 L205.6,143.8 L206.8,144.3 L208.0,144.8 L209.2,145.1 L210.5,146.1 L211.7,147.5 L212.9,149.1 L214.1,151.0 L215.3,152.5 L216.5,153.8 L217.8,154.7 L219.0,155.5 L220.2,156.2 L221.4,156.7 L222.6,157.2 L223.8,158.0 L225.1,158.3 L226.3,158.2 L227.5,158.0 L228.7,157.8 L229.9,158.0 L231.1,158.5 L232.4,159.0 L233.6,159.5 L234.8,160.8 L236.0,162.4 L237.2,163.1 L238.4,163.2 L239.7,163.0 L240.9,162.8 L242.1,162.6 L243.3,162.3 L244.5,161.9 L245.7,161.4 L247.0,160.8 L248.2,160.1 L249.4,158.8 L250.6,157.1 L251.8,155.3 L253.0,154.0 L254.3,152.8 L255.5,151.4 L256.7,149.9 L257.9,149.0 L259.1,148.7 L260.3,149.2 L261.5,150.3 L262.8,152.0 L264.0,152.7 L265.2,153.2 L266.4,153.9 L267.6,154.6 L268.8,155.4 L270.1,156.0 L271.3,156.5 L272.5,156.8 L273.7,156.5 L274.9,155.9 L276.1,155.0 L277.4,154.8 L278.6,155.2 L279.8,156.3 L281.0,157.3 L282.2,158.0 L283.4,158.9 L284.7,159.5 L285.9,159.8 L287.1,159.9 L288.3,159.8 L289.5,159.7 L290.7,160.0 L292.0,160.8 L293.2,161.8 L294.4,162.8 L295.6,164.1 L296.8,165.8 L298.0,168.1 L299.3,169.5 L300.5,169.6 L301.7,168.8 L302.9,167.8 L304.1,166.8 L305.3,165.6 L306.6,164.2 L307.8,162.6 L309.0,161.3 L310.2,160.2 L311.4,159.0 L312.6,158.1 L313.9,157.3 L315.1,156.5 L316.3,155.7 L317.5,155.1 L318.7,154.5 L319.9,154.1 L321.2,153.5 L322.4,153.0 L323.6,152.5 L324.8,152.0 L326.0,151.8 L327.2,151.8 L328.5,152.0 L329.7,152.5 L330.9,152.8 L332.1,152.8 L333.3,152.2 L334.5,151.1 L335.8,149.9 L337.0,148.6 L338.2,147.7 L339.4,146.9 L340.6,146.7 L341.8,146.6 L343.1,146.5 L344.3,146.6 L345.5,146.7 L346.7,146.6 L347.9,146.3 L349.1,145.8 L350.4,145.3 L351.6,145.2 L352.8,145.1 L354.0,145.3 L355.2,145.4 L356.4,145.1 L357.7,144.8 L358.9,143.8 L360.1,142.6 L361.3,141.5 L362.5,139.8 L363.7,137.6 L365.0,134.2 L366.2,130.8 L367.4,127.8 L368.6,125.4 L369.8,123.4 L371.0,121.6 L372.3,119.7 L373.5,117.5 L374.7,115.0 L375.9,111.7 L377.1,108.8 L378.3,106.7 L379.6,105.3 L380.8,104.4 L382.0,103.9 L383.2,103.5 L384.4,102.8 L385.6,101.8 L386.8,101.1 L388.1,100.5 L389.3,99.4 L390.5,98.4 L391.7,97.7 L392.9,97.5 L394.1,97.4 L395.4,97.3 L396.6,97.3 L397.8,97.2 L399.0,97.0 L400.2,96.7 L401.4,96.1 L402.7,95.9 L403.9,96.4 L405.1,96.6 L406.3,96.4 L407.5,95.6 L408.7,95.0 L410.0,94.8 L411.2,94.8 L412.4,94.7 L413.6,94.4 L414.8,94.3 L416.0,95.1 L417.3,96.1 L418.5,96.8 L419.7,97.0 L420.9,97.1 L422.1,96.9 L423.3,96.6 L424.6,96.2 L425.8,95.6 L427.0,95.3 L428.2,95.0 L429.4,94.9 L430.6,95.2 L431.9,95.7 L433.1,96.2 L434.3,96.6 L435.5,96.7 L436.7,97.0 L437.9,97.5 L439.2,97.3 L440.4,97.8 L441.6,98.9 L442.8,100.3 L444.0,101.7 L445.2,103.1 L446.5,104.8 L447.7,106.6 L448.9,107.8 L450.1,108.6 L451.3,109.0 L452.5,109.2 L453.8,109.4 L455.0,110.0 L456.2,110.6 L457.4,111.3 L458.6,111.9 L459.8,112.2 L461.1,112.0 L462.3,111.8 L463.5,111.6 L464.7,111.0 L465.9,110.2 L467.1,109.1 L468.4,108.1 L469.6,107.4 L470.8,106.7 L472.0,105.9 L473.2,105.0 L474.4,103.8 L475.7,102.4 L476.9,100.6 L478.1,98.4 L479.3,96.7 L480.5,95.9 L481.7,95.6 L483.0,95.1 L484.2,94.5 L485.4,93.6 L486.6,92.2 L487.8,90.2 L489.0,88.5 L490.3,88.0 L491.5,88.4 L492.7,89.4 L493.9,90.3 L495.1,91.1 L496.3,91.8 L497.6,92.5 L498.8,93.1 L500.0,93.5 L501.2,93.6 L502.4,93.9 L503.6,94.5 L504.9,95.8 L506.1,97.2 L507.3,98.5 L508.5,99.9 L509.7,101.5 L510.9,103.4 L512.2,104.9 L513.4,106.0 L514.6,107.2 L515.8,108.2 L517.0,109.6 L518.2,111.0 L519.4,112.0 L520.7,111.3 L521.9,110.8 L523.1,110.8 L524.3,110.8 L525.5,110.9 L526.7,111.2 L528.0,111.6 L529.2,112.8 L530.4,114.4 L531.6,116.2 L532.8,118.1 L534.0,119.8 L535.3,120.9 L536.5,121.7 L537.7,122.3 L538.9,122.6 L540.1,122.6 L541.3,122.8 L542.6,123.3 L543.8,124.2 L545.0,125.4 L546.2,126.7 L547.4,128.5 L548.6,129.8 L549.9,131.0 L551.1,132.0 L552.3,132.9 L553.5,133.9 L554.7,135.2 L555.9,136.3 L557.2,136.6 L558.4,136.5 L559.6,136.2 L560.8,136.1 L562.0,135.5 L563.2,134.6 L564.5,133.9 L565.7,133.5 L566.9,133.6 L568.1,133.8 L569.3,133.5 L570.5,132.4 L571.8,131.8 L573.0,131.7 L574.2,131.9 L575.4,132.1 L576.6,132.3 L577.8,132.3 L579.1,132.2 L580.3,132.0 L581.5,131.5 L582.7,130.8 L583.9,130.0 L585.1,129.7 L586.4,129.6 L587.6,129.2 L588.8,128.4 L590.0,127.4 L591.2,126.3 L592.4,124.9 L593.7,123.6 L594.9,122.1 L596.1,120.9 L597.3,119.5 L598.5,118.2 L599.7,117.5 L601.0,116.9 L602.2,116.0 L603.4,115.1 L604.6,114.5 L605.8,114.0 L607.0,113.5 L608.3,112.9 L609.5,112.4 L610.7,111.9 L611.9,111.4 L613.1,110.7 L614.3,109.9 L615.6,109.1 L616.8,108.1 L618.0,107.3 L619.2,106.5 L620.4,106.0 L621.6,105.7 L622.9,105.9 L624.1,106.4 L625.3,106.7 L626.5,107.1 L627.7,107.5 L628.9,107.7 L630.2,108.0 L631.4,108.3 L632.6,109.2 L633.8,110.3 L635.0,111.4 L636.2,112.3 L637.5,113.2 L638.7,114.3 L639.9,115.4 L641.1,116.0 L642.3,116.6 L643.5,117.4 L644.7,118.7 L646.0,120.4 L647.2,121.9 L648.4,123.4 L649.6,124.5 L650.8,125.7 L652.0,126.6 L653.3,127.5 L654.5,128.1 L655.7,128.1 L656.9,127.4 L658.1,126.1 L659.3,124.7 L660.6,123.4 L661.8,122.1 L663.0,120.9 L664.2,119.4 L665.4,117.6 L666.6,115.6 L667.9,113.3 L669.1,110.9 L670.3,108.0 L671.5,105.0 L672.7,102.1 L673.9,99.2 L675.2,96.7 L676.4,94.6 L677.6,92.2 L678.8,89.4 L680.0,87.1 L681.2,85.2 L682.5,83.2 L683.7,81.2 L684.9,79.2 L686.1,77.8 L687.3,77.0 L688.5,76.6 L689.8,76.2 L691.0,75.8 L692.2,75.4 L693.4,75.0 L694.6,75.1 L695.8,75.5 L697.1,76.2 L698.3,77.3 L699.5,80.2 L700.7,84.9 L701.9,88.7 L703.1,91.7 L704.4,94.7 L705.6,97.3 L706.8,99.2 L708.0,100.3 L709.2,101.2 L710.4,102.3 L711.7,103.4 L712.9,104.6 L714.1,106.1 L715.3,107.6 L716.5,108.9 L717.7,110.3 L719.0,112.0 L720.2,114.0 L721.4,116.2 L722.6,118.8 L723.8,122.5 L725.0,125.6 L726.3,127.9 L727.5,129.8 L728.7,131.8 L729.9,133.7 L731.1,135.2 L732.3,136.1 L733.6,136.5 L734.8,136.4 L736.0,136.0 L737.2,135.2 L738.4,134.2 L739.6,133.7 L740.9,134.6 L742.1,135.9 L743.3,137.3 L744.5,138.1 L745.7,138.4 L746.9,138.4 L748.2,138.1 L749.4,137.5 L750.6,136.6 L751.8,135.9 L753.0,135.1 L754.2,134.5 L755.5,133.5 L756.7,132.3 L757.9,131.0 L759.1,129.3 L760.3,127.5 L761.5,126.0 L762.8,124.9 L764.0,123.7 L765.2,122.6 L766.4,122.3 L767.6,122.7 L768.8,123.4 L770.0,124.5 L771.3,125.8 L772.5,127.8 L773.7,130.1 L774.9,131.4 L776.1,132.2 L777.3,132.8 L778.6,133.4 L779.8,133.9 L781.0,134.3 L782.2,134.6 L783.4,135.1 L784.6,136.0 L785.9,137.1 L787.1,138.9 L788.3,141.1 L789.5,143.5 L790.7,147.0 L791.9,150.6 L793.2,153.2 L794.4,155.0 L795.6,156.1 L796.8,157.4 L798.0,159.1 L799.2,161.2 L800.5,163.3 L801.7,165.2 L802.9,165.9 L804.1,166.6 L805.3,167.3 L806.5,167.8 L807.8,168.1 L809.0,167.8 L810.2,167.1 L811.4,166.1 L812.6,165.1 L813.8,164.5 L815.1,164.5 L816.3,164.9 L817.5,165.5 L818.7,166.4 L819.9,167.3 L821.1,168.3 L822.4,169.2 L823.6,170.7 L824.8,172.9 L826.0,175.6 L827.2,178.6 L828.4,181.3 L829.7,183.3 L830.9,185.4 L832.1,187.4" stroke="#d44c3c" stroke-width="0.8" fill="none"/>
<path d="M0.0,267.1 L1.2,266.1 L2.4,266.1 L3.6,266.4 L4.9,266.9 L6.1,267.4 L7.3,267.8 L8.5,268.1 L9.7,268.5 L10.9,269.2 L12.2,269.7 L13.4,270.0 L14.6,271.1 L15.8,272.8 L17.0,275.5 L18.2,278.2 L19.5,279.9 L20.7,281.0 L21.9,282.3 L23.1,284.1 L24.3,286.2 L25.5,287.5 L26.8,287.3 L28.0,286.3 L29.2,286.3 L30.4,286.8 L31.6,286.8 L32.8,286.4 L34.1,285.4 L35.3,284.2 L36.5,282.9 L37.7,281.2 L38.9,279.7 L40.1,278.2 L41.4,277.0 L42.6,276.1 L43.8,275.3 L45.0,274.6 L46.2,273.7 L47.4,272.7 L48.7,271.6 L49.9,270.9 L51.1,270.4 L52.3,270.1 L53.5,269.9 L54.7,269.7 L56.0,269.4 L57.2,269.0 L58.4,268.8 L59.6,268.7 L60.8,268.4 L62.0,268.2 L63.3,267.9 L64.5,267.5 L65.7,266.9 L66.9,266.0 L68.1,265.0 L69.3,263.9 L70.6,262.5 L71.8,260.9 L73.0,259.1 L74.2,256.8 L75.4,254.2 L76.6,251.6 L77.9,249.4 L79.1,247.7 L80.3,246.3 L81.5,244.6 L82.7,242.6 L83.9,240.5 L85.2,238.4 L86.4,236.6 L87.6,235.0 L88.8,233.6 L90.0,232.2 L91.2,230.9 L92.5,229.7 L93.7,228.9 L94.9,228.1 L96.1,227.3 L97.3,226.2 L98.5,225.2 L99.8,224.2 L101.0,223.4 L102.2,222.7 L103.4,221.8 L104.6,220.7 L105.8,219.4 L107.1,218.2 L108.3,216.9 L109.5,215.7 L110.7,214.7 L111.9,213.9 L113.1,213.1 L114.4,212.6 L115.6,212.3 L116.8,212.1 L118.0,211.9 L119.2,212.0 L120.4,212.4 L121.7,212.8 L122.9,213.2 L124.1,213.6 L125.3,213.6 L126.5,213.3 L127.7,212.5 L128.9,211.7 L130.2,211.0 L131.4,209.9 L132.6,208.0 L133.8,205.1 L135.0,202.5 L136.2,200.1 L137.5,197.8 L138.7,195.4 L139.9,193.2 L141.1,191.1 L142.3,189.4 L143.5,187.9 L144.8,186.1 L146.0,184.2 L147.2,182.9 L148.4,182.2 L149.6,181.3 L150.8,180.2 L152.1,178.8 L153.3,177.7 L154.5,177.0 L155.7,176.3 L156.9,175.5 L158.1,174.8 L159.4,174.1 L160.6,173.5 L161.8,173.1 L163.0,172.7 L164.2,172.4 L165.4,172.2 L166.7,171.7 L167.9,170.8 L169.1,169.5 L170.3,168.1 L171.5,167.8 L172.7,167.7 L174.0,167.2 L175.2,166.1 L176.4,165.2 L177.6,164.2 L178.8,163.0 L180.0,161.4 L181.3,159.5 L182.5,157.3 L183.7,155.2 L184.9,153.4 L186.1,152.1 L187.3,151.7 L188.6,151.2 L189.8,150.6 L191.0,150.1 L192.2,149.9 L193.4,150.0 L194.6,150.1 L195.9,149.6 L197.1,148.8 L198.3,147.8 L199.5,147.1 L200.7,146.2 L201.9,145.5 L203.2,145.0 L204.4,144.7 L205.6,144.7 L206.8,145.1 L208.0,145.5 L209.2,145.7 L210.5,146.6 L211.7,147.9 L212.9,149.3 L214.1,150.9 L215.3,152.3 L216.5,153.4 L217.8,154.3 L219.0,155.0 L220.2,155.7 L221.4,156.2 L222.6,156.7 L223.8,157.4 L225.1,157.7 L226.3,157.7 L227.5,157.5 L228.7,157.4 L229.9,157.6 L231.1,158.0 L232.4,158.5 L233.6,159.0 L234.8,160.2 L236.0,161.7 L237.2,162.4 L238.4,162.5 L239.7,162.4 L240.9,162.2 L242.1,162.1 L243.3,161.8 L244.5,161.5 L245.7,161.1 L247.0,160.6 L248.2,160.0 L249.4,158.8 L250.6,157.3 L251.8,155.6 L253.0,154.4 L254.3,153.3 L255.5,152.0 L256.7,150.6 L257.9,149.8 L259.1,149.4 L260.3,149.8 L261.5,150.8 L262.8,152.2 L264.0,152.9 L265.2,153.3 L266.4,154.0 L267.6,154.6 L268.8,155.3 L270.1,155.9 L271.3,156.3 L272.5,156.6 L273.7,156.4 L274.9,155.9 L276.1,155.1 L277.4,154.9 L278.6,155.2 L279.8,156.3 L281.0,157.1 L282.2,157.8 L283.4,158.6 L284.7,159.2 L285.9,159.5 L287.1,159.7 L288.3,159.5 L289.5,159.4 L290.7,159.8 L292.0,160.5 L293.2,161.4 L294.4,162.4 L295.6,163.5 L296.8,165.1 L298.0,167.2 L299.3,168.6 L300.5,168.7 L301.7,168.0 L302.9,167.2 L304.1,166.3 L305.3,165.3 L306.6,164.0 L307.8,162.6 L309.0,161.4 L310.2,160.4 L311.4,159.3 L312.6,158.4 L313.9,157.7 L315.1,156.9 L316.3,156.2 L317.5,155.6 L318.7,155.0 L319.9,154.6 L321.2,154.1 L322.4,153.6 L323.6,153.1 L324.8,152.6 L326.0,152.4 L327.2,152.3 L328.5,152.5 L329.7,152.9 L330.9,153.2 L332.1,153.1 L333.3,152.5 L334.5,151.5 L335.8,150.4 L337.0,149.2 L338.2,148.3 L339.4,147.5 L340.6,147.3 L341.8,147.2 L343.1,147.1 L344.3,147.1 L345.5,147.1 L346.7,147.0 L347.9,146.7 L349.1,146.2 L350.4,145.7 L351.6,145.6 L352.8,145.5 L354.0,145.6 L355.2,145.6 L356.4,145.4 L357.7,145.0 L358.9,144.2 L360.1,143.0 L361.3,142.0 L362.5,140.4 L363.7,138.4 L365.0,135.3 L366.2,132.1 L367.4,129.4 L368.6,127.1 L369.8,125.1 L371.0,123.4 L372.3,121.5 L373.5,119.5 L374.7,117.0 L375.9,113.9 L377.1,111.1 L378.3,109.1 L379.6,107.6 L380.8,106.6 L382.0,106.0 L383.2,105.5 L384.4,104.7 L385.6,103.7 L386.8,103.0 L388.1,102.2 L389.3,101.1 L390.5,100.1 L391.7,99.3 L392.9,99.0 L394.1,98.8 L395.4,98.6 L396.6,98.5 L397.8,98.3 L399.0,98.1 L400.2,97.7 L401.4,97.0 L402.7,96.9 L403.9,97.2 L405.1,97.4 L406.3,97.1 L407.5,96.3 L408.7,95.7 L410.0,95.5 L411.2,95.4 L412.4,95.3 L413.6,95.0 L414.8,94.8 L416.0,95.5 L417.3,96.3 L418.5,97.0 L419.7,97.2 L420.9,97.2 L422.1,97.0 L423.3,96.7 L424.6,96.3 L425.8,95.8 L427.0,95.5 L428.2,95.2 L429.4,95.2 L430.6,95.4 L431.9,95.8 L433.1,96.3 L434.3,96.6 L435.5,96.8 L436.7,97.0 L437.9,97.5 L439.2,97.3 L440.4,97.8 L441.6,98.7 L442.8,100.0 L444.0,101.3 L445.2,102.6 L446.5,104.2 L447.7,105.8 L448.9,107.0 L450.1,107.7 L451.3,108.2 L452.5,108.4 L453.8,108.6 L455.0,109.2 L456.2,109.7 L457.4,110.5 L458.6,111.1 L459.8,111.4 L461.1,111.3 L462.3,111.1 L463.5,110.9 L464.7,110.5 L465.9,109.8 L467.1,108.8 L468.4,108.0 L469.6,107.3 L470.8,106.7 L472.0,106.0 L473.2,105.1 L474.4,104.1 L475.7,102.7 L476.9,101.1 L478.1,99.1 L479.3,97.5 L480.5,96.8 L481.7,96.4 L483.0,95.9 L484.2,95.3 L485.4,94.4 L486.6,93.1 L487.8,91.3 L489.0,89.7 L490.3,89.1 L491.5,89.4 L492.7,90.3 L493.9,91.0 L495.1,91.7 L496.3,92.3 L497.6,92.9 L498.8,93.4 L500.0,93.8 L501.2,93.9 L502.4,94.1 L503.6,94.7 L504.9,95.8 L506.1,97.1 L507.3,98.3 L508.5,99.6 L509.7,101.0 L510.9,102.8 L512.2,104.2 L513.4,105.3 L514.6,106.4 L515.8,107.4 L517.0,108.6 L518.2,110.0 L519.4,111.0 L520.7,110.4 L521.9,110.0 L523.1,110.1 L524.3,110.2 L525.5,110.3 L526.7,110.6 L528.0,111.0 L529.2,112.1 L530.4,113.6 L531.6,115.3 L532.8,117.1 L534.0,118.7 L535.3,119.7 L536.5,120.5 L537.7,121.1 L538.9,121.5 L540.1,121.6 L541.3,121.9 L542.6,122.4 L543.8,123.3 L545.0,124.4 L546.2,125.6 L547.4,127.3 L548.6,128.6 L549.9,129.7 L551.1,130.8 L552.3,131.6 L553.5,132.7 L554.7,133.9 L555.9,135.0 L557.2,135.3 L558.4,135.3 L559.6,135.2 L560.8,135.1 L562.0,134.7 L563.2,134.0 L564.5,133.3 L565.7,133.1 L566.9,133.2 L568.1,133.4 L569.3,133.1 L570.5,132.2 L571.8,131.6 L573.0,131.6 L574.2,131.7 L575.4,132.0 L576.6,132.1 L577.8,132.1 L579.1,132.0 L580.3,131.8 L581.5,131.4 L582.7,130.7 L583.9,130.0 L585.1,129.7 L586.4,129.7 L587.6,129.3 L588.8,128.5 L590.0,127.7 L591.2,126.6 L592.4,125.4 L593.7,124.1 L594.9,122.8 L596.1,121.6 L597.3,120.3 L598.5,119.1 L599.7,118.4 L601.0,117.8 L602.2,116.9 L603.4,116.0 L604.6,115.4 L605.8,114.9 L607.0,114.3 L608.3,113.8 L609.5,113.3 L610.7,112.8 L611.9,112.2 L613.1,111.5 L614.3,110.7 L615.6,110.0 L616.8,109.0 L618.0,108.2 L619.2,107.4 L620.4,106.9 L621.6,106.6 L622.9,106.7 L624.1,107.1 L625.3,107.3 L626.5,107.7 L627.7,108.0 L628.9,108.2 L630.2,108.4 L631.4,108.6 L632.6,109.4 L633.8,110.4 L635.0,111.3 L636.2,112.2 L637.5,113.1 L638.7,114.0 L639.9,115.0 L641.1,115.6 L642.3,116.2 L643.5,117.0 L644.7,118.1 L646.0,119.7 L647.2,121.1 L648.4,122.4 L649.6,123.5 L650.8,124.6 L652.0,125.6 L653.3,126.5 L654.5,127.1 L655.7,127.1 L656.9,126.5 L658.1,125.4 L659.3,124.2 L660.6,123.1 L661.8,121.9 L663.0,120.8 L664.2,119.4 L665.4,117.8 L666.6,115.9 L667.9,113.8 L669.1,111.6 L670.3,109.0 L671.5,106.1 L672.7,103.4 L673.9,100.7 L675.2,98.3 L676.4,96.3 L677.6,94.1 L678.8,91.4 L680.0,89.2 L681.2,87.4 L682.5,85.4 L683.7,83.4 L684.9,81.5 L686.1,80.1 L687.3,79.2 L688.5,78.7 L689.8,78.2 L691.0,77.7 L692.2,77.3 L693.4,76.7 L694.6,76.7 L695.8,76.9 L697.1,77.5 L698.3,78.4 L699.5,80.9 L700.7,85.1 L701.9,88.6 L703.1,91.3 L704.4,94.1 L705.6,96.4 L706.8,98.2 L708.0,99.3 L709.2,100.2 L710.4,101.2 L711.7,102.3 L712.9,103.5 L714.1,104.9 L715.3,106.4 L716.5,107.7 L717.7,109.0 L719.0,110.6 L720.2,112.5 L721.4,114.6 L722.6,117.1 L723.8,120.6 L725.0,123.5 L726.3,125.7 L727.5,127.6 L728.7,129.6 L729.9,131.5 L731.1,133.0 L732.3,134.0 L733.6,134.5 L734.8,134.6 L736.0,134.4 L737.2,133.8 L738.4,133.0 L739.6,132.6 L740.9,133.5 L742.1,134.7 L743.3,136.1 L744.5,136.9 L745.7,137.3 L746.9,137.3 L748.2,137.1 L749.4,136.6 L750.6,135.9 L751.8,135.3 L753.0,134.6 L754.2,134.0 L755.5,133.2 L756.7,132.1 L757.9,131.0 L759.1,129.4 L760.3,127.9 L761.5,126.4 L762.8,125.4 L764.0,124.3 L765.2,123.3 L766.4,123.0 L767.6,123.3 L768.8,123.9 L770.0,124.9 L771.3,126.1 L772.5,127.9 L773.7,129.9 L774.9,131.2 L776.1,131.9 L777.3,132.5 L778.6,133.1 L779.8,133.6 L781.0,134.0 L782.2,134.3 L783.4,134.8 L784.6,135.6 L785.9,136.7 L787.1,138.3 L788.3,140.4 L789.5,142.6 L790.7,145.8 L791.9,149.1 L793.2,151.6 L794.4,153.3 L795.6,154.5 L796.8,155.7 L798.0,157.4 L799.2,159.4 L800.5,161.4 L801.7,163.3 L802.9,164.0 L804.1,164.8 L805.3,165.5 L806.5,166.2 L807.8,166.5 L809.0,166.4 L810.2,165.9 L811.4,165.0 L812.6,164.2 L813.8,163.7 L815.1,163.8 L816.3,164.2 L817.5,164.8 L818.7,165.7 L819.9,166.6 L821.1,167.5 L822.4,168.3 L823.6,169.8 L824.8,171.9 L826.0,174.3 L827.2,177.1 L828.4,179.7 L829.7,181.6 L830.9,183.6 L832.1,185.5" stroke="#b8322a" stroke-width="0.8" fill="none"/>
<path d="M0.0,267.1 L1.2,266.2 L2.4,266.2 L3.6,266.5 L4.9,267.0 L6.1,267.5 L7.3,267.8 L8.5,268.0 L9.7,268.4 L10.9,269.1 L12.2,269.5 L13.4,269.9 L14.6,270.8 L15.8,272.5 L17.0,274.9 L18.2,277.4 L19.5,279.0 L20.7,280.1 L21.9,281.3 L23.1,283.0 L24.3,285.0 L25.5,286.3 L26.8,286.1 L28.0,285.3 L29.2,285.4 L30.4,285.9 L31.6,286.0 L32.8,285.6 L34.1,284.8 L35.3,283.8 L36.5,282.6 L37.7,281.0 L38.9,279.7 L40.1,278.4 L41.4,277.2 L42.6,276.4 L43.8,275.7 L45.0,275.0 L46.2,274.2 L47.4,273.2 L48.7,272.2 L49.9,271.5 L51.1,271.0 L52.3,270.7 L53.5,270.5 L54.7,270.2 L56.0,269.9 L57.2,269.5 L58.4,269.3 L59.6,269.2 L60.8,268.9 L62.0,268.7 L63.3,268.3 L64.5,267.9 L65.7,267.4 L66.9,266.5 L68.1,265.6 L69.3,264.5 L70.6,263.3 L71.8,261.7 L73.0,260.0 L74.2,257.9 L75.4,255.5 L76.6,253.1 L77.9,250.9 L79.1,249.3 L80.3,247.9 L81.5,246.3 L82.7,244.4 L83.9,242.3 L85.2,240.3 L86.4,238.5 L87.6,236.9 L88.8,235.5 L90.0,234.0 L91.2,232.7 L92.5,231.5 L93.7,230.6 L94.9,229.8 L96.1,228.9 L97.3,227.8 L98.5,226.8 L99.8,225.8 L101.0,224.9 L102.2,224.1 L103.4,223.2 L104.6,222.1 L105.8,220.8 L107.1,219.6 L108.3,218.3 L109.5,217.1 L110.7,216.1 L111.9,215.3 L113.1,214.4 L114.4,213.9 L115.6,213.6 L116.8,213.3 L118.0,213.0 L119.2,213.0 L120.4,213.3 L121.7,213.6 L122.9,214.0 L124.1,214.2 L125.3,214.2 L126.5,213.8 L127.7,213.1 L128.9,212.4 L130.2,211.6 L131.4,210.6 L132.6,208.8 L133.8,206.1 L135.0,203.7 L136.2,201.4 L137.5,199.2 L138.7,196.9 L139.9,194.8 L141.1,192.8 L142.3,191.1 L143.5,189.6 L144.8,187.8 L146.0,186.0 L147.2,184.7 L148.4,183.9 L149.6,183.0 L150.8,181.8 L152.1,180.4 L153.3,179.3 L154.5,178.5 L155.7,177.8 L156.9,176.9 L158.1,176.2 L159.4,175.4 L160.6,174.8 L161.8,174.3 L163.0,173.9 L164.2,173.5 L165.4,173.1 L166.7,172.6 L167.9,171.8 L169.1,170.5 L170.3,169.2 L171.5,168.8 L172.7,168.7 L174.0,168.1 L175.2,167.1 L176.4,166.2 L177.6,165.2 L178.8,164.0 L180.0,162.6 L181.3,160.8 L182.5,158.7 L183.7,156.7 L184.9,154.9 L186.1,153.6 L187.3,153.2 L188.6,152.6 L189.8,152.1 L191.0,151.5 L192.2,151.2 L193.4,151.2 L194.6,151.2 L195.9,150.7 L197.1,149.9 L198.3,148.9 L199.5,148.2 L200.7,147.4 L201.9,146.6 L203.2,146.1 L204.4,145.8 L205.6,145.7 L206.8,146.0 L208.0,146.2 L209.2,146.4 L210.5,147.2 L211.7,148.3 L212.9,149.5 L214.1,151.0 L215.3,152.3 L216.5,153.3 L217.8,154.1 L219.0,154.8 L220.2,155.4 L221.4,155.8 L222.6,156.3 L223.8,157.0 L225.1,157.3 L226.3,157.3 L227.5,157.2 L228.7,157.0 L229.9,157.2 L231.1,157.7 L232.4,158.1 L233.6,158.6 L234.8,159.7 L236.0,161.1 L237.2,161.8 L238.4,161.9 L239.7,161.8 L240.9,161.7 L242.1,161.6 L243.3,161.4 L244.5,161.1 L245.7,160.7 L247.0,160.3 L248.2,159.8 L249.4,158.7 L250.6,157.3 L251.8,155.8 L253.0,154.7 L254.3,153.7 L255.5,152.4 L256.7,151.2 L257.9,150.3 L259.1,150.0 L260.3,150.3 L261.5,151.2 L262.8,152.5 L264.0,153.1 L265.2,153.5 L266.4,154.0 L267.6,154.6 L268.8,155.3 L270.1,155.8 L271.3,156.2 L272.5,156.5 L273.7,156.3 L274.9,155.9 L276.1,155.1 L277.4,155.0 L278.6,155.3 L279.8,156.2 L281.0,157.0 L282.2,157.6 L283.4,158.4 L284.7,158.9 L285.9,159.3 L287.1,159.4 L288.3,159.3 L289.5,159.2 L290.7,159.5 L292.0,160.2 L293.2,161.0 L294.4,162.0 L295.6,163.0 L296.8,164.5 L298.0,166.4 L299.3,167.8 L300.5,167.9 L301.7,167.4 L302.9,166.6 L304.1,165.9 L305.3,164.9 L306.6,163.8 L307.8,162.5 L309.0,161.5 L310.2,160.5 L311.4,159.5 L312.6,158.7 L313.9,158.0 L315.1,157.3 L316.3,156.6 L317.5,156.0 L318.7,155.4 L319.9,155.0 L321.2,154.5 L322.4,154.0 L323.6,153.6 L324.8,153.1 L326.0,152.9 L327.2,152.8 L328.5,152.9 L329.7,153.2 L330.9,153.5 L332.1,153.4 L333.3,152.9 L334.5,152.0 L335.8,150.9 L337.0,149.7 L338.2,148.9 L339.4,148.1 L340.6,147.9 L341.8,147.7 L343.1,147.6 L344.3,147.6 L345.5,147.6 L346.7,147.4 L347.9,147.1 L349.1,146.6 L350.4,146.1 L351.6,145.9 L352.8,145.8 L354.0,145.9 L355.2,145.9 L356.4,145.7 L357.7,145.3 L358.9,144.5 L360.1,143.5 L361.3,142.5 L362.5,141.0 L363.7,139.1 L365.0,136.3 L366.2,133.3 L367.4,130.7 L368.6,128.6 L369.8,126.7 L371.0,125.0 L372.3,123.2 L373.5,121.2 L374.7,118.9 L375.9,115.9 L377.1,113.3 L378.3,111.3 L379.6,109.8 L380.8,108.7 L382.0,108.0 L383.2,107.5 L384.4,106.6 L385.6,105.5 L386.8,104.7 L388.1,103.9 L389.3,102.8 L390.5,101.7 L391.7,100.9 L392.9,100.5 L394.1,100.2 L395.4,100.0 L396.6,99.8 L397.8,99.5 L399.0,99.2 L400.2,98.8 L401.4,98.1 L402.7,97.9 L403.9,98.1 L405.1,98.2 L406.3,97.9 L407.5,97.1 L408.7,96.5 L410.0,96.2 L411.2,96.1 L412.4,95.9 L413.6,95.6 L414.8,95.4 L416.0,96.0 L417.3,96.7 L418.5,97.3 L419.7,97.4 L420.9,97.4 L422.1,97.2 L423.3,97.0 L424.6,96.6 L425.8,96.1 L427.0,95.8 L428.2,95.5 L429.4,95.4 L430.6,95.6 L431.9,96.0 L433.1,96.4 L434.3,96.7 L435.5,96.9 L436.7,97.1 L437.9,97.5 L439.2,97.3 L440.4,97.7 L441.6,98.7 L442.8,99.8 L444.0,101.0 L445.2,102.2 L446.5,103.7 L447.7,105.2 L448.9,106.3 L450.1,107.0 L451.3,107.5 L452.5,107.7 L453.8,107.9 L455.0,108.5 L456.2,109.0 L457.4,109.7 L458.6,110.3 L459.8,110.6 L461.1,110.6 L462.3,110.5 L463.5,110.3 L464.7,110.0 L465.9,109.3 L467.1,108.5 L468.4,107.7 L469.6,107.1 L470.8,106.6 L472.0,105.9 L473.2,105.1 L474.4,104.2 L475.7,103.0 L476.9,101.5 L478.1,99.6 L479.3,98.2 L480.5,97.4 L481.7,97.1 L483.0,96.6 L484.2,96.0 L485.4,95.1 L486.6,93.9 L487.8,92.2 L489.0,90.7 L490.3,90.1 L491.5,90.4 L492.7,91.1 L493.9,91.7 L495.1,92.3 L496.3,92.8 L497.6,93.4 L498.8,93.8 L500.0,94.1 L501.2,94.2 L502.4,94.4 L503.6,94.9 L504.9,95.9 L506.1,97.1 L507.3,98.2 L508.5,99.3 L509.7,100.7 L510.9,102.3 L512.2,103.7 L513.4,104.6 L514.6,105.7 L515.8,106.7 L517.0,107.9 L518.2,109.2 L519.4,110.1 L520.7,109.6 L521.9,109.3 L523.1,109.5 L524.3,109.6 L525.5,109.7 L526.7,110.0 L528.0,110.5 L529.2,111.5 L530.4,112.9 L531.6,114.5 L532.8,116.2 L534.0,117.7 L535.3,118.7 L536.5,119.5 L537.7,120.1 L538.9,120.5 L540.1,120.6 L541.3,120.9 L542.6,121.5 L543.8,122.3 L545.0,123.4 L546.2,124.6 L547.4,126.2 L548.6,127.4 L549.9,128.5 L551.1,129.6 L552.3,130.4 L553.5,131.5 L554.7,132.7 L555.9,133.7 L557.2,134.2 L558.4,134.2 L559.6,134.2 L560.8,134.2 L562.0,133.9 L563.2,133.3 L564.5,132.8 L565.7,132.6 L566.9,132.7 L568.1,132.9 L569.3,132.7 L570.5,131.9 L571.8,131.4 L573.0,131.3 L574.2,131.5 L575.4,131.7 L576.6,131.8 L577.8,131.9 L579.1,131.8 L580.3,131.6 L581.5,131.2 L582.7,130.6 L583.9,130.0 L585.1,129.7 L586.4,129.7 L587.6,129.3 L588.8,128.6 L590.0,127.8 L591.2,126.8 L592.4,125.7 L593.7,124.5 L594.9,123.3 L596.1,122.1 L597.3,120.9 L598.5,119.8 L599.7,119.1 L601.0,118.5 L602.2,117.6 L603.4,116.8 L604.6,116.2 L605.8,115.7 L607.0,115.1 L608.3,114.6 L609.5,114.0 L610.7,113.5 L611.9,113.0 L613.1,112.3 L614.3,111.5 L615.6,110.8 L616.8,109.9 L618.0,109.1 L619.2,108.3 L620.4,107.7 L621.6,107.4 L622.9,107.5 L624.1,107.8 L625.3,108.0 L626.5,108.2 L627.7,108.5 L628.9,108.6 L630.2,108.8 L631.4,109.0 L632.6,109.7 L633.8,110.5 L635.0,111.4 L636.2,112.2 L637.5,113.0 L638.7,113.8 L639.9,114.8 L641.1,115.3 L642.3,115.9 L643.5,116.6 L644.7,117.6 L646.0,119.1 L647.2,120.4 L648.4,121.7 L649.6,122.7 L650.8,123.8 L652.0,124.7 L653.3,125.5 L654.5,126.2 L655.7,126.3 L656.9,125.8 L658.1,124.8 L659.3,123.7 L660.6,122.7 L661.8,121.7 L663.0,120.7 L664.2,119.4 L665.4,117.9 L666.6,116.2 L667.9,114.2 L669.1,112.2 L670.3,109.7 L671.5,107.1 L672.7,104.5 L673.9,102.0 L675.2,99.7 L676.4,97.8 L677.6,95.7 L678.8,93.2 L680.0,91.0 L681.2,89.3 L682.5,87.4 L683.7,85.4 L684.9,83.6 L686.1,82.2 L687.3,81.2 L688.5,80.6 L689.8,80.1 L691.0,79.6 L692.2,79.0 L693.4,78.4 L694.6,78.3 L695.8,78.4 L697.1,78.9 L698.3,79.5 L699.5,81.8 L700.7,85.6 L701.9,88.7 L703.1,91.2 L704.4,93.7 L705.6,95.9 L706.8,97.5 L708.0,98.5 L709.2,99.5 L710.4,100.4 L711.7,101.5 L712.9,102.6 L714.1,104.0 L715.3,105.4 L716.5,106.6 L717.7,107.9 L719.0,109.5 L720.2,111.2 L721.4,113.3 L722.6,115.6 L723.8,118.8 L725.0,121.7 L726.3,123.8 L727.5,125.7 L728.7,127.6 L729.9,129.4 L731.1,131.0 L732.3,132.1 L733.6,132.6 L734.8,132.8 L736.0,132.8 L737.2,132.4 L738.4,131.8 L739.6,131.4 L740.9,132.4 L742.1,133.6 L743.3,134.9 L744.5,135.6 L745.7,136.1 L746.9,136.2 L748.2,136.1 L749.4,135.7 L750.6,135.0 L751.8,134.5 L753.0,134.0 L754.2,133.5 L755.5,132.8 L756.7,131.8 L757.9,130.8 L759.1,129.4 L760.3,128.0 L761.5,126.7 L762.8,125.7 L764.0,124.8 L765.2,123.8 L766.4,123.5 L767.6,123.8 L768.8,124.3 L770.0,125.2 L771.3,126.3 L772.5,127.9 L773.7,129.8 L774.9,131.0 L776.1,131.7 L777.3,132.2 L778.6,132.8 L779.8,133.3 L781.0,133.7 L782.2,134.0 L783.4,134.5 L784.6,135.3 L785.9,136.3 L787.1,137.8 L788.3,139.7 L789.5,141.8 L790.7,144.8 L791.9,147.9 L793.2,150.2 L794.4,151.9 L795.6,153.0 L796.8,154.2 L798.0,155.8 L799.2,157.8 L800.5,159.7 L801.7,161.5 L802.9,162.3 L804.1,163.1 L805.3,163.9 L806.5,164.6 L807.8,165.0 L809.0,165.0 L810.2,164.6 L811.4,163.9 L812.6,163.3 L813.8,162.9 L815.1,163.0 L816.3,163.4 L817.5,164.0 L818.7,164.9 L819.9,165.7 L821.1,166.7 L822.4,167.5 L823.6,168.9 L824.8,170.8 L826.0,173.1 L827.2,175.7 L828.4,178.2 L829.7,180.0 L830.9,181.9 L832.1,183.8" stroke="#8e1e18" stroke-width="2.4" fill="none"/>
<path d="M0.6,252.4V264.7M1.2,249.1V253.3M4.3,267.6V270.5M6.1,269.2V275.5M6.7,266.6V270.9M7.3,268.8V270.4M7.9,267.6V271.2M11.6,272.2V276.3M12.8,271.3V275.7M18.2,305.6V312.6M18.9,303.1V306.8M19.5,293.7V304.8M20.1,292.3V297.6M20.7,292.1V295.0M24.9,307.1V314.7M25.5,297.8V309.1M26.2,288.2V303.3M26.8,279.1V290.8M27.4,269.4V280.5M31.0,289.0V293.3M31.6,285.6V291.8M32.2,279.5V286.7M32.8,278.1V283.2M33.5,273.7V279.6M34.1,268.5V277.4M34.7,269.5V272.0M35.3,268.0V271.8M35.9,267.7V269.8M36.5,260.2V269.3M37.1,256.2V267.3M37.7,256.6V262.0M38.9,260.2V261.3M39.5,257.3V260.9M40.1,258.0V261.0M43.2,262.4V265.5M43.8,263.2V267.5M45.0,262.5V264.6M45.6,261.7V265.1M46.2,258.3V263.8M46.8,260.0V261.7M47.4,257.9V261.2M48.1,254.3V258.5M50.5,261.4V262.7M54.1,263.5V267.8M54.7,263.4V266.6M55.4,263.2V266.4M56.0,263.5V267.4M56.6,263.2V264.9M57.2,259.5V263.5M59.6,266.1V268.3M60.2,265.0V266.5M60.8,262.5V267.5M62.0,261.8V264.6M62.7,261.3V266.6M63.9,261.3V263.8M65.1,258.0V264.4M65.7,256.1V259.0M66.3,254.2V258.6M66.9,249.2V256.0M67.5,249.5V251.8M68.1,250.0V250.7M68.7,246.2V250.2M69.3,244.4V250.3M69.9,243.8V246.5M70.6,241.6V246.5M71.2,238.7V242.8M71.8,235.2V239.4M72.4,233.0V237.6M73.0,230.5V236.0M73.6,225.5V232.0M74.2,223.7V226.7M74.8,219.2V224.4M75.4,216.5V222.6M76.6,215.5V216.7M77.2,215.2V218.5M80.3,221.0V227.4M80.9,221.7V223.6M81.5,217.1V225.6M82.1,213.3V218.5M83.3,210.7V215.6M83.9,207.8V212.8M85.2,208.0V213.7M88.8,213.2V215.8M89.4,209.9V214.9M90.0,212.6V213.2M90.6,211.5V214.7M91.8,212.6V214.1M94.9,216.1V223.4M95.5,213.9V216.7M96.1,215.6V216.4M96.7,214.0V217.6M97.3,209.9V217.3M99.1,210.5V214.3M101.0,212.4V214.6M102.2,211.8V214.6M102.8,209.6V213.8M103.4,208.3V214.0M104.0,206.7V209.3M104.6,205.7V209.4M105.2,204.6V210.2M105.8,200.6V208.8M106.4,201.7V203.1M107.7,202.0V203.2M108.3,199.2V204.1M109.5,199.3V202.4M112.5,197.8V206.5M116.2,206.4V209.1M117.4,205.3V210.2M118.0,207.4V210.4M119.2,209.1V212.9M121.7,212.3V218.2M122.9,216.2V218.4M123.5,216.0V217.4M124.1,214.1V217.2M124.7,213.3V216.6M125.3,211.2V217.2M125.9,208.3V212.0M126.5,205.3V210.4M127.1,202.0V209.0M127.7,198.5V203.1M128.3,198.9V203.1M129.6,199.8V203.1M130.8,196.3V202.1M131.4,192.5V196.8M132.0,189.5V193.3M132.6,177.5V191.4M133.2,168.0V180.4M133.8,166.3V169.3M135.0,169.8V170.8M135.6,168.5V170.1M136.2,165.4V170.6M136.9,165.8V170.8M138.1,163.4V170.1M138.7,164.8V168.1M139.9,164.1V166.5M143.5,163.9V170.9M144.2,162.8V169.6M144.8,160.5V165.5M145.4,159.1V163.3M149.0,167.1V175.0M149.6,169.8V171.7M150.2,166.3V171.5M150.8,161.6V167.9M151.5,160.9V165.6M155.7,168.8V171.9M156.3,167.4V171.0M158.8,168.8V169.3M159.4,166.2V169.1M161.2,169.9V172.0M161.8,169.6V171.7M163.0,171.2V172.9M164.2,170.2V173.9M165.4,171.3V173.2M166.1,167.6V171.9M166.7,166.3V170.6M167.3,164.5V168.9M167.9,159.4V166.4M168.5,157.1V161.7M169.1,152.0V158.4M169.7,152.0V154.5M172.7,166.1V169.9M173.4,162.6V169.8M174.0,156.2V165.4M174.6,151.9V160.1M175.2,151.6V155.8M176.4,153.0V155.5M177.0,151.8V154.3M178.2,145.6V152.9M178.8,144.6V149.0M179.4,140.1V145.4M180.0,139.5V143.7M180.7,135.6V140.9M181.3,134.2V136.7M181.9,129.2V134.9M182.5,127.3V130.7M183.7,126.3V130.6M188.0,142.8V147.4M188.6,142.2V143.7M189.2,140.7V142.9M190.4,141.8V143.1M191.0,138.5V143.4M192.8,147.5V149.3M194.6,147.0V150.5M195.2,144.6V149.3M195.9,139.1V146.1M196.5,135.9V141.9M197.1,133.8V137.3M197.7,134.1V138.1M198.3,131.7V135.9M200.1,133.3V138.4M200.7,133.2V135.0M203.8,137.4V137.9M205.0,138.8V141.7M207.4,148.5V150.4M208.0,145.0V151.0M208.6,143.9V146.4M212.3,160.5V163.8M214.7,167.2V172.0M215.9,167.2V169.2M216.5,163.3V168.9M217.8,163.4V166.1M218.4,160.4V165.2M220.2,159.1V165.1M220.8,161.0V162.6M221.4,160.0V163.5M224.4,161.4V167.4M225.1,160.2V162.1M225.7,156.8V162.8M226.3,154.9V158.2M227.5,155.5V157.6M228.1,155.2V156.4M231.7,162.6V167.8M232.4,165.0V166.7M233.0,162.8V166.1M236.0,177.3V184.6M236.6,174.0V179.7M237.2,167.9V176.0M237.8,166.3V170.3M238.4,164.3V166.9M239.0,161.8V165.1M239.7,160.8V163.8M240.9,160.5V162.4M241.5,159.9V165.3M242.7,160.8V163.7M243.3,158.9V162.1M244.5,156.6V162.0M245.7,156.8V158.3M246.3,153.3V157.6M247.6,155.0V157.9M248.2,149.0V155.1M248.8,145.3V154.0M249.4,143.8V147.6M250.0,142.1V147.0M250.6,135.9V142.7M251.2,133.9V137.5M254.3,139.7V141.8M254.9,135.3V143.1M255.5,134.9V136.4M256.1,133.7V137.1M262.8,165.8V171.7M263.4,163.1V169.0M264.0,157.6V164.2M264.6,156.8V159.1M267.6,160.7V162.4M269.5,160.9V164.6M270.7,160.2V162.1M271.3,159.0V160.8M271.9,157.8V161.5M272.5,157.5V160.2M273.1,153.1V160.0M273.7,149.3V155.1M274.3,148.3V153.9M274.9,147.3V149.1M275.5,142.8V148.7M276.1,141.6V146.7M280.4,166.2V169.5M281.0,162.2V167.1M281.6,162.8V165.4M283.4,167.1V169.0M284.1,164.8V168.2M284.7,163.9V165.0M285.3,162.8V165.6M285.9,162.6V163.1M286.5,160.3V163.9M287.1,158.2V165.1M287.7,158.2V160.1M288.3,154.9V159.3M294.4,172.0V174.9M298.7,188.0V194.2M299.3,183.2V189.6M299.9,174.6V185.6M300.5,164.9V176.4M301.1,161.2V167.5M301.7,158.9V162.1M302.3,157.7V160.2M302.9,154.3V162.7M304.7,151.2V160.8M305.3,152.8V155.1M306.0,149.0V153.8M306.6,148.0V151.5M307.2,148.0V149.1M307.8,144.8V151.6M310.2,147.2V151.3M310.8,144.1V149.0M312.0,146.3V150.4M313.3,149.6V151.8M313.9,148.7V151.2M314.5,145.0V149.7M315.1,147.0V149.8M316.3,146.6V148.4M317.5,148.4V150.7M318.1,147.0V148.8M320.5,145.8V151.1M321.2,146.0V148.2M321.8,146.3V147.6M323.6,145.8V148.0M324.2,145.0V146.5M325.4,144.3V148.9M327.2,148.8V152.3M330.3,156.8V159.2M330.9,151.1V159.3M331.5,153.0V155.2M332.1,149.3V155.3M332.7,145.8V150.2M333.3,143.2V148.1M333.9,138.4V143.7M334.5,137.9V140.1M335.1,135.1V139.7M335.8,131.5V139.1M336.4,133.8V136.5M337.0,133.4V135.5M338.8,136.6V139.0M341.2,144.8V149.7M342.4,144.2V147.5M343.7,146.9V149.1M344.9,147.9V150.6M345.5,146.4V150.9M346.1,145.2V148.3M346.7,141.2V147.4M347.3,143.5V146.9M347.9,141.8V145.1M349.1,139.5V144.0M349.7,139.0V142.3M352.2,142.9V147.3M354.6,147.4V150.5M355.2,146.5V151.1M355.8,144.7V147.4M356.4,141.0V145.3M357.0,142.1V142.9M357.7,139.4V143.3M358.3,135.5V140.7M358.9,131.9V137.9M359.5,128.5V134.5M360.1,129.3V130.8M361.3,126.3V132.6M361.9,122.9V129.6M362.5,118.9V125.8M363.1,114.6V121.6M363.7,110.6V118.8M364.3,100.7V112.9M365.0,91.8V102.5M365.6,91.0V99.2M366.2,91.5V94.3M368.0,96.8V99.1M369.8,98.3V101.1M371.0,98.7V103.5M371.6,97.5V100.5M372.3,93.2V99.2M372.9,94.1V96.3M373.5,89.9V96.4M374.1,87.8V91.2M374.7,82.1V90.4M375.3,75.3V82.8M375.9,70.5V78.1M383.2,95.4V99.2M383.8,92.1V96.1M384.4,90.6V93.0M385.0,87.8V95.1M386.2,89.2V93.1M388.1,89.6V93.8M388.7,85.8V91.1M389.3,81.3V90.4M394.8,94.2V96.3M396.6,93.3V98.7M397.2,92.2V96.0M398.4,91.2V96.0M399.0,90.6V96.1M399.6,89.1V93.9M400.8,87.7V94.5M401.4,86.7V88.3M404.5,96.2V102.8M405.1,94.6V100.6M405.7,94.0V97.4M406.3,89.8V96.3M406.9,84.9V92.7M407.5,82.5V88.2M410.6,92.1V95.1M411.8,93.3V95.9M412.4,92.8V94.6M413.0,91.3V94.9M413.6,86.2V94.7M414.2,89.0V90.0M417.9,104.8V108.1M418.5,102.5V105.9M419.1,95.0V104.8M419.7,97.1V99.9M420.3,95.6V99.5M421.5,93.6V99.4M422.1,91.1V96.3M422.7,91.9V94.7M424.0,89.2V94.3M425.2,88.6V93.7M425.8,88.2V92.4M427.6,86.9V91.7M429.4,91.1V93.8M431.9,97.2V99.6M434.3,95.0V102.8M434.9,96.2V100.4M437.9,97.3V105.3M438.6,93.0V98.8M439.2,91.5V96.0M443.4,114.6V115.8M447.7,122.5V128.7M448.3,120.8V124.8M448.9,120.1V121.7M449.5,114.6V122.2M450.1,116.5V118.8M450.7,113.3V117.2M451.9,110.8V115.9M452.5,110.3V117.0M455.0,116.1V117.8M455.6,115.1V118.3M458.0,121.2V124.0M458.6,118.3V124.5M459.8,114.9V121.4M460.4,113.5V117.7M461.1,110.7V116.5M462.3,110.0V113.4M463.5,110.6V115.2M464.1,109.8V111.5M464.7,103.8V112.2M465.3,104.0V107.8M465.9,103.1V104.8M466.5,98.6V104.6M467.1,98.4V100.8M467.7,96.2V101.6M470.8,98.2V104.0M472.0,97.8V100.4M472.6,92.1V99.2M473.2,95.0V97.6M473.8,92.7V96.3M474.4,90.9V95.9M475.0,85.3V92.8M475.7,86.0V89.3M476.3,79.7V88.9M476.9,77.7V84.6M477.5,75.5V80.2M478.1,74.1V79.5M481.7,90.8V93.0M482.3,89.6V93.1M483.0,86.9V89.8M483.6,86.6V89.1M484.8,83.5V87.0M485.4,79.8V85.4M486.0,76.7V81.9M486.6,74.1V78.7M487.2,67.7V76.0M487.8,64.3V70.8M492.7,96.6V98.9M493.3,97.5V99.0M493.9,94.9V98.0M495.1,96.9V100.1M495.7,95.5V99.2M498.2,96.1V98.5M498.8,94.9V97.6M499.4,93.6V97.3M500.6,92.2V97.5M507.3,108.6V114.3M511.5,118.9V123.3M512.2,117.2V123.7M512.8,115.4V120.2M513.4,115.2V117.7M515.2,115.7V120.2M517.0,119.3V123.3M518.8,125.7V127.3M519.4,114.4V127.6M520.1,104.8V118.2M520.7,97.0V105.6M523.7,110.7V111.9M524.3,107.4V110.9M534.0,135.9V140.1M534.7,131.2V139.3M535.3,129.6V134.1M536.5,128.2V134.1M537.1,128.3V131.4M537.7,128.7V129.6M538.9,124.5V129.3M539.5,123.4V128.2M540.1,120.9V125.8M547.4,146.6V149.4M548.0,145.1V150.3M548.6,144.8V148.0M549.3,142.2V145.7M550.5,142.6V145.3M551.1,143.5V150.3M551.7,141.7V146.5M552.3,141.3V143.8M554.7,148.6V150.4M555.9,145.1V153.2M556.6,140.9V146.5M557.2,137.3V144.0M557.8,134.5V139.3M558.4,133.8V137.4M559.0,133.1V138.6M559.6,133.6V135.2M560.8,130.9V136.2M561.4,130.0V135.8M562.0,126.0V131.0M562.6,124.3V129.7M563.2,124.2V127.2M563.9,122.4V126.3M568.1,135.1V139.3M568.7,131.9V136.8M569.3,126.8V137.6M569.9,123.7V129.2M570.5,118.2V123.9M576.0,135.6V139.6M576.6,132.7V138.8M577.2,134.4V136.1M578.4,131.0V137.0M579.1,131.0V134.7M580.3,129.6V133.4M580.9,129.3V133.1M581.5,127.5V131.9M582.1,126.3V131.4M582.7,124.6V127.1M583.3,122.6V126.3M586.4,131.3V133.3M587.0,127.6V132.0M587.6,124.7V129.1M588.2,120.8V127.7M588.8,120.9V122.7M589.4,119.4V124.3M590.0,116.0V121.0M590.6,115.7V118.9M591.2,114.3V120.2M591.8,112.2V115.8M592.4,112.5V113.6M593.0,111.0V113.9M593.7,108.8V112.6M594.3,106.0V109.4M596.1,106.9V110.9M596.7,103.5V109.6M597.3,105.1V108.0M597.9,104.1V107.2M601.0,109.3V112.3M601.6,107.0V112.4M602.2,105.2V108.1M602.8,105.0V107.0M604.6,108.1V112.4M606.4,107.4V111.4M607.0,106.7V109.6M607.6,106.8V109.9M608.9,107.2V109.3M610.1,106.6V109.1M611.9,104.8V108.2M612.5,103.5V105.8M613.7,101.1V104.4M614.3,101.0V103.0M614.9,99.6V101.9M615.6,99.8V103.9M616.2,98.1V103.0M616.8,96.5V98.5M618.6,95.5V100.1M620.4,97.9V100.9M624.1,108.7V112.5M624.7,109.6V111.5M627.7,108.2V113.4M628.3,107.2V112.2M629.5,110.8V112.5M630.2,108.1V111.7M630.8,105.9V111.7M635.0,122.0V123.9M636.8,122.6V123.6M639.9,125.0V131.1M640.5,123.4V128.4M641.1,120.3V126.8M646.6,139.2V143.0M647.2,138.5V140.9M649.0,136.6V143.4M650.2,137.8V141.9M651.4,140.0V143.7M652.0,138.0V143.2M653.9,140.0V142.3M654.5,134.8V142.2M655.1,133.1V136.5M655.7,128.0V134.2M656.3,123.3V130.4M656.9,120.1V127.8M657.5,116.9V122.8M658.1,113.9V118.6M658.7,112.8V115.9M660.6,113.6V114.7M661.2,111.7V114.3M663.0,109.2V113.0M663.6,107.7V111.3M664.2,103.4V109.9M664.8,101.1V107.1M665.4,101.7V104.2M666.0,98.8V104.1M666.6,95.4V102.3M667.3,92.4V97.2M667.9,91.5V94.3M668.5,88.8V92.3M669.1,86.9V90.9M669.7,79.7V90.6M670.3,78.5V82.6M670.9,74.0V82.5M672.1,73.4V78.5M672.7,70.2V75.9M673.3,70.5V73.7M673.9,70.4V72.1M676.4,71.0V77.4M677.0,68.4V73.0M677.6,64.3V70.4M678.2,60.0V66.4M678.8,58.7V61.1M681.9,60.6V66.9M682.5,55.9V62.2M683.1,57.0V62.1M683.7,55.8V59.2M684.3,56.1V56.4M688.5,68.3V70.8M689.8,67.9V69.9M691.6,69.0V71.5M692.2,65.8V70.1M692.8,65.8V68.1M700.7,130.4V137.3M701.3,128.7V133.4M701.9,125.1V131.2M702.5,121.1V128.4M705.0,121.4V129.7M705.6,120.5V124.8M706.2,118.2V123.6M706.8,115.9V120.6M707.4,111.6V118.8M708.0,108.8V113.4M711.0,112.4V114.6M712.3,114.9V117.7M714.7,121.0V125.4M715.9,120.5V125.9M717.1,124.0V124.6M720.2,134.4V138.4M724.4,158.1V168.6M725.0,157.0V162.8M725.6,153.4V158.5M726.3,148.5V154.5M727.5,149.2V153.1M729.3,153.3V156.8M729.9,151.3V158.3M731.1,149.0V155.0M731.7,146.3V150.3M732.3,143.3V147.5M732.9,139.7V145.6M733.6,137.0V141.8M734.2,134.9V140.4M734.8,134.1V135.8M735.4,132.9V135.1M736.0,129.5V136.1M736.6,125.6V131.8M737.2,123.7V128.6M737.8,122.9V126.6M738.4,120.6V124.3M739.0,118.9V124.5M743.3,151.6V154.7M743.9,148.6V153.3M744.5,144.3V150.7M745.1,142.4V153.1M745.7,142.9V145.9M746.3,140.5V145.4M746.9,139.8V142.0M747.5,137.6V142.6M748.2,137.2V138.8M748.8,133.0V137.5M749.4,132.6V134.7M750.0,129.5V134.3M750.6,128.2V130.9M751.8,129.2V133.6M752.4,126.8V133.4M754.2,128.9V130.9M754.8,126.5V131.7M755.5,124.5V126.9M756.1,122.1V126.1M756.7,118.5V123.3M757.9,116.0V119.9M758.5,113.0V116.8M759.1,108.0V113.3M759.7,107.4V110.2M760.3,107.8V109.4M760.9,107.4V110.5M763.4,109.8V113.5M764.6,106.5V112.1M773.7,149.5V152.2M774.3,143.0V150.9M774.9,140.1V144.3M775.5,136.8V144.6M776.1,136.1V138.4M776.7,133.1V137.4M778.0,135.4V137.0M779.8,135.5V138.7M781.0,130.5V136.8M781.6,132.3V133.9M791.9,185.8V192.2M792.6,179.4V187.9M793.2,178.7V183.4M793.8,174.3V180.0M794.4,172.1V175.7M795.0,167.3V174.4M795.6,166.9V171.0M801.7,179.6V191.1M802.3,175.4V184.6M802.9,170.3V176.8M804.7,172.2V178.3M805.9,171.5V178.0M807.2,169.2V175.3M807.8,165.4V173.1M808.4,163.8V170.7M809.0,162.1V165.7M809.6,160.2V164.8M810.2,156.8V161.2M810.8,154.0V159.1M811.4,152.8V156.2M812.6,151.4V157.4M821.1,177.6V182.1M821.8,176.9V179.1M827.8,211.7V215.0M828.4,207.2V213.4M829.1,205.7V212.7M829.7,203.1V209.3M830.9,206.5V209.6M832.7,209.5V213.3" stroke="#4a8f88" stroke-width="1.0" fill="none"/>
<path d="M0.0,262.5V265.2M1.8,250.1V263.2M2.4,262.1V266.7M3.0,264.3V268.7M3.6,266.8V269.6M4.9,266.2V273.2M5.5,271.5V272.9M8.5,267.1V269.7M9.1,265.9V270.3M9.7,267.9V272.6M10.3,271.3V274.4M10.9,273.3V278.1M12.2,270.8V274.3M13.4,270.0V273.0M14.0,269.4V279.8M14.6,278.9V285.1M15.2,282.3V288.6M15.8,286.1V297.9M16.4,294.1V302.9M17.0,300.3V312.5M17.6,310.3V313.4M21.3,291.1V297.6M21.9,293.0V297.6M22.5,296.0V303.8M23.1,301.7V308.8M23.7,306.3V311.1M24.3,305.9V313.7M28.0,270.8V277.7M28.6,277.6V285.7M29.2,284.8V289.0M29.8,286.6V293.6M30.4,291.0V295.7M38.3,257.2V260.8M40.8,259.2V261.3M41.4,258.0V262.4M42.0,260.3V261.9M42.6,257.6V266.7M44.4,262.7V265.6M48.7,254.4V262.2M49.3,258.2V263.5M49.9,260.0V262.5M51.1,261.8V265.1M51.7,262.6V265.0M52.3,262.3V265.9M52.9,263.6V268.6M53.5,264.9V268.0M57.8,262.0V263.9M58.4,262.8V268.8M59.0,265.9V268.2M61.4,263.7V265.4M63.3,260.4V264.1M64.5,261.2V261.7M76.0,215.1V217.7M77.9,213.0V220.2M78.5,218.5V223.2M79.1,221.6V226.2M79.7,223.4V229.0M82.7,213.8V215.7M84.5,208.9V211.1M85.8,207.6V212.0M86.4,210.8V212.8M87.0,210.7V212.5M87.6,208.5V217.1M88.2,212.6V214.9M91.2,210.6V215.1M92.5,210.1V214.7M93.1,214.3V218.2M93.7,215.1V221.1M94.3,216.8V221.8M97.9,211.0V212.4M98.5,211.5V214.6M99.8,209.1V213.8M100.4,211.0V214.3M101.6,212.0V214.6M107.1,201.2V204.3M108.9,198.4V201.1M110.1,199.6V201.9M110.7,199.5V202.0M111.3,201.5V206.2M111.9,202.4V205.3M113.1,201.8V205.3M113.7,201.4V206.4M114.4,201.8V206.1M115.0,205.3V208.5M115.6,207.6V208.7M116.8,204.9V209.8M118.6,207.1V213.7M119.8,210.4V217.4M120.4,213.1V218.0M121.0,215.2V218.4M122.3,212.9V220.0M128.9,198.9V201.9M130.2,194.8V201.0M134.4,166.5V171.6M137.5,167.2V169.2M139.3,164.9V169.0M140.5,163.8V165.8M141.1,164.0V168.4M141.7,165.9V167.0M142.3,166.4V168.0M142.9,167.9V170.2M146.0,158.6V164.0M146.6,161.7V165.2M147.2,163.3V172.1M147.8,168.8V175.3M148.4,172.6V176.6M152.1,161.0V166.5M152.7,163.8V166.3M153.3,164.0V167.0M153.9,166.3V170.2M154.5,167.1V169.5M155.1,166.9V173.0M156.9,167.5V169.1M157.5,167.3V168.6M158.1,165.3V171.7M160.0,165.4V170.4M160.6,166.1V171.6M162.4,169.5V172.0M163.6,168.8V173.0M164.8,169.9V173.0M170.3,151.8V156.4M170.9,153.1V163.6M171.5,161.1V170.2M172.1,168.0V170.2M175.8,152.0V156.6M177.6,151.5V152.1M183.1,127.5V129.7M184.3,125.9V129.1M184.9,126.8V131.2M185.5,130.4V134.0M186.1,129.0V140.6M186.7,134.5V143.8M187.3,143.0V147.2M189.8,140.3V143.5M191.6,140.3V143.8M192.2,140.8V150.1M193.4,147.6V150.0M194.0,149.2V150.0M198.9,132.5V136.0M199.5,135.1V136.9M201.3,133.6V134.6M201.9,133.7V135.7M202.5,130.8V136.0M203.2,132.2V139.0M204.4,137.4V141.1M205.6,140.0V142.9M206.2,140.9V146.3M206.8,144.8V151.1M209.2,144.1V148.9M209.8,146.3V154.9M210.5,151.4V157.4M211.1,153.4V160.1M211.7,156.2V163.2M212.9,160.7V166.6M213.5,164.8V169.8M214.1,168.2V169.5M215.3,166.9V169.3M217.1,162.9V165.0M219.0,162.2V165.8M219.6,162.7V165.3M222.0,158.4V162.7M222.6,157.1V164.2M223.2,163.5V170.0M223.8,165.7V168.5M226.9,155.9V157.0M228.7,155.0V157.8M229.3,155.8V161.2M229.9,158.7V163.2M230.5,158.1V164.8M231.1,161.1V168.8M233.6,164.3V168.0M234.2,164.9V173.8M234.8,171.7V180.1M235.4,177.4V183.2M240.3,160.4V163.4M242.1,161.1V162.3M243.9,158.9V161.2M245.1,156.3V159.4M247.0,153.7V157.3M251.8,134.6V138.6M252.4,134.4V141.4M253.0,139.6V142.3M253.6,138.5V141.7M256.7,133.9V136.6M257.3,135.0V139.0M257.9,137.0V140.5M258.5,139.8V144.2M259.1,142.9V147.2M259.7,144.3V154.8M260.3,150.7V156.4M260.9,155.8V162.8M261.5,159.7V166.0M262.2,162.5V172.1M265.2,157.3V159.8M265.8,159.0V161.0M266.4,160.2V162.7M267.0,160.7V162.8M268.2,159.7V164.4M268.8,159.9V164.9M270.1,160.1V162.8M276.8,142.2V149.4M277.4,144.7V155.9M278.0,152.5V157.3M278.6,153.2V161.8M279.2,159.3V166.6M279.8,165.6V170.1M282.2,161.8V166.7M282.8,162.5V168.0M288.9,155.7V157.9M289.5,155.5V162.2M290.1,159.1V161.7M290.7,156.0V166.0M291.4,164.1V167.9M292.0,166.4V170.9M292.6,169.3V173.5M293.2,170.7V175.2M293.8,171.3V177.4M295.0,172.4V178.6M295.6,174.6V181.8M296.2,178.2V184.7M296.8,183.2V188.2M297.4,185.7V191.8M298.0,189.9V196.3M303.5,155.6V159.2M304.1,154.2V159.0M308.4,142.9V148.4M309.0,143.5V151.2M309.6,145.9V149.4M311.4,146.7V147.4M312.6,145.0V152.0M315.7,146.5V148.5M316.9,146.9V152.8M318.7,145.7V151.0M319.3,147.7V149.7M319.9,147.3V151.3M322.4,145.7V149.2M323.0,146.5V147.7M324.8,144.4V147.5M326.0,146.3V150.8M326.6,149.6V151.6M327.8,150.0V155.2M328.5,150.0V155.3M329.1,153.7V157.1M329.7,154.8V159.0M337.6,133.1V140.0M338.2,135.2V141.5M339.4,136.4V140.3M340.0,138.2V146.0M340.6,142.2V148.6M341.8,144.6V149.0M343.1,142.8V150.9M344.3,147.3V149.0M348.5,142.6V143.8M350.4,138.5V143.3M351.0,140.6V145.2M351.6,144.1V145.7M352.8,144.5V146.1M353.4,145.6V148.2M354.0,146.7V149.8M360.7,127.8V132.2M366.8,91.3V94.3M367.4,89.9V97.7M368.6,96.8V100.6M369.2,96.9V101.5M370.4,97.8V101.6M376.5,69.6V74.0M377.1,73.0V76.7M377.7,74.3V80.5M378.3,78.5V84.2M378.9,83.8V88.0M379.6,84.7V89.4M380.2,87.3V93.5M380.8,89.3V94.0M381.4,92.5V96.9M382.0,95.6V98.8M382.6,96.1V98.8M385.6,88.2V95.7M386.8,88.8V93.2M387.5,89.6V92.7M389.9,83.4V87.0M390.5,82.7V86.8M391.1,82.8V89.1M391.7,86.4V90.8M392.3,87.9V97.1M392.9,92.1V95.3M393.5,91.0V94.4M394.1,93.5V96.0M395.4,92.1V96.7M396.0,94.6V99.2M397.8,91.1V96.3M400.2,90.9V93.4M402.1,87.0V90.5M402.7,88.5V96.6M403.3,95.0V99.6M403.9,99.0V103.9M408.1,83.4V87.7M408.7,85.2V89.5M409.4,87.5V91.7M410.0,88.5V92.7M411.2,90.8V95.4M414.8,87.5V97.6M415.4,93.9V101.9M416.0,100.7V107.2M416.7,104.5V108.8M417.3,105.9V109.7M420.9,96.6V98.3M423.3,91.2V93.7M424.6,89.1V92.9M426.4,88.1V90.2M427.0,89.3V93.1M428.2,88.4V94.3M428.8,89.7V95.2M430.0,92.7V98.2M430.6,95.5V97.8M431.3,96.2V101.1M432.5,96.5V101.0M433.1,96.3V102.0M433.7,100.3V101.3M435.5,94.7V97.2M436.1,96.0V97.3M436.7,96.6V101.2M437.3,99.6V104.4M439.8,91.2V99.3M440.4,98.3V105.9M441.0,103.5V108.9M441.6,107.0V111.6M442.2,108.8V115.8M442.8,114.0V117.1M444.0,113.1V115.9M444.6,115.4V116.3M445.2,115.4V120.1M445.9,119.0V122.8M446.5,120.1V124.8M447.1,123.3V127.3M451.3,112.8V117.6M453.1,111.3V113.4M453.8,111.1V114.9M454.4,113.6V118.6M456.2,115.1V121.1M456.8,120.9V121.5M457.4,121.2V122.0M459.2,117.4V120.7M461.7,107.9V113.1M462.9,110.7V113.7M468.4,96.9V102.0M469.0,99.2V104.6M469.6,100.0V102.3M470.2,101.3V103.8M471.4,98.3V100.3M478.7,73.7V78.5M479.3,75.3V82.2M479.9,78.8V85.9M480.5,83.9V89.2M481.1,88.4V96.1M484.2,83.8V89.0M488.4,61.7V66.5M489.0,65.7V73.4M489.6,71.3V79.3M490.3,77.3V83.3M490.9,82.1V88.4M491.5,85.2V94.4M492.1,94.2V98.9M494.5,95.6V98.6M496.3,94.9V98.0M496.9,95.1V98.1M497.6,96.3V99.4M500.0,91.6V96.7M501.2,91.5V93.3M501.8,93.1V96.2M502.4,90.8V95.9M503.0,93.5V97.6M503.6,97.0V101.8M504.2,99.3V107.6M504.9,103.0V108.4M505.5,107.7V109.8M506.1,109.6V111.4M506.7,108.1V111.0M507.9,110.6V111.2M508.5,107.9V117.6M509.1,112.1V115.5M509.7,115.0V118.7M510.3,116.8V122.9M510.9,121.5V123.8M514.0,112.3V119.0M514.6,114.7V119.9M515.8,116.0V120.8M516.4,118.6V122.8M517.6,121.9V125.1M518.2,120.3V129.9M521.3,99.4V104.1M521.9,102.9V106.1M522.5,104.9V110.2M523.1,107.9V112.0M524.9,106.8V110.4M525.5,109.1V110.9M526.1,108.6V114.6M526.7,112.7V113.9M527.4,111.5V117.2M528.0,114.2V117.6M528.6,115.7V122.9M529.2,120.5V128.2M529.8,124.7V130.4M530.4,126.5V133.5M531.0,129.7V134.6M531.6,132.9V136.3M532.2,135.0V141.9M532.8,137.7V139.2M533.4,138.5V139.9M535.9,130.7V131.5M538.3,128.7V129.8M540.7,120.9V126.6M541.3,123.9V127.9M542.0,126.8V129.7M542.6,127.1V131.6M543.2,129.7V134.9M543.8,133.8V136.8M544.4,133.8V137.8M545.0,135.8V142.1M545.6,140.4V142.5M546.2,141.1V143.2M546.8,142.7V149.5M549.9,143.9V146.4M552.9,140.7V147.4M553.5,144.9V149.9M554.1,144.9V150.2M555.3,149.3V151.3M560.2,132.9V136.3M564.5,122.8V127.1M565.1,126.4V130.2M565.7,129.2V132.3M566.3,131.1V135.3M566.9,133.4V139.3M567.5,133.0V137.5M571.2,119.5V127.6M571.8,122.9V128.6M572.4,127.4V131.9M573.0,130.7V135.3M573.6,132.5V135.6M574.2,135.2V137.2M574.8,136.0V138.9M575.4,135.9V138.1M577.8,133.7V137.1M579.7,131.3V133.9M583.9,122.1V126.5M584.5,123.4V128.8M585.1,126.0V131.5M585.7,129.9V134.2M594.9,105.7V110.2M595.5,108.3V109.6M598.5,103.6V107.6M599.1,105.3V112.3M599.7,110.2V112.2M600.3,110.7V113.5M603.4,105.7V107.6M604.0,107.0V113.5M605.2,106.1V109.2M605.8,107.6V111.6M608.3,106.6V110.9M609.5,106.6V108.5M610.7,107.3V109.3M611.3,104.1V108.4M613.1,103.0V104.1M617.4,97.0V100.0M618.0,98.2V100.3M619.2,95.9V101.6M619.8,98.7V102.4M621.0,98.3V103.5M621.6,99.0V105.2M622.2,104.7V108.4M622.9,106.9V110.0M623.5,107.6V111.8M625.3,108.2V110.6M625.9,109.6V113.7M626.5,110.1V111.9M627.1,108.5V112.5M628.9,108.6V112.8M631.4,106.8V114.9M632.0,111.7V117.2M632.6,115.2V121.2M633.2,119.6V120.8M633.8,118.8V123.8M634.4,122.0V124.7M635.6,121.6V122.5M636.2,121.4V124.9M637.5,122.5V123.8M638.1,121.4V126.7M638.7,122.8V127.0M639.3,124.5V130.3M641.7,121.9V123.0M642.3,122.7V126.2M642.9,124.8V127.9M643.5,127.2V130.1M644.1,125.9V134.2M644.7,129.7V136.0M645.4,134.8V142.7M646.0,140.1V143.9M647.8,137.0V141.4M648.4,138.9V143.2M649.6,137.5V141.3M650.8,136.4V143.5M652.7,138.5V140.5M653.3,138.8V141.7M659.3,113.0V116.5M660.0,111.5V116.3M661.8,109.5V113.6M662.4,111.7V113.2M671.5,74.1V80.0M674.6,69.6V71.0M675.2,69.5V74.5M675.8,70.6V75.1M679.4,58.9V62.3M680.0,61.2V63.1M680.6,61.5V66.7M681.2,64.0V65.1M684.9,55.9V58.0M685.5,53.9V59.4M686.1,57.6V63.5M686.7,61.0V65.8M687.3,64.7V67.8M687.9,65.9V71.3M689.2,68.7V70.4M690.4,67.4V72.3M691.0,67.9V71.6M693.4,64.6V70.6M694.0,68.9V72.1M694.6,70.4V75.3M695.2,74.2V75.7M695.8,73.4V80.4M696.5,78.0V82.4M697.1,80.9V85.3M697.7,80.7V84.7M698.3,83.3V90.4M698.9,87.8V99.7M699.5,95.9V120.1M700.1,119.0V139.1M703.1,120.5V123.6M703.8,121.4V125.3M704.4,123.2V127.6M708.6,108.3V110.5M709.2,109.2V113.1M709.8,109.4V112.4M710.4,110.0V115.7M711.7,112.6V117.6M712.9,114.0V118.4M713.5,117.7V120.6M714.1,120.1V124.7M715.3,122.0V125.7M716.5,121.5V125.0M717.7,122.4V127.8M718.3,124.3V129.2M719.0,126.6V133.9M719.6,132.4V137.9M720.8,134.0V141.4M721.4,139.2V143.0M722.0,140.2V143.6M722.6,141.9V151.7M723.2,148.2V162.1M723.8,159.7V166.3M726.9,146.5V151.5M728.1,149.7V152.4M728.7,151.7V155.3M730.5,151.9V154.2M739.6,117.9V139.0M740.2,135.5V147.3M740.9,143.2V147.4M741.5,145.3V150.3M742.1,145.7V152.1M742.7,151.4V155.1M751.2,127.2V133.1M753.0,127.4V130.7M753.6,128.2V131.6M757.3,118.6V119.8M761.5,107.3V112.6M762.1,107.3V112.7M762.8,110.6V113.2M764.0,109.9V112.0M765.2,107.8V110.8M765.8,107.9V116.9M766.4,114.9V120.7M767.0,118.6V124.8M767.6,123.1V128.1M768.2,122.9V129.9M768.8,125.7V130.0M769.4,128.3V133.5M770.0,130.9V135.4M770.7,133.5V136.0M771.3,135.2V139.6M771.9,136.4V148.0M772.5,144.5V148.4M773.1,147.2V155.7M777.3,133.6V139.4M778.6,132.6V138.6M779.2,136.5V136.9M780.4,135.4V136.1M782.2,133.3V134.3M782.8,131.3V135.6M783.4,133.1V140.9M784.0,138.4V139.8M784.6,139.5V143.1M785.3,142.7V146.4M785.9,144.0V149.6M786.5,145.9V153.3M787.1,151.6V156.2M787.7,155.7V161.0M788.3,159.9V166.1M788.9,163.5V167.7M789.5,165.9V169.8M790.1,167.7V178.0M790.7,176.9V187.8M791.3,182.6V189.2M796.2,167.1V169.7M796.8,167.7V173.1M797.4,171.9V177.2M798.0,174.6V180.7M798.6,179.1V183.9M799.2,181.5V186.2M799.9,183.7V187.6M800.5,185.8V188.2M801.1,185.6V190.6M803.5,169.9V173.8M804.1,172.7V176.1M805.3,171.1V176.4M806.5,171.9V174.9M812.0,151.7V155.7M813.2,150.4V156.3M813.8,154.5V160.3M814.5,157.6V163.9M815.1,161.7V167.8M815.7,160.9V167.9M816.3,165.7V170.4M816.9,168.7V171.1M817.5,169.4V174.3M818.1,172.4V177.0M818.7,173.3V178.2M819.3,174.5V177.5M819.9,175.9V179.6M820.5,176.5V180.9M822.4,176.7V180.6M823.0,179.3V185.4M823.6,182.2V191.1M824.2,188.8V196.2M824.8,195.0V202.8M825.4,198.6V203.0M826.0,201.7V206.8M826.6,204.7V209.8M827.2,208.5V214.6M830.3,204.8V209.4M831.5,207.9V211.7M832.1,208.5V211.4" stroke="#a85858" stroke-width="1.0" fill="none"/>
<path d="M0.0,258.2 L1.8,258.3 L3.6,258.7 L5.5,259.1 L7.3,259.5 L9.1,259.8 L10.9,260.1 L12.8,260.4 L14.6,260.7 L16.4,261.4 L18.2,262.5 L20.1,263.2 L21.9,263.8 L23.7,264.9 L25.5,265.9 L27.4,266.3 L29.2,266.9 L31.0,267.7 L32.8,268.3 L34.7,268.6 L36.5,268.7 L38.3,268.6 L40.1,268.4 L42.0,268.3 L43.8,268.3 L45.6,268.2 L47.4,268.0 L49.3,267.7 L51.1,267.5 L52.9,267.5 L54.7,267.4 L56.6,267.2 L58.4,267.0 L60.2,266.9 L62.0,266.8 L63.9,266.5 L65.7,266.3 L67.5,265.9 L69.3,265.4 L71.2,264.7 L73.0,263.8 L74.8,262.6 L76.6,261.3 L78.5,260.0 L80.3,258.9 L82.1,257.7 L83.9,256.3 L85.8,254.9 L87.6,253.6 L89.4,252.3 L91.2,251.0 L93.1,249.8 L94.9,248.7 L96.7,247.5 L98.5,246.3 L100.4,245.1 L102.2,244.0 L104.0,243.0 L105.8,241.9 L107.7,240.8 L109.5,239.7 L111.3,238.7 L113.1,237.8 L115.0,236.9 L116.8,236.0 L118.6,235.1 L120.4,234.4 L122.3,233.7 L124.1,233.1 L125.9,232.4 L127.7,231.5 L129.6,230.7 L131.4,229.9 L133.2,228.8 L135.0,227.4 L136.9,226.1 L138.7,224.8 L140.5,223.5 L142.3,222.3 L144.2,221.0 L146.0,219.6 L147.8,218.4 L149.6,217.2 L151.5,215.9 L153.3,214.5 L155.1,213.3 L156.9,212.0 L158.8,210.7 L160.6,209.4 L162.4,208.2 L164.2,207.1 L166.1,205.9 L167.9,204.6 L169.7,203.1 L171.5,201.9 L173.4,200.9 L175.2,199.7 L177.0,198.5 L178.8,197.3 L180.7,195.9 L182.5,194.3 L184.3,192.8 L186.1,191.3 L188.0,190.2 L189.8,189.1 L191.6,187.8 L193.4,186.8 L195.2,185.8 L197.1,184.4 L198.9,183.0 L200.7,181.7 L202.5,180.3 L204.4,179.0 L206.2,177.8 L208.0,176.8 L209.8,175.7 L211.7,175.0 L213.5,174.5 L215.3,174.1 L217.1,173.7 L219.0,173.2 L220.8,172.7 L222.6,172.3 L224.4,172.0 L226.3,171.6 L228.1,171.1 L229.9,170.7 L231.7,170.4 L233.6,170.1 L235.4,170.1 L237.2,170.0 L239.0,169.6 L240.9,169.2 L242.7,168.8 L244.5,168.4 L246.3,168.0 L248.2,167.6 L250.0,167.1 L251.8,166.4 L253.6,165.8 L255.5,165.2 L257.3,164.5 L259.1,164.0 L260.9,163.8 L262.8,163.9 L264.6,163.6 L266.4,163.4 L268.2,163.2 L270.1,163.1 L271.9,163.0 L273.7,162.8 L275.5,162.4 L277.4,162.2 L279.2,162.2 L281.0,162.5 L282.8,162.7 L284.7,162.9 L286.5,163.1 L288.3,163.1 L290.1,163.2 L292.0,163.5 L293.8,163.8 L295.6,164.2 L297.4,164.9 L299.3,165.6 L301.1,165.6 L302.9,165.3 L304.7,165.0 L306.6,164.5 L308.4,164.0 L310.2,163.5 L312.0,163.0 L313.9,162.6 L315.7,162.1 L317.5,161.7 L319.3,161.3 L321.2,160.9 L323.0,160.4 L324.8,160.0 L326.6,159.6 L328.5,159.4 L330.3,159.3 L332.1,159.1 L333.9,158.7 L335.8,158.1 L337.6,157.5 L339.4,157.1 L341.2,156.8 L343.1,156.5 L344.9,156.3 L346.7,156.0 L348.5,155.7 L350.4,155.2 L352.2,154.9 L354.0,154.6 L355.8,154.3 L357.7,153.9 L359.5,153.1 L361.3,152.3 L363.1,151.2 L365.0,149.6 L366.8,147.8 L368.6,146.3 L370.4,144.9 L372.3,143.6 L374.1,142.2 L375.9,140.4 L377.7,138.8 L379.6,137.4 L381.4,136.2 L383.2,135.2 L385.0,134.0 L386.8,132.7 L388.7,131.5 L390.5,130.2 L392.3,129.1 L394.1,128.1 L396.0,127.2 L397.8,126.3 L399.6,125.4 L401.4,124.3 L403.3,123.5 L405.1,122.8 L406.9,121.9 L408.7,121.0 L410.6,120.2 L412.4,119.5 L414.2,118.7 L416.0,118.2 L417.9,117.9 L419.7,117.4 L421.5,116.8 L423.3,116.2 L425.2,115.4 L427.0,114.7 L428.8,114.1 L430.6,113.5 L432.5,113.1 L434.3,112.7 L436.1,112.1 L437.9,111.7 L439.8,111.0 L441.6,110.7 L443.4,110.6 L445.2,110.4 L447.1,110.5 L448.9,110.6 L450.7,110.5 L452.5,110.4 L454.4,110.3 L456.2,110.4 L458.0,110.7 L459.8,110.9 L461.7,110.9 L463.5,110.9 L465.3,110.8 L467.1,110.5 L469.0,110.3 L470.8,110.0 L472.6,109.7 L474.4,109.3 L476.3,108.8 L478.1,108.0 L479.9,107.4 L481.7,107.2 L483.6,106.9 L485.4,106.5 L487.2,105.8 L489.0,104.9 L490.9,104.5 L492.7,104.4 L494.5,104.2 L496.3,104.0 L498.2,103.7 L500.0,103.5 L501.8,103.2 L503.6,103.0 L505.5,103.2 L507.3,103.5 L509.1,103.8 L510.9,104.4 L512.8,104.8 L514.6,105.2 L516.4,105.7 L518.2,106.4 L520.1,106.9 L521.9,107.0 L523.7,107.3 L525.5,107.6 L527.4,108.0 L529.2,108.6 L531.0,109.3 L532.8,110.2 L534.7,110.9 L536.5,111.5 L538.3,112.0 L540.1,112.3 L542.0,112.6 L543.8,113.2 L545.6,113.8 L547.4,114.5 L549.3,115.2 L551.1,115.8 L552.9,116.4 L554.7,117.1 L556.6,117.8 L558.4,118.2 L560.2,118.7 L562.0,119.1 L563.9,119.3 L565.7,119.7 L567.5,120.3 L569.3,120.7 L571.2,120.8 L573.0,121.2 L574.8,121.6 L576.6,122.0 L578.4,122.3 L580.3,122.4 L582.1,122.3 L583.9,122.1 L585.7,122.0 L587.6,121.8 L589.4,121.5 L591.2,121.1 L593.0,120.6 L594.9,120.1 L596.7,119.6 L598.5,119.1 L600.3,118.8 L602.2,118.4 L604.0,118.0 L605.8,117.7 L607.6,117.5 L609.5,117.2 L611.3,117.0 L613.1,116.8 L614.9,116.5 L616.8,116.3 L618.6,116.0 L620.4,115.7 L622.2,115.6 L624.1,115.7 L625.9,115.7 L627.7,115.8 L629.5,115.7 L631.4,115.7 L633.2,115.9 L635.0,116.1 L636.8,116.3 L638.7,116.6 L640.5,116.9 L642.3,117.0 L644.1,117.3 L646.0,117.8 L647.8,118.3 L649.6,118.8 L651.4,119.4 L653.3,119.9 L655.1,120.4 L656.9,120.5 L658.7,120.2 L660.6,119.8 L662.4,119.2 L664.2,118.5 L666.0,117.5 L667.9,116.4 L669.7,115.2 L671.5,113.9 L673.3,112.6 L675.2,111.5 L677.0,110.5 L678.8,109.3 L680.6,108.3 L682.5,107.4 L684.3,106.4 L686.1,105.5 L687.9,104.8 L689.8,104.2 L691.6,103.6 L693.4,102.9 L695.2,102.3 L697.1,101.9 L698.9,101.6 L700.7,102.6 L702.5,103.4 L704.4,104.1 L706.2,104.9 L708.0,105.3 L709.8,105.8 L711.7,106.4 L713.5,107.0 L715.3,107.7 L717.1,108.3 L719.0,108.9 L720.8,109.7 L722.6,110.6 L724.4,111.9 L726.3,112.9 L728.1,113.8 L729.9,114.8 L731.7,115.7 L733.6,116.3 L735.4,116.8 L737.2,116.9 L739.0,116.9 L740.9,117.3 L742.7,118.0 L744.5,118.6 L746.3,119.0 L748.2,119.3 L750.0,119.5 L751.8,119.8 L753.6,120.2 L755.5,120.6 L757.3,120.9 L759.1,121.1 L760.9,121.2 L762.8,121.4 L764.6,121.5 L766.4,121.7 L768.2,122.1 L770.0,122.6 L771.9,123.2 L773.7,124.1 L775.5,124.6 L777.3,125.0 L779.2,125.3 L781.0,125.6 L782.8,125.8 L784.6,126.2 L786.5,126.6 L788.3,127.4 L790.1,128.4 L791.9,129.9 L793.8,131.2 L795.6,132.2 L797.4,133.3 L799.2,134.7 L801.1,136.4 L802.9,137.6 L804.7,138.8 L806.5,140.1 L808.4,141.1 L810.2,141.9 L812.0,142.5 L813.8,143.1 L815.7,143.8 L817.5,144.7 L819.3,145.6 L821.1,146.5 L823.0,147.4 L824.8,148.6 L826.6,150.1 L828.4,151.7 L830.3,153.0 L832.1,154.5" stroke="#74e2ea" stroke-width="2.5" fill="none" stroke-linejoin="round"/>
<rect x="837" y="209.2" width="41.4" height="282.6" fill="#d7ead6" opacity="0.85"/>
<line x1="836.4" x2="878.4" y1="209.2" y2="209.2" stroke="#3d8fd6" stroke-width="2"/>
<line x1="836.4" x2="878.4" y1="492" y2="492" stroke="#3d8fd6" stroke-width="2"/>
<line x1="857.1" x2="857.1" y1="209.2" y2="491" stroke="#3d8fd6" stroke-width="2"/>
<path d="M849.3,484.5 L856.8,491.6 L864.3,484.5" stroke="#3d8fd6" stroke-width="1.6" fill="none"/>
<line x1="836.4" y1="209.5" x2="1140.5" y2="491.5" stroke="#d43f58" stroke-width="2"/>
<path d="M1140,477.3 L1140.5,491.5 L1126,491.8" stroke="#d43f58" stroke-width="2" fill="none" stroke-linecap="round"/>
<line x1="1163.5" x2="1163.5" y1="0" y2="550" stroke="#e0e3eb" stroke-width="1"/>
<line x1="0" x2="1200" y1="532.5" y2="532.5" stroke="#e0e3eb" stroke-width="1"/>
</svg>
<div class="abs" style="left:4px;top:0;width:482px;height:16px;background:#fff"></div>
<div class="abs" style="left:4px;top:16px;width:110px;height:27px;background:#fff"></div>
<div class="abs" style="left:4px;top:47.5px;width:333px;height:10px;background:#fff"></div>
<div class="abs" style="left:21.5px;top:4.23px;font-size:9.8px;color:#131722;transform:scaleX(1.067);transform-origin:0 0;">Биткоин / Доллар США · 4ч · Bitstamp</div>
<div class="abs" style="left:227px;top:4.28px;font-size:8.6px;color:#131722;transform:scaleX(0.926);transform-origin:0 0;">ОТКР</div>
<div class="abs" style="left:249px;top:4.28px;font-size:8.6px;color:#2ba596;transform:scaleX(0.912);transform-origin:0 0;">95 758</div>
<div class="abs" style="left:278px;top:4.28px;font-size:8.6px;color:#131722;transform:scaleX(0.882);transform-origin:0 0;">МАКС</div>
<div class="abs" style="left:299.8px;top:4.28px;font-size:8.6px;color:#2ba596;transform:scaleX(0.927);transform-origin:0 0;">96 111</div>
<div class="abs" style="left:327.8px;top:4.28px;font-size:8.6px;color:#131722;transform:scaleX(0.920);transform-origin:0 0;">МИН</div>
<div class="abs" style="left:347.2px;top:4.28px;font-size:8.6px;color:#2ba596;transform:scaleX(0.905);transform-origin:0 0;">95 585</div>
<div class="abs" style="left:375.6px;top:4.28px;font-size:8.6px;color:#131722;transform:scaleX(0.886);transform-origin:0 0;">ЗАКР</div>
<div class="abs" style="left:396px;top:4.28px;font-size:8.6px;color:#2ba596;transform:scaleX(0.912);transform-origin:0 0;">95 897</div>
<div class="abs" style="left:425.2px;top:4.28px;font-size:8.6px;color:#2ba596;transform:scaleX(0.816);transform-origin:0 0;">+132</div>
<div class="abs" style="left:445.6px;top:4.28px;font-size:8.6px;color:#2ba596;transform:scaleX(0.879);transform-origin:0 0;">(+0,14%)</div>
<div class="abs" style="left:6.4px;top:18.6px;width:48.1px;height:22.3px;border:1px solid #dfb5bd;border-radius:3.5px;background:#fff"></div>
<div class="abs" style="left:68.4px;top:18.6px;width:43px;height:22.3px;border:1px solid #aab6de;border-radius:3.5px;background:#fff"></div>
<div class="abs" style="left:17.7px;top:21.24px;font-size:8.9px;color:#c94456;transform:scaleX(0.904);transform-origin:0 0;-webkit-text-stroke:0.15px #c94456">95 896</div>
<div class="abs" style="left:13.6px;top:31.44px;font-size:7.4px;color:#b86a78;transform:scaleX(0.964);transform-origin:0 0;">ПРОДАТЬ</div>
<div class="abs" style="left:59.8px;top:27.54px;font-size:6.6px;color:#131722;">1</div>
<div class="abs" style="left:77.5px;top:21.24px;font-size:8.9px;color:#3454b4;transform:scaleX(0.900);transform-origin:0 0;-webkit-text-stroke:0.15px #3454b4">95 897</div>
<div class="abs" style="left:75.3px;top:31.44px;font-size:7.4px;color:#5573b8;transform:scaleX(0.993);transform-origin:0 0;">КУПИТЬ</div>
<div class="abs" style="left:6.8px;top:48.52px;font-size:8.3px;color:#131722;transform:scaleX(0.926);transform-origin:0 0;">FF EMAR close</div>
<div class="abs" style="left:66.2px;top:48.32px;font-size:8.3px;color:#e6dc9c;transform:scaleX(0.938);transform-origin:0 0;">97 724</div>
<div class="abs" style="left:95px;top:48.32px;font-size:8.3px;color:#e9dccc;transform:scaleX(0.910);transform-origin:0 0;">98 205</div>
<div class="abs" style="left:123.1px;top:48.32px;font-size:8.3px;color:#c39272;transform:scaleX(0.910);transform-origin:0 0;">98 737</div>
<div class="abs" style="left:151.9px;top:48.32px;font-size:8.3px;color:#c28a52;transform:scaleX(0.910);transform-origin:0 0;">99 208</div>
<div class="abs" style="left:180px;top:48.32px;font-size:8.3px;color:#a86c6c;transform:scaleX(0.910);transform-origin:0 0;">99 631</div>
<div class="abs" style="left:208.75px;top:48.32px;font-size:8.3px;color:#c05252;transform:scaleX(0.913);transform-origin:0 0;">100 018</div>
<div class="abs" style="left:241.4px;top:48.32px;font-size:8.3px;color:#8a3434;transform:scaleX(0.953);transform-origin:0 0;">100 378</div>
<div class="abs" style="left:274.7px;top:48.32px;font-size:8.3px;color:#4a2c2e;transform:scaleX(0.933);transform-origin:0 0;">100 715</div>
<div class="abs" style="left:307.3px;top:48.32px;font-size:8.3px;color:#5cd8dc;transform:scaleX(0.933);transform-origin:0 0;">106 443</div>
<div class="abs" style="left:6.8px;top:62.4px;width:17.2px;height:12.7px;border:1px solid #e6e8ee;border-radius:2.5px;background:#fff"></div>
<svg width="20" height="14" style="left:6px;top:62px"><path d="M6.7,7.6 L9.7,5.4 L12.7,7.6" stroke="#131722" stroke-width="1.1" fill="none"/></svg>
<svg width="30" height="20" style="left:0;top:0"><circle cx="12.7" cy="8" r="5.9" fill="#f7931a"/><text x="12.7" y="10.6" font-size="7" text-anchor="middle" fill="#fbd9a8" font-family="Liberation Sans" font-weight="bold">₿</text></svg>
<svg width="20" height="20" style="left:206px;top:-2px"><circle cx="10.3" cy="9.9" r="4.7" fill="#e3f2ec"/><circle cx="10.3" cy="9.9" r="2.4" fill="#1f9f73"/></svg>
<div class="abs" style="left:1166px;top:2.2px;width:36px;height:14px;border:1px solid #f3f4f7;border-radius:2px"></div>
<div class="abs" style="left:1168.9px;top:4.44px;font-size:8.9px;color:#131722;transform:scaleX(0.697);transform-origin:0 0;">USD</div>
<svg width="8" height="8" style="left:1195px;top:6px"><path d="M1,2 L3,4 L5,2" stroke="#131722" stroke-width="0.9" fill="none"/></svg>
<div class="abs" style="left:1164.2px;top:203.7px;width:36px;height:20px;background:#26a69a;border-radius:1px 0 0 1px"></div>
<div class="abs" style="left:1169.3px;top:205.53px;font-size:8.2px;color:#ffffff;transform:scaleX(0.881);transform-origin:0 0;">95 897</div>
<div class="abs" style="left:1169.3px;top:214.93px;font-size:8.2px;color:#e6fbf8;transform:scaleX(0.962);transform-origin:0 0;">01:49:00</div>
<div class="abs" style="left:804.2px;top:498.8px;width:105.1px;height:16px;background:#3290e2;border-radius:3px"></div>
<div class="abs" style="left:811px;top:502.68px;font-size:8.6px;color:#0f1c3a;transform:scaleX(0.920);transform-origin:0 0;-webkit-text-stroke:0.2px #0f1c3a">-55 707 (-58,17%) -55 707</div>
<svg width="40" height="20" style="left:822px;top:513px"><defs><clipPath id="fc"><circle cx="23" cy="10.4" r="5.4"/></clipPath></defs><circle cx="27.9" cy="10.4" r="5.9" fill="#fff" stroke="#d9405a" stroke-width="1.1"/><circle cx="23" cy="10.4" r="5.9" fill="#fff" stroke="#d9405a" stroke-width="1.1"/><g clip-path="url(#fc)"><rect x="17" y="5" width="5.2" height="6.5" fill="#3a7fd0"/><rect x="22.2" y="7.6" width="6" height="1.2" fill="#e05a6a"/><rect x="22.2" y="9.9" width="6" height="1.5" fill="#e05a6a"/><rect x="17" y="13.2" width="12" height="3" fill="#e0584a"/></g><circle cx="10" cy="10.5" r="5.8" fill="#fff" stroke="#8a4aa0" stroke-width="1"/><path d="M12.9,6.9 L8.7,11.2 H10.9 L9.1,14.2 L13.3,9.9 H11.1 Z" fill="#8b2fc9"/></svg>
<svg width="30" height="14" style="left:0;top:508px"><path d="M8.7,4.6 H17 V14.5 H13 V8.6 H8.7 Z" fill="#131722"/><circle cx="20.2" cy="6.5" r="1.9" fill="#131722"/><path d="M23.5,4.7 H28.7 L24.8,14.5 H20.1 Z" fill="#131722"/></svg>
<div class="abs" style="left:33.75px;top:511.06px;font-size:13.4px;color:#131722;transform:scaleX(1.008);transform-origin:0 0;font-weight:bold;">TradingView</div>
<svg width="14" height="14" style="left:1179px;top:534px"><path d="M2.3,7.5 L4.4,3.6 H8.6 L10.7,7.5 L8.6,11.4 H4.4 Z" fill="none" stroke="#131722" stroke-width="0.95"/><circle cx="6.5" cy="7.5" r="1.5" fill="none" stroke="#131722" stroke-width="0.95"/></svg>
<div class="abs" style="left:1170.2px;top:21.74px;font-size:8.9px;color:#131722;transform:scaleX(0.802);transform-origin:0 0;">132 000</div>
<div class="abs" style="left:1170.2px;top:42.02px;font-size:8.9px;color:#131722;transform:scaleX(0.802);transform-origin:0 0;">128 000</div>
<div class="abs" style="left:1170.2px;top:62.29px;font-size:8.9px;color:#131722;transform:scaleX(0.802);transform-origin:0 0;">124 000</div>
<div class="abs" style="left:1170.2px;top:82.57px;font-size:8.9px;color:#131722;transform:scaleX(0.802);transform-origin:0 0;">120 000</div>
<div class="abs" style="left:1170.2px;top:102.84px;font-size:8.9px;color:#131722;transform:scaleX(0.802);transform-origin:0 0;">116 000</div>
<div class="abs" style="left:1170.2px;top:123.12px;font-size:8.9px;color:#131722;transform:scaleX(0.802);transform-origin:0 0;">112 000</div>
<div class="abs" style="left:1170.2px;top:143.39px;font-size:8.9px;color:#131722;transform:scaleX(0.802);transform-origin:0 0;">108 000</div>
<div class="abs" style="left:1170.2px;top:163.67px;font-size:8.9px;color:#131722;transform:scaleX(0.802);transform-origin:0 0;">104 000</div>
<div class="abs" style="left:1170.2px;top:183.94px;font-size:8.9px;color:#131722;transform:scaleX(0.802);transform-origin:0 0;">100 000</div>
<div class="abs" style="left:1170.2px;top:224.49px;font-size:8.9px;color:#131722;transform:scaleX(0.802);transform-origin:0 0;">92 000</div>
<div class="abs" style="left:1170.2px;top:244.77px;font-size:8.9px;color:#131722;transform:scaleX(0.802);transform-origin:0 0;">88 000</div>
<div class="abs" style="left:1170.2px;top:265.04px;font-size:8.9px;color:#131722;transform:scaleX(0.802);transform-origin:0 0;">84 000</div>
<div class="abs" style="left:1170.2px;top:285.32px;font-size:8.9px;color:#131722;transform:scaleX(0.802);transform-origin:0 0;">80 000</div>
<div class="abs" style="left:1170.2px;top:305.59px;font-size:8.9px;color:#131722;transform:scaleX(0.802);transform-origin:0 0;">76 000</div>
<div class="abs" style="left:1170.2px;top:325.87px;font-size:8.9px;color:#131722;transform:scaleX(0.802);transform-origin:0 0;">72 000</div>
<div class="abs" style="left:1170.2px;top:346.14px;font-size:8.9px;color:#131722;transform:scaleX(0.802);transform-origin:0 0;">68 000</div>
<div class="abs" style="left:1170.2px;top:366.42px;font-size:8.9px;color:#131722;transform:scaleX(0.802);transform-origin:0 0;">64 000</div>
<div class="abs" style="left:1170.2px;top:386.69px;font-size:8.9px;color:#131722;transform:scaleX(0.802);transform-origin:0 0;">60 000</div>
<div class="abs" style="left:1170.2px;top:406.97px;font-size:8.9px;color:#131722;transform:scaleX(0.802);transform-origin:0 0;">56 000</div>
<div class="abs" style="left:1170.2px;top:427.24px;font-size:8.9px;color:#131722;transform:scaleX(0.802);transform-origin:0 0;">52 000</div>
<div class="abs" style="left:1170.2px;top:447.52px;font-size:8.9px;color:#131722;transform:scaleX(0.802);transform-origin:0 0;">48 000</div>
<div class="abs" style="left:1170.2px;top:467.79px;font-size:8.9px;color:#131722;transform:scaleX(0.802);transform-origin:0 0;">44 000</div>
<div class="abs" style="left:1170.2px;top:488.07px;font-size:8.9px;color:#131722;transform:scaleX(0.802);transform-origin:0 0;">40 000</div>
<div class="abs" style="left:1170.2px;top:508.34px;font-size:8.9px;color:#131722;transform:scaleX(0.802);transform-origin:0 0;">36 000</div>
<div class="abs" style="left:97.48px;top:538.02px;font-size:8.3px;color:#131722;transform:scaleX(0.900);transform-origin:0 0;-webkit-text-stroke:0.15px #131722">Май</div>
<div class="abs" style="left:211.45px;top:538.02px;font-size:8.3px;color:#131722;transform:scaleX(0.900);transform-origin:0 0;-webkit-text-stroke:0.15px #131722">Июн</div>
<div class="abs" style="left:320.42px;top:538.02px;font-size:8.3px;color:#131722;transform:scaleX(0.900);transform-origin:0 0;-webkit-text-stroke:0.15px #131722">Июл</div>
<div class="abs" style="left:434.96px;top:538.02px;font-size:8.3px;color:#131722;transform:scaleX(0.900);transform-origin:0 0;-webkit-text-stroke:0.15px #131722">Авг</div>
<div class="abs" style="left:548.16px;top:538.02px;font-size:8.3px;color:#131722;transform:scaleX(0.900);transform-origin:0 0;-webkit-text-stroke:0.15px #131722">Сен</div>
<div class="abs" style="left:657.01px;top:538.02px;font-size:8.3px;color:#131722;transform:scaleX(0.900);transform-origin:0 0;-webkit-text-stroke:0.15px #131722">Окт</div>
<div class="abs" style="left:770.7px;top:538.02px;font-size:8.3px;color:#131722;transform:scaleX(0.900);transform-origin:0 0;-webkit-text-stroke:0.15px #131722">Ноя</div>
<div class="abs" style="left:881.26px;top:538.02px;font-size:8.3px;color:#131722;transform:scaleX(0.900);transform-origin:0 0;-webkit-text-stroke:0.15px #131722">Дек</div>
<div class="abs" style="left:991.77px;top:538.02px;font-size:8.3px;color:#131722;transform:scaleX(1.000);transform-origin:0 0;font-weight:bold;">2026</div>
<div class="abs" style="left:1107.1px;top:538.02px;font-size:8.3px;color:#131722;transform:scaleX(0.900);transform-origin:0 0;-webkit-text-stroke:0.15px #131722">Фев</div>
</body></html>
